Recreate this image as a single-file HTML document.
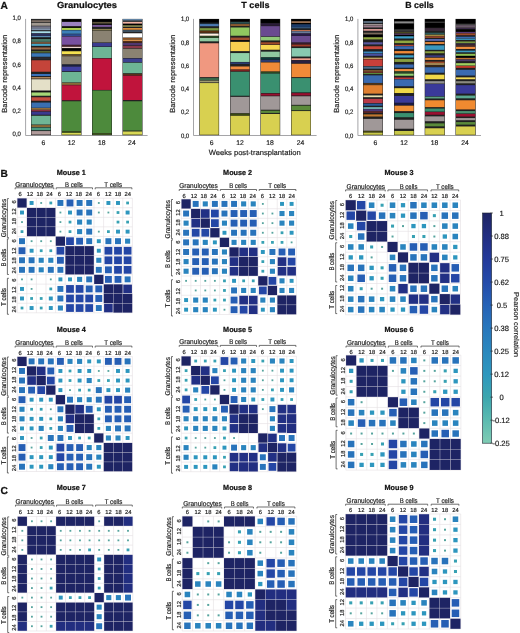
<!DOCTYPE html>
<html lang="en">
<head>
<meta charset="utf-8">
<title>Barcode representation and Pearson correlation</title>
<style>
html,body{margin:0;padding:0;background:#fff;}
body{width:520px;height:633px;overflow:hidden;}
svg{display:block;font-family:'Liberation Sans', sans-serif;will-change:transform;}
text{white-space:pre;}
</style>
</head>
<body>
<svg width="520" height="633" viewBox="0 0 520 633" shape-rendering="auto" text-rendering="geometricPrecision">
<rect x="0" y="0" width="520" height="633" fill="#ffffff"/>
<text x="87" y="8" font-size="8.8" text-anchor="middle" font-weight="bold" stroke="#111" stroke-width="0.22" fill="#111" textLength="60" lengthAdjust="spacingAndGlyphs">Granulocytes</text>
<path d="M25.6 18.9 V135.5 H147.6" fill="none" stroke="#8e8e92" stroke-width="0.8"/>
<text x="20.9" y="20.1" font-size="6.4" text-anchor="end" stroke="#1a1a1a" stroke-width="0.18" fill="#1a1a1a" textLength="8.3" lengthAdjust="spacingAndGlyphs">1,0</text>
<text x="20.9" y="43.35" font-size="6.4" text-anchor="end" stroke="#1a1a1a" stroke-width="0.18" fill="#1a1a1a" textLength="8.3" lengthAdjust="spacingAndGlyphs">0,8</text>
<text x="20.9" y="66.6" font-size="6.4" text-anchor="end" stroke="#1a1a1a" stroke-width="0.18" fill="#1a1a1a" textLength="8.3" lengthAdjust="spacingAndGlyphs">0,6</text>
<text x="20.9" y="89.85" font-size="6.4" text-anchor="end" stroke="#1a1a1a" stroke-width="0.18" fill="#1a1a1a" textLength="8.3" lengthAdjust="spacingAndGlyphs">0,4</text>
<text x="20.9" y="113.1" font-size="6.4" text-anchor="end" stroke="#1a1a1a" stroke-width="0.18" fill="#1a1a1a" textLength="8.3" lengthAdjust="spacingAndGlyphs">0,2</text>
<text x="20.9" y="136.35" font-size="6.4" text-anchor="end" stroke="#1a1a1a" stroke-width="0.18" fill="#1a1a1a" textLength="8.3" lengthAdjust="spacingAndGlyphs">0,0</text>
<text x="4.4" y="73.8" font-size="7.4" text-anchor="middle" stroke="#222" stroke-width="0.18" fill="#222" transform="rotate(-90 4.4 73.8)" textLength="78" lengthAdjust="spacingAndGlyphs" dominant-baseline="central">Barcode representation</text>
<rect x="31" y="18.9" width="20" height="116.3" fill="#202020"/>
<rect x="31.45" y="19.12" width="19.1" height="0.96" fill="#2a2a2a"/>
<rect x="31.45" y="20.32" width="19.1" height="1.56" fill="#8a7a70"/>
<rect x="31.45" y="22.77" width="19.1" height="2.96" fill="#a09890"/>
<rect x="31.45" y="26.42" width="19.1" height="1.36" fill="#8a8ca4"/>
<rect x="31.45" y="28.22" width="19.1" height="1.96" fill="#8292aa"/>
<rect x="31.45" y="31.27" width="19.1" height="1.96" fill="#a8dce8"/>
<rect x="31.45" y="33.62" width="19.1" height="2.06" fill="#2a3060"/>
<rect x="31.45" y="35.92" width="19.1" height="1.46" fill="#5a8ab0"/>
<rect x="31.45" y="37.62" width="19.1" height="0.96" fill="#111111"/>
<rect x="31.45" y="38.97" width="19.1" height="2.86" fill="#4a7a68"/>
<rect x="31.45" y="42.22" width="19.1" height="1.46" fill="#8a6040"/>
<rect x="31.45" y="43.92" width="19.1" height="1.96" fill="#48a8c8"/>
<rect x="31.45" y="47.42" width="19.1" height="2.06" fill="#9a6848"/>
<rect x="31.45" y="51.42" width="19.1" height="0.96" fill="#7a9a40"/>
<rect x="31.45" y="53.27" width="19.1" height="3.46" fill="#3a78b8"/>
<rect x="31.45" y="57.27" width="19.1" height="2.16" fill="#2a2a30"/>
<rect x="31.45" y="60.27" width="19.1" height="11.46" fill="#c4443a"/>
<rect x="31.45" y="73.97" width="19.1" height="2.06" fill="#3a70b8"/>
<rect x="31.45" y="77.12" width="19.1" height="1.36" fill="#c09060"/>
<rect x="31.45" y="79.27" width="19.1" height="11.26" fill="#e4e0c8"/>
<rect x="31.45" y="90.92" width="19.1" height="1.16" fill="#111111"/>
<rect x="31.45" y="92.47" width="19.1" height="3.26" fill="#a5d877"/>
<rect x="31.45" y="97.27" width="19.1" height="3.46" fill="#c44e3f"/>
<rect x="31.45" y="102.57" width="19.1" height="5.16" fill="#3a6fb0"/>
<rect x="31.45" y="108.12" width="19.1" height="1.56" fill="#a07840"/>
<rect x="31.45" y="109.92" width="19.1" height="1.46" fill="#8a3040"/>
<rect x="31.45" y="111.77" width="19.1" height="2.96" fill="#3a3a8f"/>
<rect x="31.45" y="115.77" width="19.1" height="8.76" fill="#6fb596"/>
<rect x="31.45" y="125.07" width="19.1" height="1.96" fill="#8a6a38"/>
<rect x="31.45" y="127.57" width="19.1" height="2.66" fill="#4a9a80"/>
<rect x="31.45" y="131.07" width="19.1" height="3.46" fill="#b09a9a"/>
<text x="43.4" y="145.2" font-size="6.8" text-anchor="middle" stroke="#222" stroke-width="0.18" fill="#222">6</text>
<rect x="61.5" y="18.9" width="20" height="116.3" fill="#202020"/>
<rect x="61.95" y="19.27" width="19.1" height="2.16" fill="#000000"/>
<rect x="61.95" y="21.97" width="19.1" height="4.26" fill="#9a82c0"/>
<rect x="61.95" y="26.62" width="19.1" height="1.26" fill="#000000"/>
<rect x="61.95" y="27.92" width="19.1" height="2.06" fill="#aed052"/>
<rect x="61.95" y="30.37" width="19.1" height="3.36" fill="#3c80b8"/>
<rect x="61.95" y="34.12" width="19.1" height="2.06" fill="#2c4c90"/>
<rect x="61.95" y="36.57" width="19.1" height="8.16" fill="#7850a0"/>
<rect x="61.95" y="45.12" width="19.1" height="1.46" fill="#4a2030"/>
<rect x="61.95" y="46.82" width="19.1" height="1.26" fill="#f0d8d0"/>
<rect x="61.95" y="48.47" width="19.1" height="2.06" fill="#000000"/>
<rect x="61.95" y="51.27" width="19.1" height="2.96" fill="#f5e050"/>
<rect x="61.95" y="54.62" width="19.1" height="1.26" fill="#6a5030"/>
<rect x="61.95" y="56.27" width="19.1" height="8.06" fill="#8a8070"/>
<rect x="61.95" y="64.72" width="19.1" height="1.46" fill="#1a2040"/>
<rect x="61.95" y="66.57" width="19.1" height="4.66" fill="#4040a0"/>
<rect x="61.95" y="71.97" width="19.1" height="10.46" fill="#6db595"/>
<rect x="61.95" y="82.82" width="19.1" height="2.06" fill="#8a6a38"/>
<rect x="61.95" y="85.27" width="19.1" height="14.96" fill="#c0143c"/>
<rect x="61.95" y="101.27" width="19.1" height="29.76" fill="#4d8a3c"/>
<rect x="61.95" y="131.42" width="19.1" height="1.26" fill="#4a6a20"/>
<rect x="61.95" y="132.92" width="19.1" height="1.76" fill="#d8d855"/>
<text x="71.5" y="145.2" font-size="6.8" text-anchor="middle" stroke="#222" stroke-width="0.18" fill="#222">12</text>
<rect x="92" y="18.9" width="20" height="116.3" fill="#202020"/>
<rect x="92.45" y="19.27" width="19.1" height="2.46" fill="#000000"/>
<rect x="92.45" y="22.12" width="19.1" height="1.46" fill="#6a6040"/>
<rect x="92.45" y="23.82" width="19.1" height="0.86" fill="#000000"/>
<rect x="92.45" y="24.92" width="19.1" height="1.96" fill="#7a5a9a"/>
<rect x="92.45" y="27.12" width="19.1" height="1.56" fill="#222222"/>
<rect x="92.45" y="28.92" width="19.1" height="1.46" fill="#8a8050"/>
<rect x="92.45" y="30.77" width="19.1" height="11.66" fill="#8a8272"/>
<rect x="92.45" y="42.97" width="19.1" height="3.46" fill="#3c3c90"/>
<rect x="92.45" y="46.97" width="19.1" height="11.06" fill="#6db595"/>
<rect x="92.45" y="58.57" width="19.1" height="31.36" fill="#c0143c"/>
<rect x="92.45" y="90.47" width="19.1" height="42.56" fill="#4d8a3c"/>
<rect x="92.45" y="133.42" width="19.1" height="1.26" fill="#4a6a20"/>
<text x="101.7" y="145.2" font-size="6.8" text-anchor="middle" stroke="#222" stroke-width="0.18" fill="#222">18</text>
<rect x="122.5" y="18.9" width="20" height="116.3" fill="#202020"/>
<rect x="122.95" y="19.02" width="19.1" height="1.56" fill="#6486a6"/>
<rect x="122.95" y="20.82" width="19.1" height="0.96" fill="#444444"/>
<rect x="122.95" y="22.02" width="19.1" height="1.66" fill="#f4b4a4"/>
<rect x="122.95" y="23.82" width="19.1" height="1.26" fill="#000000"/>
<rect x="122.95" y="25.32" width="19.1" height="1.56" fill="#8a8a50"/>
<rect x="122.95" y="28.12" width="19.1" height="1.56" fill="#f09a40"/>
<rect x="122.95" y="30.07" width="19.1" height="1.96" fill="#3c5060"/>
<rect x="122.95" y="33.27" width="19.1" height="4.26" fill="#ffffff"/>
<rect x="122.95" y="37.92" width="19.1" height="1.46" fill="#8a5020"/>
<rect x="122.95" y="39.62" width="19.1" height="1.26" fill="#f0a050"/>
<rect x="122.95" y="41.12" width="19.1" height="1.46" fill="#5a3018"/>
<rect x="122.95" y="42.97" width="19.1" height="2.36" fill="#503870"/>
<rect x="122.95" y="45.87" width="19.1" height="2.36" fill="#8a3848"/>
<rect x="122.95" y="48.77" width="19.1" height="9.26" fill="#8a8272"/>
<rect x="122.95" y="58.57" width="19.1" height="3.66" fill="#3c4090"/>
<rect x="122.95" y="62.77" width="19.1" height="10.46" fill="#6db595"/>
<rect x="122.95" y="73.92" width="19.1" height="1.36" fill="#5a3018"/>
<rect x="122.95" y="75.67" width="19.1" height="24.36" fill="#c0143c"/>
<rect x="122.95" y="101.27" width="19.1" height="29.26" fill="#4d8a3c"/>
<rect x="122.95" y="131.47" width="19.1" height="3.16" fill="#d8d855"/>
<text x="131.9" y="145.2" font-size="6.8" text-anchor="middle" stroke="#222" stroke-width="0.18" fill="#222">24</text>
<text x="255.4" y="8" font-size="8.8" text-anchor="middle" font-weight="bold" stroke="#111" stroke-width="0.22" fill="#111" textLength="28.2" lengthAdjust="spacingAndGlyphs">T cells</text>
<path d="M193.5 18.9 V135.5 H316.6" fill="none" stroke="#8e8e92" stroke-width="0.8"/>
<text x="189.2" y="21.4" font-size="6.4" text-anchor="end" stroke="#1a1a1a" stroke-width="0.18" fill="#1a1a1a" textLength="8.3" lengthAdjust="spacingAndGlyphs">1,0</text>
<text x="189.2" y="44.65" font-size="6.4" text-anchor="end" stroke="#1a1a1a" stroke-width="0.18" fill="#1a1a1a" textLength="8.3" lengthAdjust="spacingAndGlyphs">0,8</text>
<text x="189.2" y="67.9" font-size="6.4" text-anchor="end" stroke="#1a1a1a" stroke-width="0.18" fill="#1a1a1a" textLength="8.3" lengthAdjust="spacingAndGlyphs">0,6</text>
<text x="189.2" y="91.15" font-size="6.4" text-anchor="end" stroke="#1a1a1a" stroke-width="0.18" fill="#1a1a1a" textLength="8.3" lengthAdjust="spacingAndGlyphs">0,4</text>
<text x="189.2" y="114.4" font-size="6.4" text-anchor="end" stroke="#1a1a1a" stroke-width="0.18" fill="#1a1a1a" textLength="8.3" lengthAdjust="spacingAndGlyphs">0,2</text>
<text x="189.2" y="137.65" font-size="6.4" text-anchor="end" stroke="#1a1a1a" stroke-width="0.18" fill="#1a1a1a" textLength="8.3" lengthAdjust="spacingAndGlyphs">0,0</text>
<text x="172.8" y="73.8" font-size="7.4" text-anchor="middle" stroke="#222" stroke-width="0.18" fill="#222" transform="rotate(-90 172.8 73.8)" textLength="78" lengthAdjust="spacingAndGlyphs" dominant-baseline="central">Barcode representation</text>
<rect x="199.3" y="18.9" width="19.8" height="116.3" fill="#202020"/>
<rect x="199.75" y="19.17" width="18.9" height="3.36" fill="#000000"/>
<rect x="199.75" y="22.92" width="18.9" height="0.76" fill="#1a3040"/>
<rect x="199.75" y="24.07" width="18.9" height="2.16" fill="#4a78b0"/>
<rect x="199.75" y="28.17" width="18.9" height="2.36" fill="#7a9a40"/>
<rect x="199.75" y="30.92" width="18.9" height="1.86" fill="#5a3010"/>
<rect x="199.75" y="33.57" width="18.9" height="2.16" fill="#fff0e0"/>
<rect x="199.75" y="36.12" width="18.9" height="1.46" fill="#2a4a20"/>
<rect x="199.75" y="37.97" width="18.9" height="3.36" fill="#90c8a0"/>
<rect x="199.75" y="43.27" width="18.9" height="33.86" fill="#f09880"/>
<rect x="199.75" y="78.07" width="18.9" height="2.16" fill="#3a6a4a"/>
<rect x="199.75" y="80.62" width="18.9" height="1.76" fill="#a09a70"/>
<rect x="199.75" y="83.07" width="18.9" height="51.66" fill="#d8d050"/>
<text x="211.6" y="145.2" font-size="6.8" text-anchor="middle" stroke="#222" stroke-width="0.18" fill="#222">6</text>
<rect x="230.1" y="18.9" width="19.8" height="116.3" fill="#202020"/>
<rect x="230.55" y="19.17" width="18.9" height="2.36" fill="#000000"/>
<rect x="230.55" y="21.92" width="18.9" height="1.76" fill="#2a5050"/>
<rect x="230.55" y="24.07" width="18.9" height="1.96" fill="#8a5a30"/>
<rect x="230.55" y="27.47" width="18.9" height="8.26" fill="#90c860"/>
<rect x="230.55" y="37.57" width="18.9" height="2.46" fill="#a05030"/>
<rect x="230.55" y="40.42" width="18.9" height="1.06" fill="#000000"/>
<rect x="230.55" y="41.87" width="18.9" height="9.26" fill="#f8d050"/>
<rect x="230.55" y="53.07" width="18.9" height="8.86" fill="#90d0a8"/>
<rect x="230.55" y="62.32" width="18.9" height="1.76" fill="#2a3a70"/>
<rect x="230.55" y="64.32" width="18.9" height="1.76" fill="#222222"/>
<rect x="230.55" y="66.47" width="18.9" height="2.96" fill="#f08a40"/>
<rect x="230.55" y="69.82" width="18.9" height="1.56" fill="#7a2020"/>
<rect x="230.55" y="71.77" width="18.9" height="23.96" fill="#3a9070"/>
<rect x="230.55" y="96.87" width="18.9" height="16.36" fill="#a09898"/>
<rect x="230.55" y="113.62" width="18.9" height="1.76" fill="#3a4a10"/>
<rect x="230.55" y="115.77" width="18.9" height="18.96" fill="#d8d050"/>
<text x="240" y="145.2" font-size="6.8" text-anchor="middle" stroke="#222" stroke-width="0.18" fill="#222">12</text>
<rect x="260.4" y="18.9" width="19.8" height="116.3" fill="#202020"/>
<rect x="260.85" y="19.17" width="18.9" height="3.76" fill="#000000"/>
<rect x="260.85" y="23.47" width="18.9" height="2.16" fill="#2a1a3a"/>
<rect x="260.85" y="26.17" width="18.9" height="10.16" fill="#6a4a90"/>
<rect x="260.85" y="36.87" width="18.9" height="3.56" fill="#90c878"/>
<rect x="260.85" y="42.27" width="18.9" height="2.16" fill="#a04a28"/>
<rect x="260.85" y="44.97" width="18.9" height="4.76" fill="#f8d850"/>
<rect x="260.85" y="51.67" width="18.9" height="5.56" fill="#90c8a0"/>
<rect x="260.85" y="57.62" width="18.9" height="1.76" fill="#0a3a3a"/>
<rect x="260.85" y="59.77" width="18.9" height="2.16" fill="#2a3a70"/>
<rect x="260.85" y="62.47" width="18.9" height="8.96" fill="#f08a38"/>
<rect x="260.85" y="71.82" width="18.9" height="1.36" fill="#2a4a20"/>
<rect x="260.85" y="73.57" width="18.9" height="19.46" fill="#3a9070"/>
<rect x="260.85" y="93.62" width="18.9" height="1.96" fill="#9a1030"/>
<rect x="260.85" y="96.27" width="18.9" height="13.46" fill="#a09898"/>
<rect x="260.85" y="110.67" width="18.9" height="2.26" fill="#5a8a3a"/>
<rect x="260.85" y="113.97" width="18.9" height="20.76" fill="#d8d050"/>
<text x="270" y="145.2" font-size="6.8" text-anchor="middle" stroke="#222" stroke-width="0.18" fill="#222">18</text>
<rect x="291.1" y="18.9" width="19.9" height="116.3" fill="#202020"/>
<rect x="291.55" y="19.17" width="19" height="1.96" fill="#000000"/>
<rect x="291.55" y="21.52" width="19" height="1.16" fill="#e0a070"/>
<rect x="291.55" y="22.92" width="19" height="1.06" fill="#000000"/>
<rect x="291.55" y="24.37" width="19" height="2.56" fill="#1a3a6a"/>
<rect x="291.55" y="27.32" width="19" height="1.06" fill="#3a6aa0"/>
<rect x="291.55" y="28.62" width="19" height="1.16" fill="#222222"/>
<rect x="291.55" y="30.02" width="19" height="1.06" fill="#c07050"/>
<rect x="291.55" y="31.32" width="19" height="2.06" fill="#6a7a9a"/>
<rect x="291.55" y="33.62" width="19" height="1.96" fill="#2a1a4a"/>
<rect x="291.55" y="35.97" width="19" height="6.46" fill="#6a4a90"/>
<rect x="291.55" y="42.82" width="19" height="1.36" fill="#3a1a2a"/>
<rect x="291.55" y="44.57" width="19" height="1.86" fill="#a03a2a"/>
<rect x="291.55" y="48.07" width="19" height="8.46" fill="#88c8b0"/>
<rect x="291.55" y="58.32" width="19" height="1.76" fill="#f0a090"/>
<rect x="291.55" y="60.47" width="19" height="2.76" fill="#2a2040"/>
<rect x="291.55" y="63.77" width="19" height="13.36" fill="#f08a38"/>
<rect x="291.55" y="78.07" width="19" height="14.26" fill="#3a9070"/>
<rect x="291.55" y="93.17" width="19" height="2.26" fill="#9a1030"/>
<rect x="291.55" y="96.27" width="19" height="8.56" fill="#a09898"/>
<rect x="291.55" y="105.67" width="19" height="4.56" fill="#5a8a3a"/>
<rect x="291.55" y="111.07" width="19" height="23.66" fill="#d8d050"/>
<text x="300.45" y="145.2" font-size="6.8" text-anchor="middle" stroke="#222" stroke-width="0.18" fill="#222">24</text>
<text x="419.5" y="8" font-size="8.8" text-anchor="middle" font-weight="bold" stroke="#111" stroke-width="0.22" fill="#111" textLength="28.6" lengthAdjust="spacingAndGlyphs">B cells</text>
<path d="M357.9 18.9 V135.5 H481" fill="none" stroke="#8e8e92" stroke-width="0.8"/>
<text x="353.3" y="21.4" font-size="6.4" text-anchor="end" stroke="#1a1a1a" stroke-width="0.18" fill="#1a1a1a" textLength="8.3" lengthAdjust="spacingAndGlyphs">1,0</text>
<text x="353.3" y="44.65" font-size="6.4" text-anchor="end" stroke="#1a1a1a" stroke-width="0.18" fill="#1a1a1a" textLength="8.3" lengthAdjust="spacingAndGlyphs">0,8</text>
<text x="353.3" y="67.9" font-size="6.4" text-anchor="end" stroke="#1a1a1a" stroke-width="0.18" fill="#1a1a1a" textLength="8.3" lengthAdjust="spacingAndGlyphs">0,6</text>
<text x="353.3" y="91.15" font-size="6.4" text-anchor="end" stroke="#1a1a1a" stroke-width="0.18" fill="#1a1a1a" textLength="8.3" lengthAdjust="spacingAndGlyphs">0,4</text>
<text x="353.3" y="114.4" font-size="6.4" text-anchor="end" stroke="#1a1a1a" stroke-width="0.18" fill="#1a1a1a" textLength="8.3" lengthAdjust="spacingAndGlyphs">0,2</text>
<text x="353.3" y="137.65" font-size="6.4" text-anchor="end" stroke="#1a1a1a" stroke-width="0.18" fill="#1a1a1a" textLength="8.3" lengthAdjust="spacingAndGlyphs">0,0</text>
<text x="336.5" y="73.8" font-size="7.4" text-anchor="middle" stroke="#222" stroke-width="0.18" fill="#222" transform="rotate(-90 336.5 73.8)" textLength="78" lengthAdjust="spacingAndGlyphs" dominant-baseline="central">Barcode representation</text>
<rect x="363" y="18.9" width="20" height="116.3" fill="#202020"/>
<rect x="363.45" y="19.02" width="19.1" height="1.76" fill="#000000"/>
<rect x="363.45" y="21.02" width="19.1" height="2.06" fill="#5a6a7a"/>
<rect x="363.45" y="24.22" width="19.1" height="1.16" fill="#c0b0b0"/>
<rect x="363.45" y="25.62" width="19.1" height="1.86" fill="#9a7a8a"/>
<rect x="363.45" y="29.12" width="19.1" height="1.56" fill="#f0a8a0"/>
<rect x="363.45" y="32.72" width="19.1" height="1.76" fill="#7a6a5a"/>
<rect x="363.45" y="34.72" width="19.1" height="2.16" fill="#000000"/>
<rect x="363.45" y="37.27" width="19.1" height="2.16" fill="#90a840"/>
<rect x="363.45" y="42.27" width="19.1" height="2.16" fill="#5a58a0"/>
<rect x="363.45" y="46.27" width="19.1" height="2.86" fill="#c8483a"/>
<rect x="363.45" y="51.52" width="19.1" height="1.86" fill="#3a8ac0"/>
<rect x="363.45" y="53.77" width="19.1" height="2.06" fill="#4a50a0"/>
<rect x="363.45" y="57.62" width="19.1" height="1.36" fill="#c0a060"/>
<rect x="363.45" y="59.37" width="19.1" height="6.66" fill="#c8403a"/>
<rect x="363.45" y="66.57" width="19.1" height="2.16" fill="#4a6a8a"/>
<rect x="363.45" y="70.52" width="19.1" height="0.86" fill="#d09040"/>
<rect x="363.45" y="71.62" width="19.1" height="1.06" fill="#8a2a2a"/>
<rect x="363.45" y="72.92" width="19.1" height="1.16" fill="#5a8a3a"/>
<rect x="363.45" y="75.37" width="19.1" height="7.56" fill="#3a6ab0"/>
<rect x="363.45" y="83.32" width="19.1" height="1.46" fill="#5a3a1a"/>
<rect x="363.45" y="85.17" width="19.1" height="8.46" fill="#e08030"/>
<rect x="363.45" y="95.42" width="19.1" height="1.76" fill="#e8e0b0"/>
<rect x="363.45" y="98.87" width="19.1" height="4.26" fill="#b83a48"/>
<rect x="363.45" y="103.67" width="19.1" height="2.06" fill="#2a5a9a"/>
<rect x="363.45" y="107.12" width="19.1" height="1.86" fill="#70b0b0"/>
<rect x="363.45" y="109.22" width="19.1" height="2.06" fill="#4a3a7a"/>
<rect x="363.45" y="111.52" width="19.1" height="1.16" fill="#7a2a2a"/>
<rect x="363.45" y="114.37" width="19.1" height="2.16" fill="#c07830"/>
<rect x="363.45" y="118.87" width="19.1" height="11.86" fill="#a09898"/>
<rect x="363.45" y="131.12" width="19.1" height="1.06" fill="#4a4a10"/>
<rect x="363.45" y="132.57" width="19.1" height="2.16" fill="#c8c848"/>
<text x="375.4" y="145.2" font-size="6.8" text-anchor="middle" stroke="#222" stroke-width="0.18" fill="#222">6</text>
<rect x="394" y="18.9" width="20.1" height="116.3" fill="#202020"/>
<rect x="394.45" y="19.02" width="19.2" height="2.06" fill="#000000"/>
<rect x="394.45" y="21.47" width="19.2" height="1.86" fill="#8a8a8a"/>
<rect x="394.45" y="23.87" width="19.2" height="5.06" fill="#000000"/>
<rect x="394.45" y="29.47" width="19.2" height="2.16" fill="#3a3a3a"/>
<rect x="394.45" y="32.02" width="19.2" height="1.36" fill="#4a4a20"/>
<rect x="394.45" y="33.62" width="19.2" height="1.16" fill="#5a3a6a"/>
<rect x="394.45" y="35.02" width="19.2" height="1.06" fill="#000000"/>
<rect x="394.45" y="36.32" width="19.2" height="2.16" fill="#3aa0c8"/>
<rect x="394.45" y="40.57" width="19.2" height="2.56" fill="#90a840"/>
<rect x="394.45" y="44.82" width="19.2" height="1.06" fill="#c0483a"/>
<rect x="394.45" y="46.27" width="19.2" height="2.86" fill="#3a6ab0"/>
<rect x="394.45" y="51.07" width="19.2" height="2.36" fill="#f08a38"/>
<rect x="394.45" y="55.27" width="19.2" height="2.26" fill="#3aa0c8"/>
<rect x="394.45" y="59.07" width="19.2" height="2.86" fill="#8aa040"/>
<rect x="394.45" y="64.47" width="19.2" height="3.26" fill="#3a6ab0"/>
<rect x="394.45" y="69.07" width="19.2" height="2.16" fill="#f09040"/>
<rect x="394.45" y="71.62" width="19.2" height="1.06" fill="#2a5a2a"/>
<rect x="394.45" y="73.57" width="19.2" height="2.16" fill="#90d070"/>
<rect x="394.45" y="77.52" width="19.2" height="1.46" fill="#c03a3a"/>
<rect x="394.45" y="79.37" width="19.2" height="6.86" fill="#3a6ab0"/>
<rect x="394.45" y="88.17" width="19.2" height="4.86" fill="#f0d848"/>
<rect x="394.45" y="95.97" width="19.2" height="6.76" fill="#3a3a9a"/>
<rect x="394.45" y="103.27" width="19.2" height="1.86" fill="#1a1a4a"/>
<rect x="394.45" y="105.67" width="19.2" height="5.46" fill="#f09038"/>
<rect x="394.45" y="113.07" width="19.2" height="4.16" fill="#3a9070"/>
<rect x="394.45" y="119.77" width="19.2" height="8.96" fill="#a09898"/>
<rect x="394.45" y="130.97" width="19.2" height="3.76" fill="#c8c848"/>
<text x="404.05" y="145.2" font-size="6.8" text-anchor="middle" stroke="#222" stroke-width="0.18" fill="#222">12</text>
<rect x="424.7" y="18.9" width="20.2" height="116.3" fill="#202020"/>
<rect x="425.15" y="19.17" width="19.3" height="2.36" fill="#000000"/>
<rect x="425.15" y="21.92" width="19.3" height="0.46" fill="#8a8a8a"/>
<rect x="425.15" y="22.77" width="19.3" height="4.86" fill="#000000"/>
<rect x="425.15" y="28.17" width="19.3" height="2.76" fill="#3a2a3a"/>
<rect x="425.15" y="32.72" width="19.3" height="1.76" fill="#2a5a5a"/>
<rect x="425.15" y="34.72" width="19.3" height="1.36" fill="#a08a40"/>
<rect x="425.15" y="36.32" width="19.3" height="1.56" fill="#a04a2a"/>
<rect x="425.15" y="39.02" width="19.3" height="1.86" fill="#5a6ab0"/>
<rect x="425.15" y="42.12" width="19.3" height="1.76" fill="#f09040"/>
<rect x="425.15" y="45.37" width="19.3" height="4.46" fill="#3a98c0"/>
<rect x="425.15" y="51.27" width="19.3" height="1.96" fill="#8aa040"/>
<rect x="425.15" y="55.27" width="19.3" height="1.96" fill="#3a3a7a"/>
<rect x="425.15" y="57.77" width="19.3" height="2.16" fill="#e08a38"/>
<rect x="425.15" y="61.62" width="19.3" height="1.36" fill="#a04a2a"/>
<rect x="425.15" y="63.22" width="19.3" height="1.56" fill="#c0a060"/>
<rect x="425.15" y="65.02" width="19.3" height="1.86" fill="#3a2a1a"/>
<rect x="425.15" y="67.27" width="19.3" height="5.46" fill="#3a6ab0"/>
<rect x="425.15" y="74.67" width="19.3" height="4.56" fill="#f0d848"/>
<rect x="425.15" y="81.17" width="19.3" height="2.36" fill="#909090"/>
<rect x="425.15" y="84.07" width="19.3" height="12.26" fill="#3a3a9a"/>
<rect x="425.15" y="96.72" width="19.3" height="1.76" fill="#5aa080"/>
<rect x="425.15" y="100.27" width="19.3" height="6.86" fill="#f08a30"/>
<rect x="425.15" y="108.57" width="19.3" height="2.96" fill="#3a9070"/>
<rect x="425.15" y="112.07" width="19.3" height="2.66" fill="#9a1030"/>
<rect x="425.15" y="116.37" width="19.3" height="4.86" fill="#a09898"/>
<rect x="425.15" y="123.37" width="19.3" height="2.96" fill="#5a8a3a"/>
<rect x="425.15" y="128.27" width="19.3" height="6.46" fill="#d8d050"/>
<text x="434.5" y="145.2" font-size="6.8" text-anchor="middle" stroke="#222" stroke-width="0.18" fill="#222">18</text>
<rect x="455.5" y="18.9" width="20.2" height="116.3" fill="#202020"/>
<rect x="455.95" y="19.17" width="19.3" height="4.36" fill="#000000"/>
<rect x="455.95" y="23.92" width="19.3" height="0.86" fill="#4a4a4a"/>
<rect x="455.95" y="25.17" width="19.3" height="2.46" fill="#6a5a6a"/>
<rect x="455.95" y="28.02" width="19.3" height="1.06" fill="#3a2a4a"/>
<rect x="455.95" y="29.47" width="19.3" height="2.16" fill="#000000"/>
<rect x="455.95" y="32.02" width="19.3" height="1.16" fill="#5a3a7a"/>
<rect x="455.95" y="33.42" width="19.3" height="1.76" fill="#a04a2a"/>
<rect x="455.95" y="36.72" width="19.3" height="1.76" fill="#3a6ab0"/>
<rect x="455.95" y="38.72" width="19.3" height="1.16" fill="#3aa0c8"/>
<rect x="455.95" y="41.42" width="19.3" height="1.86" fill="#7a9a40"/>
<rect x="455.95" y="43.52" width="19.3" height="1.06" fill="#3a2a4a"/>
<rect x="455.95" y="44.82" width="19.3" height="1.76" fill="#4a2a2a"/>
<rect x="455.95" y="46.82" width="19.3" height="2.16" fill="#f09040"/>
<rect x="455.95" y="50.62" width="19.3" height="1.66" fill="#3a98c0"/>
<rect x="455.95" y="53.82" width="19.3" height="1.96" fill="#90c050"/>
<rect x="455.95" y="56.02" width="19.3" height="1.66" fill="#000000"/>
<rect x="455.95" y="57.92" width="19.3" height="1.46" fill="#c07030"/>
<rect x="455.95" y="59.62" width="19.3" height="1.56" fill="#4a3a6a"/>
<rect x="455.95" y="63.17" width="19.3" height="2.36" fill="#a0d060"/>
<rect x="455.95" y="65.92" width="19.3" height="1.96" fill="#c03a2a"/>
<rect x="455.95" y="69.77" width="19.3" height="5.76" fill="#3a6ab0"/>
<rect x="455.95" y="77.37" width="19.3" height="1.86" fill="#f0d858"/>
<rect x="455.95" y="81.17" width="19.3" height="2.16" fill="#8a8a80"/>
<rect x="455.95" y="85.17" width="19.3" height="8.46" fill="#3a3a9a"/>
<rect x="455.95" y="95.57" width="19.3" height="2.76" fill="#5aa890"/>
<rect x="455.95" y="100.27" width="19.3" height="9.16" fill="#f08a30"/>
<rect x="455.95" y="111.07" width="19.3" height="2.36" fill="#4a9070"/>
<rect x="455.95" y="113.97" width="19.3" height="2.56" fill="#9a1030"/>
<rect x="455.95" y="118.07" width="19.3" height="2.16" fill="#a09898"/>
<rect x="455.95" y="122.07" width="19.3" height="2.56" fill="#5a8a3a"/>
<rect x="455.95" y="126.47" width="19.3" height="8.26" fill="#d8d050"/>
<text x="465" y="145.2" font-size="6.8" text-anchor="middle" stroke="#222" stroke-width="0.18" fill="#222">24</text>
<text x="254.7" y="154.6" font-size="7.5" text-anchor="middle" stroke="#222" stroke-width="0.18" fill="#222" textLength="92" lengthAdjust="spacingAndGlyphs">Weeks post-transplantation</text>
<text x="0.6" y="8.6" font-size="10.2" text-anchor="start" font-weight="bold" stroke="#111" stroke-width="0.22" fill="#111">A</text>
<text x="71.3" y="174.5" font-size="7.3" text-anchor="middle" font-weight="bold" stroke="#111" stroke-width="0.22" fill="#111" textLength="29" lengthAdjust="spacingAndGlyphs">Mouse 1</text>
<rect x="17.2" y="198.2" width="115.2" height="114.6" fill="#fff"/>
<path d="M17.2 198.2V312.8M17.2 198.2H132.4M26.8 198.2V312.8M17.2 207.75H132.4M36.4 198.2V312.8M17.2 217.3H132.4M46 198.2V312.8M17.2 226.85H132.4M55.6 198.2V312.8M17.2 236.4H132.4M65.2 198.2V312.8M17.2 245.95H132.4M74.8 198.2V312.8M17.2 255.5H132.4M84.4 198.2V312.8M17.2 265.05H132.4M94 198.2V312.8M17.2 274.6H132.4M103.6 198.2V312.8M17.2 284.15H132.4M113.2 198.2V312.8M17.2 293.7H132.4M122.8 198.2V312.8M17.2 303.25H132.4M132.4 198.2V312.8M17.2 312.8H132.4" stroke="#e4dfe2" stroke-width="0.6" fill="none"/>
<rect x="17.38" y="198.38" width="9.25" height="9.2" fill="#1e2464"/>
<rect x="29.63" y="201.02" width="3.94" height="3.92" fill="#2d96be"/>
<rect x="40.29" y="202.07" width="1.82" height="1.81" fill="#56a49e"/>
<rect x="49.41" y="201.59" width="2.78" height="2.77" fill="#37a1b3"/>
<rect x="57.42" y="200.01" width="5.95" height="5.92" fill="#2873bb"/>
<rect x="66.54" y="199.54" width="6.91" height="6.88" fill="#265eb4"/>
<rect x="76.62" y="200.01" width="5.95" height="5.92" fill="#2873bb"/>
<rect x="86.22" y="200.01" width="5.95" height="5.92" fill="#2873bb"/>
<rect x="97.89" y="202.07" width="1.82" height="1.81" fill="#56a49e"/>
<rect x="106.43" y="201.02" width="3.94" height="3.92" fill="#2d96be"/>
<rect x="116.03" y="201.02" width="3.94" height="3.92" fill="#2d96be"/>
<rect x="126.21" y="201.59" width="2.78" height="2.77" fill="#37a1b3"/>
<rect x="20.03" y="210.57" width="3.94" height="3.92" fill="#2d96be"/>
<rect x="26.97" y="207.93" width="9.25" height="9.2" fill="#1e2464"/>
<rect x="36.57" y="207.93" width="9.25" height="9.2" fill="#1e2464"/>
<rect x="46.17" y="207.93" width="9.25" height="9.2" fill="#1e2464"/>
<rect x="59.49" y="211.62" width="1.82" height="1.81" fill="#56a49e"/>
<rect x="68.03" y="210.57" width="3.94" height="3.92" fill="#2d96be"/>
<rect x="76.62" y="209.56" width="5.95" height="5.92" fill="#2873bb"/>
<rect x="86.22" y="209.56" width="5.95" height="5.92" fill="#2873bb"/>
<rect x="97.89" y="211.62" width="1.82" height="1.81" fill="#56a49e"/>
<rect x="107.49" y="211.62" width="1.82" height="1.81" fill="#56a49e"/>
<rect x="116.61" y="211.14" width="2.78" height="2.77" fill="#37a1b3"/>
<rect x="125.63" y="210.57" width="3.94" height="3.92" fill="#2d96be"/>
<rect x="21.09" y="221.17" width="1.82" height="1.81" fill="#56a49e"/>
<rect x="26.97" y="217.47" width="9.25" height="9.2" fill="#1e2464"/>
<rect x="36.57" y="217.47" width="9.25" height="9.2" fill="#1e2464"/>
<rect x="46.17" y="217.47" width="9.25" height="9.2" fill="#1e2464"/>
<rect x="59.49" y="221.17" width="1.82" height="1.81" fill="#56a49e"/>
<rect x="68.61" y="220.69" width="2.78" height="2.77" fill="#37a1b3"/>
<rect x="77.06" y="219.54" width="5.09" height="5.06" fill="#2a84be"/>
<rect x="86.66" y="219.54" width="5.09" height="5.06" fill="#2a84be"/>
<rect x="116.61" y="220.69" width="2.78" height="2.77" fill="#37a1b3"/>
<rect x="126.21" y="220.69" width="2.78" height="2.77" fill="#37a1b3"/>
<rect x="20.61" y="230.24" width="2.78" height="2.77" fill="#37a1b3"/>
<rect x="26.97" y="227.03" width="9.25" height="9.2" fill="#1e2464"/>
<rect x="36.57" y="227.03" width="9.25" height="9.2" fill="#1e2464"/>
<rect x="46.17" y="227.03" width="9.25" height="9.2" fill="#1e2464"/>
<rect x="59.49" y="230.72" width="1.82" height="1.81" fill="#56a49e"/>
<rect x="68.61" y="230.24" width="2.78" height="2.77" fill="#37a1b3"/>
<rect x="77.06" y="229.09" width="5.09" height="5.06" fill="#2a84be"/>
<rect x="86.22" y="228.66" width="5.95" height="5.92" fill="#2873bb"/>
<rect x="97.89" y="230.72" width="1.82" height="1.81" fill="#56a49e"/>
<rect x="107.01" y="230.24" width="2.78" height="2.77" fill="#37a1b3"/>
<rect x="116.03" y="229.67" width="3.94" height="3.92" fill="#2d96be"/>
<rect x="125.63" y="229.67" width="3.94" height="3.92" fill="#2d96be"/>
<rect x="19.02" y="238.21" width="5.95" height="5.92" fill="#2873bb"/>
<rect x="30.69" y="240.27" width="1.82" height="1.81" fill="#56a49e"/>
<rect x="40.29" y="240.27" width="1.82" height="1.81" fill="#56a49e"/>
<rect x="49.89" y="240.27" width="1.82" height="1.81" fill="#56a49e"/>
<rect x="55.77" y="236.58" width="9.25" height="9.2" fill="#1e2464"/>
<rect x="66.11" y="237.31" width="7.78" height="7.74" fill="#2446a5"/>
<rect x="76.14" y="237.74" width="6.91" height="6.88" fill="#265eb4"/>
<rect x="86.22" y="238.21" width="5.95" height="5.92" fill="#2873bb"/>
<rect x="96.83" y="239.22" width="3.94" height="3.92" fill="#2d96be"/>
<rect x="105.42" y="238.21" width="5.95" height="5.92" fill="#2873bb"/>
<rect x="115.02" y="238.21" width="5.95" height="5.92" fill="#2873bb"/>
<rect x="125.06" y="238.64" width="5.09" height="5.06" fill="#2a84be"/>
<rect x="18.54" y="247.29" width="6.91" height="6.88" fill="#265eb4"/>
<rect x="29.63" y="248.77" width="3.94" height="3.92" fill="#2d96be"/>
<rect x="39.81" y="249.34" width="2.78" height="2.77" fill="#37a1b3"/>
<rect x="49.41" y="249.34" width="2.78" height="2.77" fill="#37a1b3"/>
<rect x="56.51" y="246.86" width="7.78" height="7.74" fill="#2446a5"/>
<rect x="65.38" y="246.12" width="9.25" height="9.2" fill="#1e2464"/>
<rect x="74.97" y="246.12" width="9.25" height="9.2" fill="#1e2464"/>
<rect x="84.58" y="246.12" width="9.25" height="9.2" fill="#1e2464"/>
<rect x="96.83" y="248.77" width="3.94" height="3.92" fill="#2d96be"/>
<rect x="104.51" y="246.86" width="7.78" height="7.74" fill="#2446a5"/>
<rect x="114.11" y="246.86" width="7.78" height="7.74" fill="#2446a5"/>
<rect x="123.71" y="246.86" width="7.78" height="7.74" fill="#2446a5"/>
<rect x="19.02" y="257.31" width="5.95" height="5.92" fill="#2873bb"/>
<rect x="28.62" y="257.31" width="5.95" height="5.92" fill="#2873bb"/>
<rect x="38.66" y="257.74" width="5.09" height="5.06" fill="#2a84be"/>
<rect x="48.26" y="257.74" width="5.09" height="5.06" fill="#2a84be"/>
<rect x="56.94" y="256.84" width="6.91" height="6.88" fill="#265eb4"/>
<rect x="65.38" y="255.68" width="9.25" height="9.2" fill="#1e2464"/>
<rect x="74.97" y="255.68" width="9.25" height="9.2" fill="#1e2464"/>
<rect x="84.58" y="255.68" width="9.25" height="9.2" fill="#1e2464"/>
<rect x="96.26" y="257.74" width="5.09" height="5.06" fill="#2a84be"/>
<rect x="104.51" y="256.41" width="7.78" height="7.74" fill="#2446a5"/>
<rect x="114.11" y="256.41" width="7.78" height="7.74" fill="#2446a5"/>
<rect x="123.71" y="256.41" width="7.78" height="7.74" fill="#2446a5"/>
<rect x="19.02" y="266.86" width="5.95" height="5.92" fill="#2873bb"/>
<rect x="28.62" y="266.86" width="5.95" height="5.92" fill="#2873bb"/>
<rect x="38.66" y="267.29" width="5.09" height="5.06" fill="#2a84be"/>
<rect x="47.82" y="266.86" width="5.95" height="5.92" fill="#2873bb"/>
<rect x="57.42" y="266.86" width="5.95" height="5.92" fill="#2873bb"/>
<rect x="65.38" y="265.23" width="9.25" height="9.2" fill="#1e2464"/>
<rect x="74.97" y="265.23" width="9.25" height="9.2" fill="#1e2464"/>
<rect x="84.58" y="265.23" width="9.25" height="9.2" fill="#1e2464"/>
<rect x="95.82" y="266.86" width="5.95" height="5.92" fill="#2873bb"/>
<rect x="104.94" y="266.39" width="6.91" height="6.88" fill="#265eb4"/>
<rect x="114.11" y="265.96" width="7.78" height="7.74" fill="#2446a5"/>
<rect x="123.71" y="265.96" width="7.78" height="7.74" fill="#2446a5"/>
<rect x="21.09" y="278.47" width="1.82" height="1.81" fill="#56a49e"/>
<rect x="30.69" y="278.47" width="1.82" height="1.81" fill="#56a49e"/>
<rect x="49.89" y="278.47" width="1.82" height="1.81" fill="#56a49e"/>
<rect x="58.43" y="277.42" width="3.94" height="3.92" fill="#2d96be"/>
<rect x="68.03" y="277.42" width="3.94" height="3.92" fill="#2d96be"/>
<rect x="77.06" y="276.84" width="5.09" height="5.06" fill="#2a84be"/>
<rect x="86.22" y="276.41" width="5.95" height="5.92" fill="#2873bb"/>
<rect x="94.17" y="274.78" width="9.25" height="9.2" fill="#1e2464"/>
<rect x="104.94" y="275.94" width="6.91" height="6.88" fill="#265eb4"/>
<rect x="114.54" y="275.94" width="6.91" height="6.88" fill="#265eb4"/>
<rect x="124.62" y="276.41" width="5.95" height="5.92" fill="#2873bb"/>
<rect x="20.03" y="286.97" width="3.94" height="3.92" fill="#2d96be"/>
<rect x="30.69" y="288.02" width="1.82" height="1.81" fill="#56a49e"/>
<rect x="49.41" y="287.54" width="2.78" height="2.77" fill="#37a1b3"/>
<rect x="57.42" y="285.96" width="5.95" height="5.92" fill="#2873bb"/>
<rect x="66.11" y="285.06" width="7.78" height="7.74" fill="#2446a5"/>
<rect x="75.71" y="285.06" width="7.78" height="7.74" fill="#2446a5"/>
<rect x="85.74" y="285.49" width="6.91" height="6.88" fill="#265eb4"/>
<rect x="95.34" y="285.49" width="6.91" height="6.88" fill="#265eb4"/>
<rect x="103.77" y="284.32" width="9.25" height="9.2" fill="#1e2464"/>
<rect x="113.38" y="284.32" width="9.25" height="9.2" fill="#1e2464"/>
<rect x="123.28" y="284.63" width="8.64" height="8.6" fill="#223084"/>
<rect x="20.03" y="296.52" width="3.94" height="3.92" fill="#2d96be"/>
<rect x="30.21" y="297.09" width="2.78" height="2.77" fill="#37a1b3"/>
<rect x="39.81" y="297.09" width="2.78" height="2.77" fill="#37a1b3"/>
<rect x="48.83" y="296.52" width="3.94" height="3.92" fill="#2d96be"/>
<rect x="57.42" y="295.51" width="5.95" height="5.92" fill="#2873bb"/>
<rect x="66.11" y="294.61" width="7.78" height="7.74" fill="#2446a5"/>
<rect x="75.71" y="294.61" width="7.78" height="7.74" fill="#2446a5"/>
<rect x="85.31" y="294.61" width="7.78" height="7.74" fill="#2446a5"/>
<rect x="95.34" y="295.04" width="6.91" height="6.88" fill="#265eb4"/>
<rect x="103.77" y="293.88" width="9.25" height="9.2" fill="#1e2464"/>
<rect x="113.38" y="293.88" width="9.25" height="9.2" fill="#1e2464"/>
<rect x="122.97" y="293.88" width="9.25" height="9.2" fill="#1e2464"/>
<rect x="20.61" y="306.64" width="2.78" height="2.77" fill="#37a1b3"/>
<rect x="29.63" y="306.07" width="3.94" height="3.92" fill="#2d96be"/>
<rect x="39.81" y="306.64" width="2.78" height="2.77" fill="#37a1b3"/>
<rect x="48.83" y="306.07" width="3.94" height="3.92" fill="#2d96be"/>
<rect x="57.86" y="305.49" width="5.09" height="5.06" fill="#2a84be"/>
<rect x="66.11" y="304.16" width="7.78" height="7.74" fill="#2446a5"/>
<rect x="75.71" y="304.16" width="7.78" height="7.74" fill="#2446a5"/>
<rect x="85.31" y="304.16" width="7.78" height="7.74" fill="#2446a5"/>
<rect x="95.82" y="305.06" width="5.95" height="5.92" fill="#2873bb"/>
<rect x="104.08" y="303.73" width="8.64" height="8.6" fill="#223084"/>
<rect x="113.38" y="303.43" width="9.25" height="9.2" fill="#1e2464"/>
<rect x="122.97" y="303.43" width="9.25" height="9.2" fill="#1e2464"/>
<text x="20.1" y="195.95" font-size="5.8" text-anchor="middle" stroke="#222" stroke-width="0.18" fill="#222">6</text>
<text x="15.9" y="201.79" font-size="5.8" text-anchor="middle" stroke="#222" stroke-width="0.18" fill="#222" transform="rotate(-90 15.9 201.79)">6</text>
<text x="29.89" y="195.95" font-size="5.8" text-anchor="middle" stroke="#222" stroke-width="0.18" fill="#222">12</text>
<text x="15.9" y="211.57" font-size="5.8" text-anchor="middle" stroke="#222" stroke-width="0.18" fill="#222" transform="rotate(-90 15.9 211.57)">12</text>
<text x="39.68" y="195.95" font-size="5.8" text-anchor="middle" stroke="#222" stroke-width="0.18" fill="#222">18</text>
<text x="15.9" y="221.35" font-size="5.8" text-anchor="middle" stroke="#222" stroke-width="0.18" fill="#222" transform="rotate(-90 15.9 221.35)">18</text>
<text x="49.47" y="195.95" font-size="5.8" text-anchor="middle" stroke="#222" stroke-width="0.18" fill="#222">24</text>
<text x="15.9" y="231.13" font-size="5.8" text-anchor="middle" stroke="#222" stroke-width="0.18" fill="#222" transform="rotate(-90 15.9 231.13)">24</text>
<text x="59.26" y="195.95" font-size="5.8" text-anchor="middle" stroke="#222" stroke-width="0.18" fill="#222">6</text>
<text x="15.9" y="240.91" font-size="5.8" text-anchor="middle" stroke="#222" stroke-width="0.18" fill="#222" transform="rotate(-90 15.9 240.91)">6</text>
<text x="69.06" y="195.95" font-size="5.8" text-anchor="middle" stroke="#222" stroke-width="0.18" fill="#222">12</text>
<text x="15.9" y="250.69" font-size="5.8" text-anchor="middle" stroke="#222" stroke-width="0.18" fill="#222" transform="rotate(-90 15.9 250.69)">12</text>
<text x="78.85" y="195.95" font-size="5.8" text-anchor="middle" stroke="#222" stroke-width="0.18" fill="#222">18</text>
<text x="15.9" y="260.46" font-size="5.8" text-anchor="middle" stroke="#222" stroke-width="0.18" fill="#222" transform="rotate(-90 15.9 260.46)">18</text>
<text x="88.64" y="195.95" font-size="5.8" text-anchor="middle" stroke="#222" stroke-width="0.18" fill="#222">24</text>
<text x="15.9" y="270.24" font-size="5.8" text-anchor="middle" stroke="#222" stroke-width="0.18" fill="#222" transform="rotate(-90 15.9 270.24)">24</text>
<text x="98.43" y="195.95" font-size="5.8" text-anchor="middle" stroke="#222" stroke-width="0.18" fill="#222">6</text>
<text x="15.9" y="280.02" font-size="5.8" text-anchor="middle" stroke="#222" stroke-width="0.18" fill="#222" transform="rotate(-90 15.9 280.02)">6</text>
<text x="108.22" y="195.95" font-size="5.8" text-anchor="middle" stroke="#222" stroke-width="0.18" fill="#222">12</text>
<text x="15.9" y="289.8" font-size="5.8" text-anchor="middle" stroke="#222" stroke-width="0.18" fill="#222" transform="rotate(-90 15.9 289.8)">12</text>
<text x="118.02" y="195.95" font-size="5.8" text-anchor="middle" stroke="#222" stroke-width="0.18" fill="#222">18</text>
<text x="15.9" y="299.58" font-size="5.8" text-anchor="middle" stroke="#222" stroke-width="0.18" fill="#222" transform="rotate(-90 15.9 299.58)">18</text>
<text x="127.81" y="195.95" font-size="5.8" text-anchor="middle" stroke="#222" stroke-width="0.18" fill="#222">24</text>
<text x="15.9" y="309.36" font-size="5.8" text-anchor="middle" stroke="#222" stroke-width="0.18" fill="#222" transform="rotate(-90 15.9 309.36)">24</text>
<path d="M15.15 189.3V187.8H53.8V189.3" fill="none" stroke="#333" stroke-width="0.7"/>
<text x="34.4" y="186.5" font-size="6.9" text-anchor="middle" stroke="#222" stroke-width="0.18" fill="#222" textLength="38.5" lengthAdjust="spacingAndGlyphs">Granulocytes</text>
<path d="M8.9 198.6H7.4V237.6H8.9" fill="none" stroke="#333" stroke-width="0.7"/>
<text x="6.1" y="218.1" font-size="6.9" text-anchor="middle" stroke="#222" stroke-width="0.18" fill="#222" transform="rotate(-90 6.1 218.1)" textLength="38.5" lengthAdjust="spacingAndGlyphs">Granulocytes</text>
<path d="M56.2 189.3V187.8H92.5V189.3" fill="none" stroke="#333" stroke-width="0.7"/>
<text x="74" y="186.5" font-size="6.9" text-anchor="middle" stroke="#222" stroke-width="0.18" fill="#222" textLength="17.8" lengthAdjust="spacingAndGlyphs">B cells</text>
<path d="M8.9 238.8H7.4V274.5H8.9" fill="none" stroke="#333" stroke-width="0.7"/>
<text x="6.1" y="257.7" font-size="6.9" text-anchor="middle" stroke="#222" stroke-width="0.18" fill="#222" transform="rotate(-90 6.1 257.7)" textLength="17.8" lengthAdjust="spacingAndGlyphs">B cells</text>
<path d="M95.2 189.3V187.8H131.9V189.3" fill="none" stroke="#333" stroke-width="0.7"/>
<text x="113.2" y="186.5" font-size="6.9" text-anchor="middle" stroke="#222" stroke-width="0.18" fill="#222" textLength="17.8" lengthAdjust="spacingAndGlyphs">T cells</text>
<path d="M8.9 278.3H7.4V314.3H8.9" fill="none" stroke="#333" stroke-width="0.7"/>
<text x="6.1" y="297" font-size="6.9" text-anchor="middle" stroke="#222" stroke-width="0.18" fill="#222" transform="rotate(-90 6.1 297)" textLength="17.8" lengthAdjust="spacingAndGlyphs">T cells</text>
<text x="237.6" y="174.5" font-size="7.3" text-anchor="middle" font-weight="bold" stroke="#111" stroke-width="0.22" fill="#111" textLength="29" lengthAdjust="spacingAndGlyphs">Mouse 2</text>
<rect x="181.3" y="199.1" width="115.1" height="115.4" fill="#fff"/>
<path d="M181.3 199.1V314.5M181.3 199.1H296.4M190.89 199.1V314.5M181.3 208.72H296.4M200.48 199.1V314.5M181.3 218.33H296.4M210.07 199.1V314.5M181.3 227.95H296.4M219.67 199.1V314.5M181.3 237.57H296.4M229.26 199.1V314.5M181.3 247.18H296.4M238.85 199.1V314.5M181.3 256.8H296.4M248.44 199.1V314.5M181.3 266.42H296.4M258.03 199.1V314.5M181.3 276.03H296.4M267.62 199.1V314.5M181.3 285.65H296.4M277.22 199.1V314.5M181.3 295.27H296.4M286.81 199.1V314.5M181.3 304.88H296.4M296.4 199.1V314.5M181.3 314.5H296.4" stroke="#e4dfe2" stroke-width="0.6" fill="none"/>
<rect x="181.48" y="199.28" width="9.24" height="9.27" fill="#1e2464"/>
<rect x="192.71" y="200.93" width="5.95" height="5.96" fill="#2873bb"/>
<rect x="202.74" y="201.36" width="5.08" height="5.1" fill="#2a84be"/>
<rect x="211.9" y="200.93" width="5.95" height="5.96" fill="#2873bb"/>
<rect x="221.49" y="200.93" width="5.95" height="5.96" fill="#2873bb"/>
<rect x="231.08" y="200.93" width="5.95" height="5.96" fill="#2873bb"/>
<rect x="241.1" y="201.36" width="5.08" height="5.1" fill="#2a84be"/>
<rect x="250.7" y="201.36" width="5.08" height="5.1" fill="#2a84be"/>
<rect x="261.92" y="202.99" width="1.82" height="1.83" fill="#56a49e"/>
<rect x="280.05" y="201.94" width="3.93" height="3.94" fill="#2d96be"/>
<rect x="289.64" y="201.94" width="3.93" height="3.94" fill="#2d96be"/>
<rect x="183.12" y="210.54" width="5.95" height="5.96" fill="#2873bb"/>
<rect x="191.07" y="208.89" width="9.24" height="9.27" fill="#1e2464"/>
<rect x="200.96" y="209.2" width="8.63" height="8.66" fill="#223084"/>
<rect x="210.99" y="209.63" width="7.77" height="7.79" fill="#2446a5"/>
<rect x="221.49" y="210.54" width="5.95" height="5.96" fill="#2873bb"/>
<rect x="230.6" y="210.06" width="6.91" height="6.92" fill="#265eb4"/>
<rect x="240.19" y="210.06" width="6.91" height="6.92" fill="#265eb4"/>
<rect x="249.78" y="210.06" width="6.91" height="6.92" fill="#265eb4"/>
<rect x="261.92" y="212.61" width="1.82" height="1.83" fill="#56a49e"/>
<rect x="271.51" y="212.61" width="1.82" height="1.83" fill="#56a49e"/>
<rect x="279.47" y="210.98" width="5.08" height="5.1" fill="#2a84be"/>
<rect x="289.06" y="210.98" width="5.08" height="5.1" fill="#2a84be"/>
<rect x="183.55" y="220.59" width="5.08" height="5.1" fill="#2a84be"/>
<rect x="191.37" y="218.81" width="8.63" height="8.66" fill="#223084"/>
<rect x="200.66" y="218.51" width="9.24" height="9.27" fill="#1e2464"/>
<rect x="210.99" y="219.25" width="7.77" height="7.79" fill="#2446a5"/>
<rect x="221.92" y="220.59" width="5.08" height="5.1" fill="#2a84be"/>
<rect x="230.6" y="219.68" width="6.91" height="6.92" fill="#265eb4"/>
<rect x="240.19" y="219.68" width="6.91" height="6.92" fill="#265eb4"/>
<rect x="249.78" y="219.68" width="6.91" height="6.92" fill="#265eb4"/>
<rect x="261.92" y="222.23" width="1.82" height="1.83" fill="#56a49e"/>
<rect x="271.51" y="222.23" width="1.82" height="1.83" fill="#56a49e"/>
<rect x="279.47" y="220.59" width="5.08" height="5.1" fill="#2a84be"/>
<rect x="289.06" y="220.59" width="5.08" height="5.1" fill="#2a84be"/>
<rect x="183.12" y="229.78" width="5.95" height="5.96" fill="#2873bb"/>
<rect x="191.8" y="228.86" width="7.77" height="7.79" fill="#2446a5"/>
<rect x="201.39" y="228.86" width="7.77" height="7.79" fill="#2446a5"/>
<rect x="210.25" y="228.12" width="9.24" height="9.27" fill="#1e2464"/>
<rect x="222.5" y="230.79" width="3.93" height="3.94" fill="#2d96be"/>
<rect x="231.08" y="229.78" width="5.95" height="5.96" fill="#2873bb"/>
<rect x="240.67" y="229.78" width="5.95" height="5.96" fill="#2873bb"/>
<rect x="250.26" y="229.78" width="5.95" height="5.96" fill="#2873bb"/>
<rect x="261.92" y="231.84" width="1.82" height="1.83" fill="#56a49e"/>
<rect x="271.51" y="231.84" width="1.82" height="1.83" fill="#56a49e"/>
<rect x="280.62" y="231.36" width="2.78" height="2.79" fill="#37a1b3"/>
<rect x="289.64" y="230.79" width="3.93" height="3.94" fill="#2d96be"/>
<rect x="183.12" y="239.39" width="5.95" height="5.96" fill="#2873bb"/>
<rect x="192.71" y="239.39" width="5.95" height="5.96" fill="#2873bb"/>
<rect x="202.74" y="239.83" width="5.08" height="5.1" fill="#2a84be"/>
<rect x="212.9" y="240.4" width="3.93" height="3.94" fill="#2d96be"/>
<rect x="219.84" y="237.74" width="9.24" height="9.27" fill="#1e2464"/>
<rect x="231.51" y="239.83" width="5.08" height="5.1" fill="#2a84be"/>
<rect x="241.1" y="239.83" width="5.08" height="5.1" fill="#2a84be"/>
<rect x="250.7" y="239.83" width="5.08" height="5.1" fill="#2a84be"/>
<rect x="261.44" y="240.98" width="2.78" height="2.79" fill="#37a1b3"/>
<rect x="271.03" y="240.98" width="2.78" height="2.79" fill="#37a1b3"/>
<rect x="280.62" y="240.98" width="2.78" height="2.79" fill="#37a1b3"/>
<rect x="290.69" y="241.46" width="1.82" height="1.83" fill="#56a49e"/>
<rect x="183.12" y="249.01" width="5.95" height="5.96" fill="#2873bb"/>
<rect x="192.23" y="248.53" width="6.91" height="6.92" fill="#265eb4"/>
<rect x="201.83" y="248.53" width="6.91" height="6.92" fill="#265eb4"/>
<rect x="211.9" y="249.01" width="5.95" height="5.96" fill="#2873bb"/>
<rect x="221.92" y="249.44" width="5.08" height="5.1" fill="#2a84be"/>
<rect x="229.43" y="247.36" width="9.24" height="9.27" fill="#1e2464"/>
<rect x="239.33" y="247.66" width="8.63" height="8.66" fill="#223084"/>
<rect x="248.92" y="247.66" width="8.63" height="8.66" fill="#223084"/>
<rect x="260.86" y="250.02" width="3.93" height="3.94" fill="#2d96be"/>
<rect x="269.45" y="249.01" width="5.95" height="5.96" fill="#2873bb"/>
<rect x="278.56" y="248.53" width="6.91" height="6.92" fill="#265eb4"/>
<rect x="288.15" y="248.53" width="6.91" height="6.92" fill="#265eb4"/>
<rect x="183.55" y="259.06" width="5.08" height="5.1" fill="#2a84be"/>
<rect x="192.23" y="258.15" width="6.91" height="6.92" fill="#265eb4"/>
<rect x="201.83" y="258.15" width="6.91" height="6.92" fill="#265eb4"/>
<rect x="211.9" y="258.63" width="5.95" height="5.96" fill="#2873bb"/>
<rect x="221.92" y="259.06" width="5.08" height="5.1" fill="#2a84be"/>
<rect x="229.74" y="257.28" width="8.63" height="8.66" fill="#223084"/>
<rect x="239.03" y="256.98" width="9.24" height="9.27" fill="#1e2464"/>
<rect x="248.62" y="256.98" width="9.24" height="9.27" fill="#1e2464"/>
<rect x="261.44" y="260.21" width="2.78" height="2.79" fill="#37a1b3"/>
<rect x="269.88" y="259.06" width="5.08" height="5.1" fill="#2a84be"/>
<rect x="277.7" y="257.28" width="8.63" height="8.66" fill="#223084"/>
<rect x="287.72" y="257.71" width="7.77" height="7.79" fill="#2446a5"/>
<rect x="183.55" y="268.68" width="5.08" height="5.1" fill="#2a84be"/>
<rect x="192.23" y="267.76" width="6.91" height="6.92" fill="#265eb4"/>
<rect x="201.83" y="267.76" width="6.91" height="6.92" fill="#265eb4"/>
<rect x="211.9" y="268.24" width="5.95" height="5.96" fill="#2873bb"/>
<rect x="221.92" y="268.68" width="5.08" height="5.1" fill="#2a84be"/>
<rect x="229.74" y="266.9" width="8.63" height="8.66" fill="#223084"/>
<rect x="239.03" y="266.59" width="9.24" height="9.27" fill="#1e2464"/>
<rect x="248.62" y="266.59" width="9.24" height="9.27" fill="#1e2464"/>
<rect x="261.44" y="269.83" width="2.78" height="2.79" fill="#37a1b3"/>
<rect x="269.88" y="268.68" width="5.08" height="5.1" fill="#2a84be"/>
<rect x="277.7" y="266.9" width="8.63" height="8.66" fill="#223084"/>
<rect x="287.29" y="266.9" width="8.63" height="8.66" fill="#223084"/>
<rect x="185.18" y="279.93" width="1.82" height="1.83" fill="#56a49e"/>
<rect x="194.78" y="279.93" width="1.82" height="1.83" fill="#56a49e"/>
<rect x="204.37" y="279.93" width="1.82" height="1.83" fill="#56a49e"/>
<rect x="213.96" y="279.93" width="1.82" height="1.83" fill="#56a49e"/>
<rect x="223.07" y="279.45" width="2.78" height="2.79" fill="#37a1b3"/>
<rect x="232.09" y="278.87" width="3.93" height="3.94" fill="#2d96be"/>
<rect x="242.26" y="279.45" width="2.78" height="2.79" fill="#37a1b3"/>
<rect x="251.85" y="279.45" width="2.78" height="2.79" fill="#37a1b3"/>
<rect x="258.21" y="276.21" width="9.24" height="9.27" fill="#1e2464"/>
<rect x="268.54" y="276.95" width="7.77" height="7.79" fill="#2446a5"/>
<rect x="279.47" y="278.29" width="5.08" height="5.1" fill="#2a84be"/>
<rect x="289.64" y="278.87" width="3.93" height="3.94" fill="#2d96be"/>
<rect x="194.78" y="289.54" width="1.82" height="1.83" fill="#56a49e"/>
<rect x="204.37" y="289.54" width="1.82" height="1.83" fill="#56a49e"/>
<rect x="213.96" y="289.54" width="1.82" height="1.83" fill="#56a49e"/>
<rect x="223.07" y="289.06" width="2.78" height="2.79" fill="#37a1b3"/>
<rect x="231.08" y="287.48" width="5.95" height="5.96" fill="#2873bb"/>
<rect x="241.1" y="287.91" width="5.08" height="5.1" fill="#2a84be"/>
<rect x="250.7" y="287.91" width="5.08" height="5.1" fill="#2a84be"/>
<rect x="258.94" y="286.56" width="7.77" height="7.79" fill="#2446a5"/>
<rect x="267.8" y="285.82" width="9.24" height="9.27" fill="#1e2464"/>
<rect x="279.47" y="287.91" width="5.08" height="5.1" fill="#2a84be"/>
<rect x="289.06" y="287.91" width="5.08" height="5.1" fill="#2a84be"/>
<rect x="184.13" y="298.1" width="3.93" height="3.94" fill="#2d96be"/>
<rect x="193.15" y="297.53" width="5.08" height="5.1" fill="#2a84be"/>
<rect x="202.74" y="297.53" width="5.08" height="5.1" fill="#2a84be"/>
<rect x="213.48" y="298.68" width="2.78" height="2.79" fill="#37a1b3"/>
<rect x="223.07" y="298.68" width="2.78" height="2.79" fill="#37a1b3"/>
<rect x="230.6" y="296.61" width="6.91" height="6.92" fill="#265eb4"/>
<rect x="239.33" y="295.75" width="8.63" height="8.66" fill="#223084"/>
<rect x="248.92" y="295.75" width="8.63" height="8.66" fill="#223084"/>
<rect x="260.29" y="297.53" width="5.08" height="5.1" fill="#2a84be"/>
<rect x="269.88" y="297.53" width="5.08" height="5.1" fill="#2a84be"/>
<rect x="277.39" y="295.44" width="9.24" height="9.27" fill="#1e2464"/>
<rect x="286.98" y="295.44" width="9.24" height="9.27" fill="#1e2464"/>
<rect x="184.13" y="307.72" width="3.93" height="3.94" fill="#2d96be"/>
<rect x="193.15" y="307.14" width="5.08" height="5.1" fill="#2a84be"/>
<rect x="202.74" y="307.14" width="5.08" height="5.1" fill="#2a84be"/>
<rect x="212.9" y="307.72" width="3.93" height="3.94" fill="#2d96be"/>
<rect x="223.55" y="308.78" width="1.82" height="1.83" fill="#56a49e"/>
<rect x="230.6" y="306.23" width="6.91" height="6.92" fill="#265eb4"/>
<rect x="239.76" y="305.8" width="7.77" height="7.79" fill="#2446a5"/>
<rect x="248.92" y="305.36" width="8.63" height="8.66" fill="#223084"/>
<rect x="260.86" y="307.72" width="3.93" height="3.94" fill="#2d96be"/>
<rect x="269.88" y="307.14" width="5.08" height="5.1" fill="#2a84be"/>
<rect x="277.39" y="305.06" width="9.24" height="9.27" fill="#1e2464"/>
<rect x="286.98" y="305.06" width="9.24" height="9.27" fill="#1e2464"/>
<text x="184.19" y="197.95" font-size="5.8" text-anchor="middle" stroke="#222" stroke-width="0.18" fill="#222">6</text>
<text x="180" y="202.72" font-size="5.8" text-anchor="middle" stroke="#222" stroke-width="0.18" fill="#222" transform="rotate(-90 180 202.72)">6</text>
<text x="193.98" y="197.95" font-size="5.8" text-anchor="middle" stroke="#222" stroke-width="0.18" fill="#222">12</text>
<text x="180" y="212.57" font-size="5.8" text-anchor="middle" stroke="#222" stroke-width="0.18" fill="#222" transform="rotate(-90 180 212.57)">12</text>
<text x="203.76" y="197.95" font-size="5.8" text-anchor="middle" stroke="#222" stroke-width="0.18" fill="#222">18</text>
<text x="180" y="222.42" font-size="5.8" text-anchor="middle" stroke="#222" stroke-width="0.18" fill="#222" transform="rotate(-90 180 222.42)">18</text>
<text x="213.54" y="197.95" font-size="5.8" text-anchor="middle" stroke="#222" stroke-width="0.18" fill="#222">24</text>
<text x="180" y="232.27" font-size="5.8" text-anchor="middle" stroke="#222" stroke-width="0.18" fill="#222" transform="rotate(-90 180 232.27)">24</text>
<text x="223.33" y="197.95" font-size="5.8" text-anchor="middle" stroke="#222" stroke-width="0.18" fill="#222">6</text>
<text x="180" y="242.11" font-size="5.8" text-anchor="middle" stroke="#222" stroke-width="0.18" fill="#222" transform="rotate(-90 180 242.11)">6</text>
<text x="233.11" y="197.95" font-size="5.8" text-anchor="middle" stroke="#222" stroke-width="0.18" fill="#222">12</text>
<text x="180" y="251.96" font-size="5.8" text-anchor="middle" stroke="#222" stroke-width="0.18" fill="#222" transform="rotate(-90 180 251.96)">12</text>
<text x="242.89" y="197.95" font-size="5.8" text-anchor="middle" stroke="#222" stroke-width="0.18" fill="#222">18</text>
<text x="180" y="261.81" font-size="5.8" text-anchor="middle" stroke="#222" stroke-width="0.18" fill="#222" transform="rotate(-90 180 261.81)">18</text>
<text x="252.68" y="197.95" font-size="5.8" text-anchor="middle" stroke="#222" stroke-width="0.18" fill="#222">24</text>
<text x="180" y="271.66" font-size="5.8" text-anchor="middle" stroke="#222" stroke-width="0.18" fill="#222" transform="rotate(-90 180 271.66)">24</text>
<text x="262.46" y="197.95" font-size="5.8" text-anchor="middle" stroke="#222" stroke-width="0.18" fill="#222">6</text>
<text x="180" y="281.5" font-size="5.8" text-anchor="middle" stroke="#222" stroke-width="0.18" fill="#222" transform="rotate(-90 180 281.5)">6</text>
<text x="272.24" y="197.95" font-size="5.8" text-anchor="middle" stroke="#222" stroke-width="0.18" fill="#222">12</text>
<text x="180" y="291.35" font-size="5.8" text-anchor="middle" stroke="#222" stroke-width="0.18" fill="#222" transform="rotate(-90 180 291.35)">12</text>
<text x="282.03" y="197.95" font-size="5.8" text-anchor="middle" stroke="#222" stroke-width="0.18" fill="#222">18</text>
<text x="180" y="301.2" font-size="5.8" text-anchor="middle" stroke="#222" stroke-width="0.18" fill="#222" transform="rotate(-90 180 301.2)">18</text>
<text x="291.81" y="197.95" font-size="5.8" text-anchor="middle" stroke="#222" stroke-width="0.18" fill="#222">24</text>
<text x="180" y="311.05" font-size="5.8" text-anchor="middle" stroke="#222" stroke-width="0.18" fill="#222" transform="rotate(-90 180 311.05)">24</text>
<path d="M179.23 191V189.5H217.87V191" fill="none" stroke="#333" stroke-width="0.7"/>
<text x="198.48" y="188.2" font-size="6.9" text-anchor="middle" stroke="#222" stroke-width="0.18" fill="#222" textLength="38.5" lengthAdjust="spacingAndGlyphs">Granulocytes</text>
<path d="M173 199.5H171.5V238.77H173" fill="none" stroke="#333" stroke-width="0.7"/>
<text x="170.2" y="219.13" font-size="6.9" text-anchor="middle" stroke="#222" stroke-width="0.18" fill="#222" transform="rotate(-90 170.2 219.13)" textLength="38.5" lengthAdjust="spacingAndGlyphs">Granulocytes</text>
<path d="M220.27 191V189.5H256.53V191" fill="none" stroke="#333" stroke-width="0.7"/>
<text x="238.05" y="188.2" font-size="6.9" text-anchor="middle" stroke="#222" stroke-width="0.18" fill="#222" textLength="17.8" lengthAdjust="spacingAndGlyphs">B cells</text>
<path d="M173 239.97H171.5V275.93H173" fill="none" stroke="#333" stroke-width="0.7"/>
<text x="170.2" y="259" font-size="6.9" text-anchor="middle" stroke="#222" stroke-width="0.18" fill="#222" transform="rotate(-90 170.2 259)" textLength="17.8" lengthAdjust="spacingAndGlyphs">B cells</text>
<path d="M259.23 191V189.5H295.9V191" fill="none" stroke="#333" stroke-width="0.7"/>
<text x="277.22" y="188.2" font-size="6.9" text-anchor="middle" stroke="#222" stroke-width="0.18" fill="#222" textLength="17.8" lengthAdjust="spacingAndGlyphs">T cells</text>
<path d="M173 279.73H171.5V316H173" fill="none" stroke="#333" stroke-width="0.7"/>
<text x="170.2" y="298.57" font-size="6.9" text-anchor="middle" stroke="#222" stroke-width="0.18" fill="#222" transform="rotate(-90 170.2 298.57)" textLength="17.8" lengthAdjust="spacingAndGlyphs">T cells</text>
<text x="399" y="174.5" font-size="7.3" text-anchor="middle" font-weight="bold" stroke="#111" stroke-width="0.22" fill="#111" textLength="29" lengthAdjust="spacingAndGlyphs">Mouse 3</text>
<rect x="345.5" y="200" width="115" height="114.8" fill="#fff"/>
<path d="M345.5 200V314.8M345.5 200H460.5M355.95 200V314.8M345.5 210.44H460.5M366.41 200V314.8M345.5 220.87H460.5M376.86 200V314.8M345.5 231.31H460.5M387.32 200V314.8M345.5 241.75H460.5M397.77 200V314.8M345.5 252.18H460.5M408.23 200V314.8M345.5 262.62H460.5M418.68 200V314.8M345.5 273.05H460.5M429.14 200V314.8M345.5 283.49H460.5M439.59 200V314.8M345.5 293.93H460.5M450.05 200V314.8M345.5 304.36H460.5M460.5 200V314.8M345.5 314.8H460.5" stroke="#e4dfe2" stroke-width="0.6" fill="none"/>
<rect x="345.68" y="200.18" width="10.1" height="10.09" fill="#1e2464"/>
<rect x="356.95" y="200.99" width="8.47" height="8.45" fill="#2446a5"/>
<rect x="368.87" y="202.45" width="5.54" height="5.53" fill="#2a84be"/>
<rect x="380.57" y="203.7" width="3.03" height="3.03" fill="#37a1b3"/>
<rect x="389.77" y="202.45" width="5.54" height="5.53" fill="#2a84be"/>
<rect x="400.86" y="203.08" width="4.29" height="4.28" fill="#2d96be"/>
<rect x="410.21" y="201.98" width="6.48" height="6.47" fill="#2873bb"/>
<rect x="421.14" y="202.45" width="5.54" height="5.53" fill="#2a84be"/>
<rect x="431.59" y="202.45" width="5.54" height="5.53" fill="#2a84be"/>
<rect x="442.05" y="202.45" width="5.54" height="5.53" fill="#2a84be"/>
<rect x="452.5" y="202.45" width="5.54" height="5.53" fill="#2a84be"/>
<rect x="346.49" y="211.43" width="8.47" height="8.45" fill="#2446a5"/>
<rect x="356.13" y="210.61" width="10.1" height="10.09" fill="#1e2464"/>
<rect x="367.4" y="211.43" width="8.47" height="8.45" fill="#2446a5"/>
<rect x="378.85" y="212.42" width="6.48" height="6.47" fill="#2873bb"/>
<rect x="389.77" y="212.89" width="5.54" height="5.53" fill="#2a84be"/>
<rect x="400.86" y="213.52" width="4.29" height="4.28" fill="#2d96be"/>
<rect x="410.21" y="212.42" width="6.48" height="6.47" fill="#2873bb"/>
<rect x="420.15" y="211.9" width="7.53" height="7.51" fill="#265eb4"/>
<rect x="432.85" y="214.14" width="3.03" height="3.03" fill="#37a1b3"/>
<rect x="441.58" y="212.42" width="6.48" height="6.47" fill="#2873bb"/>
<rect x="452.03" y="212.42" width="6.48" height="6.47" fill="#2873bb"/>
<rect x="347.96" y="223.33" width="5.54" height="5.53" fill="#2a84be"/>
<rect x="356.95" y="221.86" width="8.47" height="8.45" fill="#2446a5"/>
<rect x="366.58" y="221.05" width="10.1" height="10.09" fill="#1e2464"/>
<rect x="377.04" y="221.05" width="10.1" height="10.09" fill="#1e2464"/>
<rect x="391.03" y="224.58" width="3.03" height="3.03" fill="#37a1b3"/>
<rect x="402.01" y="225.1" width="1.99" height="1.98" fill="#56a49e"/>
<rect x="411.31" y="223.95" width="4.29" height="4.28" fill="#2d96be"/>
<rect x="421.77" y="223.95" width="4.29" height="4.28" fill="#2d96be"/>
<rect x="433.37" y="225.1" width="1.99" height="1.98" fill="#56a49e"/>
<rect x="442.05" y="223.33" width="5.54" height="5.53" fill="#2a84be"/>
<rect x="452.5" y="223.33" width="5.54" height="5.53" fill="#2a84be"/>
<rect x="349.21" y="235.01" width="3.03" height="3.03" fill="#37a1b3"/>
<rect x="357.94" y="233.29" width="6.48" height="6.47" fill="#2873bb"/>
<rect x="366.58" y="231.48" width="10.1" height="10.09" fill="#1e2464"/>
<rect x="377.04" y="231.48" width="10.1" height="10.09" fill="#1e2464"/>
<rect x="391.55" y="235.54" width="1.99" height="1.98" fill="#56a49e"/>
<rect x="411.94" y="235.01" width="3.03" height="3.03" fill="#37a1b3"/>
<rect x="422.39" y="235.01" width="3.03" height="3.03" fill="#37a1b3"/>
<rect x="433.37" y="235.54" width="1.99" height="1.98" fill="#56a49e"/>
<rect x="442.68" y="234.39" width="4.29" height="4.28" fill="#2d96be"/>
<rect x="452.5" y="233.76" width="5.54" height="5.53" fill="#2a84be"/>
<rect x="347.96" y="244.2" width="5.54" height="5.53" fill="#2a84be"/>
<rect x="358.41" y="244.2" width="5.54" height="5.53" fill="#2a84be"/>
<rect x="370.12" y="245.45" width="3.03" height="3.03" fill="#37a1b3"/>
<rect x="381.1" y="245.97" width="1.99" height="1.98" fill="#56a49e"/>
<rect x="387.49" y="241.92" width="10.1" height="10.09" fill="#1e2464"/>
<rect x="400.23" y="244.2" width="5.54" height="5.53" fill="#2a84be"/>
<rect x="409.69" y="243.21" width="7.53" height="7.51" fill="#265eb4"/>
<rect x="420.15" y="243.21" width="7.53" height="7.51" fill="#265eb4"/>
<rect x="431.59" y="244.2" width="5.54" height="5.53" fill="#2a84be"/>
<rect x="442.05" y="244.2" width="5.54" height="5.53" fill="#2a84be"/>
<rect x="453.13" y="244.82" width="4.29" height="4.28" fill="#2d96be"/>
<rect x="348.58" y="255.26" width="4.29" height="4.28" fill="#2d96be"/>
<rect x="359.04" y="255.26" width="4.29" height="4.28" fill="#2d96be"/>
<rect x="370.64" y="256.41" width="1.99" height="1.98" fill="#56a49e"/>
<rect x="389.77" y="254.63" width="5.54" height="5.53" fill="#2a84be"/>
<rect x="397.95" y="252.36" width="10.1" height="10.09" fill="#1e2464"/>
<rect x="410.21" y="254.16" width="6.48" height="6.47" fill="#2873bb"/>
<rect x="420.67" y="254.16" width="6.48" height="6.47" fill="#2873bb"/>
<rect x="429.66" y="252.7" width="9.41" height="9.39" fill="#223084"/>
<rect x="442.05" y="254.63" width="5.54" height="5.53" fill="#2a84be"/>
<rect x="453.13" y="255.26" width="4.29" height="4.28" fill="#2d96be"/>
<rect x="347.49" y="264.6" width="6.48" height="6.47" fill="#2873bb"/>
<rect x="357.94" y="264.6" width="6.48" height="6.47" fill="#2873bb"/>
<rect x="369.49" y="265.7" width="4.29" height="4.28" fill="#2d96be"/>
<rect x="380.57" y="266.32" width="3.03" height="3.03" fill="#37a1b3"/>
<rect x="388.78" y="264.08" width="7.53" height="7.51" fill="#265eb4"/>
<rect x="399.76" y="264.6" width="6.48" height="6.47" fill="#2873bb"/>
<rect x="408.4" y="262.79" width="10.1" height="10.09" fill="#1e2464"/>
<rect x="418.86" y="262.79" width="10.1" height="10.09" fill="#1e2464"/>
<rect x="431.12" y="264.6" width="6.48" height="6.47" fill="#2873bb"/>
<rect x="440.11" y="263.14" width="9.41" height="9.39" fill="#223084"/>
<rect x="451.51" y="264.08" width="7.53" height="7.51" fill="#265eb4"/>
<rect x="347.96" y="275.51" width="5.54" height="5.53" fill="#2a84be"/>
<rect x="357.42" y="274.52" width="7.53" height="7.51" fill="#265eb4"/>
<rect x="369.49" y="276.13" width="4.29" height="4.28" fill="#2d96be"/>
<rect x="380.57" y="276.76" width="3.03" height="3.03" fill="#37a1b3"/>
<rect x="388.78" y="274.52" width="7.53" height="7.51" fill="#265eb4"/>
<rect x="399.76" y="275.04" width="6.48" height="6.47" fill="#2873bb"/>
<rect x="408.4" y="273.23" width="10.1" height="10.09" fill="#1e2464"/>
<rect x="418.86" y="273.23" width="10.1" height="10.09" fill="#1e2464"/>
<rect x="431.12" y="275.04" width="6.48" height="6.47" fill="#2873bb"/>
<rect x="440.11" y="273.58" width="9.41" height="9.39" fill="#223084"/>
<rect x="451.04" y="274.05" width="8.47" height="8.45" fill="#2446a5"/>
<rect x="347.96" y="285.94" width="5.54" height="5.53" fill="#2a84be"/>
<rect x="359.67" y="287.2" width="3.03" height="3.03" fill="#37a1b3"/>
<rect x="370.64" y="287.72" width="1.99" height="1.98" fill="#56a49e"/>
<rect x="381.1" y="287.72" width="1.99" height="1.98" fill="#56a49e"/>
<rect x="389.77" y="285.94" width="5.54" height="5.53" fill="#2a84be"/>
<rect x="398.3" y="284.01" width="9.41" height="9.39" fill="#223084"/>
<rect x="410.21" y="285.47" width="6.48" height="6.47" fill="#2873bb"/>
<rect x="420.67" y="285.47" width="6.48" height="6.47" fill="#2873bb"/>
<rect x="429.31" y="283.67" width="10.1" height="10.09" fill="#1e2464"/>
<rect x="441.58" y="285.47" width="6.48" height="6.47" fill="#2873bb"/>
<rect x="452.5" y="285.94" width="5.54" height="5.53" fill="#2a84be"/>
<rect x="347.96" y="296.38" width="5.54" height="5.53" fill="#2a84be"/>
<rect x="357.94" y="295.91" width="6.48" height="6.47" fill="#2873bb"/>
<rect x="368.87" y="296.38" width="5.54" height="5.53" fill="#2a84be"/>
<rect x="379.95" y="297.01" width="4.29" height="4.28" fill="#2d96be"/>
<rect x="389.77" y="296.38" width="5.54" height="5.53" fill="#2a84be"/>
<rect x="400.23" y="296.38" width="5.54" height="5.53" fill="#2a84be"/>
<rect x="408.75" y="294.45" width="9.41" height="9.39" fill="#223084"/>
<rect x="419.2" y="294.45" width="9.41" height="9.39" fill="#223084"/>
<rect x="431.12" y="295.91" width="6.48" height="6.47" fill="#2873bb"/>
<rect x="439.77" y="294.1" width="10.1" height="10.09" fill="#1e2464"/>
<rect x="450.57" y="294.45" width="9.41" height="9.39" fill="#223084"/>
<rect x="347.96" y="306.82" width="5.54" height="5.53" fill="#2a84be"/>
<rect x="357.94" y="306.35" width="6.48" height="6.47" fill="#2873bb"/>
<rect x="368.87" y="306.82" width="5.54" height="5.53" fill="#2a84be"/>
<rect x="379.32" y="306.82" width="5.54" height="5.53" fill="#2a84be"/>
<rect x="390.4" y="307.44" width="4.29" height="4.28" fill="#2d96be"/>
<rect x="400.86" y="307.44" width="4.29" height="4.28" fill="#2d96be"/>
<rect x="409.69" y="305.82" width="7.53" height="7.51" fill="#265eb4"/>
<rect x="419.68" y="305.36" width="8.47" height="8.45" fill="#2446a5"/>
<rect x="431.59" y="306.82" width="5.54" height="5.53" fill="#2a84be"/>
<rect x="440.11" y="304.89" width="9.41" height="9.39" fill="#223084"/>
<rect x="450.22" y="304.54" width="10.1" height="10.09" fill="#1e2464"/>
<text x="350.73" y="197.95" font-size="5.8" text-anchor="middle" stroke="#222" stroke-width="0.18" fill="#222">6</text>
<text x="344.2" y="204.62" font-size="5.8" text-anchor="middle" stroke="#222" stroke-width="0.18" fill="#222" transform="rotate(-90 344.2 204.62)">6</text>
<text x="361.18" y="197.95" font-size="5.8" text-anchor="middle" stroke="#222" stroke-width="0.18" fill="#222">12</text>
<text x="344.2" y="215.05" font-size="5.8" text-anchor="middle" stroke="#222" stroke-width="0.18" fill="#222" transform="rotate(-90 344.2 215.05)">12</text>
<text x="371.64" y="197.95" font-size="5.8" text-anchor="middle" stroke="#222" stroke-width="0.18" fill="#222">18</text>
<text x="344.2" y="225.49" font-size="5.8" text-anchor="middle" stroke="#222" stroke-width="0.18" fill="#222" transform="rotate(-90 344.2 225.49)">18</text>
<text x="382.09" y="197.95" font-size="5.8" text-anchor="middle" stroke="#222" stroke-width="0.18" fill="#222">24</text>
<text x="344.2" y="235.93" font-size="5.8" text-anchor="middle" stroke="#222" stroke-width="0.18" fill="#222" transform="rotate(-90 344.2 235.93)">24</text>
<text x="392.55" y="197.95" font-size="5.8" text-anchor="middle" stroke="#222" stroke-width="0.18" fill="#222">6</text>
<text x="344.2" y="246.36" font-size="5.8" text-anchor="middle" stroke="#222" stroke-width="0.18" fill="#222" transform="rotate(-90 344.2 246.36)">6</text>
<text x="403" y="197.95" font-size="5.8" text-anchor="middle" stroke="#222" stroke-width="0.18" fill="#222">12</text>
<text x="344.2" y="256.8" font-size="5.8" text-anchor="middle" stroke="#222" stroke-width="0.18" fill="#222" transform="rotate(-90 344.2 256.8)">12</text>
<text x="413.45" y="197.95" font-size="5.8" text-anchor="middle" stroke="#222" stroke-width="0.18" fill="#222">18</text>
<text x="344.2" y="267.24" font-size="5.8" text-anchor="middle" stroke="#222" stroke-width="0.18" fill="#222" transform="rotate(-90 344.2 267.24)">18</text>
<text x="423.91" y="197.95" font-size="5.8" text-anchor="middle" stroke="#222" stroke-width="0.18" fill="#222">24</text>
<text x="344.2" y="277.67" font-size="5.8" text-anchor="middle" stroke="#222" stroke-width="0.18" fill="#222" transform="rotate(-90 344.2 277.67)">24</text>
<text x="434.36" y="197.95" font-size="5.8" text-anchor="middle" stroke="#222" stroke-width="0.18" fill="#222">12</text>
<text x="344.2" y="288.11" font-size="5.8" text-anchor="middle" stroke="#222" stroke-width="0.18" fill="#222" transform="rotate(-90 344.2 288.11)">12</text>
<text x="444.82" y="197.95" font-size="5.8" text-anchor="middle" stroke="#222" stroke-width="0.18" fill="#222">18</text>
<text x="344.2" y="298.55" font-size="5.8" text-anchor="middle" stroke="#222" stroke-width="0.18" fill="#222" transform="rotate(-90 344.2 298.55)">18</text>
<text x="455.27" y="197.95" font-size="5.8" text-anchor="middle" stroke="#222" stroke-width="0.18" fill="#222">24</text>
<text x="344.2" y="308.98" font-size="5.8" text-anchor="middle" stroke="#222" stroke-width="0.18" fill="#222" transform="rotate(-90 344.2 308.98)">24</text>
<path d="M345.6 191.4V189.9H385.22V191.4" fill="none" stroke="#333" stroke-width="0.7"/>
<text x="365.81" y="188.6" font-size="6.9" text-anchor="middle" stroke="#222" stroke-width="0.18" fill="#222" textLength="38.5" lengthAdjust="spacingAndGlyphs">Granulocytes</text>
<path d="M337.2 200.5H335.7V239.95H337.2" fill="none" stroke="#333" stroke-width="0.7"/>
<text x="334.4" y="220.17" font-size="6.9" text-anchor="middle" stroke="#222" stroke-width="0.18" fill="#222" transform="rotate(-90 334.4 220.17)" textLength="38.5" lengthAdjust="spacingAndGlyphs">Granulocytes</text>
<path d="M387.92 191.4V189.9H427.54V191.4" fill="none" stroke="#333" stroke-width="0.7"/>
<text x="408.53" y="188.6" font-size="6.9" text-anchor="middle" stroke="#222" stroke-width="0.18" fill="#222" textLength="17.8" lengthAdjust="spacingAndGlyphs">B cells</text>
<path d="M337.2 242.75H335.7V281.99H337.2" fill="none" stroke="#333" stroke-width="0.7"/>
<text x="334.4" y="261.72" font-size="6.9" text-anchor="middle" stroke="#222" stroke-width="0.18" fill="#222" transform="rotate(-90 334.4 261.72)" textLength="17.8" lengthAdjust="spacingAndGlyphs">B cells</text>
<path d="M431.04 191.4V189.9H458.7V191.4" fill="none" stroke="#333" stroke-width="0.7"/>
<text x="444.82" y="188.6" font-size="6.9" text-anchor="middle" stroke="#222" stroke-width="0.18" fill="#222" textLength="17.8" lengthAdjust="spacingAndGlyphs">T cells</text>
<path d="M337.2 285.49H335.7V313.6H337.2" fill="none" stroke="#333" stroke-width="0.7"/>
<text x="334.4" y="299.75" font-size="6.9" text-anchor="middle" stroke="#222" stroke-width="0.18" fill="#222" transform="rotate(-90 334.4 299.75)" textLength="17.8" lengthAdjust="spacingAndGlyphs">T cells</text>
<text x="71.3" y="331.6" font-size="7.3" text-anchor="middle" font-weight="bold" stroke="#111" stroke-width="0.22" fill="#111" textLength="29" lengthAdjust="spacingAndGlyphs">Mouse 4</text>
<rect x="17.2" y="356.6" width="115.2" height="114.9" fill="#fff"/>
<path d="M17.2 356.6V471.5M17.2 356.6H132.4M26.8 356.6V471.5M17.2 366.18H132.4M36.4 356.6V471.5M17.2 375.75H132.4M46 356.6V471.5M17.2 385.33H132.4M55.6 356.6V471.5M17.2 394.9H132.4M65.2 356.6V471.5M17.2 404.48H132.4M74.8 356.6V471.5M17.2 414.05H132.4M84.4 356.6V471.5M17.2 423.62H132.4M94 356.6V471.5M17.2 433.2H132.4M103.6 356.6V471.5M17.2 442.77H132.4M113.2 356.6V471.5M17.2 452.35H132.4M122.8 356.6V471.5M17.2 461.93H132.4M132.4 356.6V471.5M17.2 471.5H132.4" stroke="#e4dfe2" stroke-width="0.6" fill="none"/>
<rect x="17.38" y="356.78" width="9.25" height="9.22" fill="#1e2464"/>
<rect x="28.62" y="358.42" width="5.95" height="5.94" fill="#2873bb"/>
<rect x="38.22" y="358.42" width="5.95" height="5.94" fill="#2873bb"/>
<rect x="47.82" y="358.42" width="5.95" height="5.94" fill="#2873bb"/>
<rect x="56.94" y="357.94" width="6.91" height="6.89" fill="#265eb4"/>
<rect x="67.46" y="358.85" width="5.09" height="5.07" fill="#2a84be"/>
<rect x="77.06" y="358.85" width="5.09" height="5.07" fill="#2a84be"/>
<rect x="87.23" y="359.42" width="3.94" height="3.93" fill="#2d96be"/>
<rect x="96.83" y="359.42" width="3.94" height="3.93" fill="#2d96be"/>
<rect x="104.94" y="357.94" width="6.91" height="6.89" fill="#265eb4"/>
<rect x="114.54" y="357.94" width="6.91" height="6.89" fill="#265eb4"/>
<rect x="124.62" y="358.42" width="5.95" height="5.94" fill="#2873bb"/>
<rect x="19.02" y="367.99" width="5.95" height="5.94" fill="#2873bb"/>
<rect x="26.97" y="366.35" width="9.25" height="9.22" fill="#1e2464"/>
<rect x="36.88" y="366.65" width="8.64" height="8.62" fill="#223084"/>
<rect x="47.34" y="367.52" width="6.91" height="6.89" fill="#265eb4"/>
<rect x="58.43" y="369" width="3.94" height="3.93" fill="#2d96be"/>
<rect x="68.61" y="369.57" width="2.78" height="2.78" fill="#37a1b3"/>
<rect x="77.63" y="369" width="3.94" height="3.93" fill="#2d96be"/>
<rect x="87.23" y="369" width="3.94" height="3.93" fill="#2d96be"/>
<rect x="97.89" y="370.05" width="1.82" height="1.82" fill="#56a49e"/>
<rect x="107.49" y="370.05" width="1.82" height="1.82" fill="#56a49e"/>
<rect x="116.03" y="369" width="3.94" height="3.93" fill="#2d96be"/>
<rect x="125.63" y="369" width="3.94" height="3.93" fill="#2d96be"/>
<rect x="19.02" y="377.57" width="5.95" height="5.94" fill="#2873bb"/>
<rect x="27.28" y="376.23" width="8.64" height="8.62" fill="#223084"/>
<rect x="36.57" y="375.93" width="9.25" height="9.22" fill="#1e2464"/>
<rect x="46.91" y="376.66" width="7.78" height="7.76" fill="#2446a5"/>
<rect x="58.43" y="378.57" width="3.94" height="3.93" fill="#2d96be"/>
<rect x="68.61" y="379.15" width="2.78" height="2.78" fill="#37a1b3"/>
<rect x="77.63" y="378.57" width="3.94" height="3.93" fill="#2d96be"/>
<rect x="86.66" y="378" width="5.09" height="5.07" fill="#2a84be"/>
<rect x="97.41" y="379.15" width="2.78" height="2.78" fill="#37a1b3"/>
<rect x="107.01" y="379.15" width="2.78" height="2.78" fill="#37a1b3"/>
<rect x="116.03" y="378.57" width="3.94" height="3.93" fill="#2d96be"/>
<rect x="125.63" y="378.57" width="3.94" height="3.93" fill="#2d96be"/>
<rect x="19.02" y="387.14" width="5.95" height="5.94" fill="#2873bb"/>
<rect x="28.14" y="386.67" width="6.91" height="6.89" fill="#265eb4"/>
<rect x="37.31" y="386.23" width="7.78" height="7.76" fill="#2446a5"/>
<rect x="46.17" y="385.5" width="9.25" height="9.22" fill="#1e2464"/>
<rect x="58.43" y="388.15" width="3.94" height="3.93" fill="#2d96be"/>
<rect x="69.09" y="389.2" width="1.82" height="1.82" fill="#56a49e"/>
<rect x="78.21" y="388.72" width="2.78" height="2.78" fill="#37a1b3"/>
<rect x="87.81" y="388.72" width="2.78" height="2.78" fill="#37a1b3"/>
<rect x="95.82" y="387.14" width="5.95" height="5.94" fill="#2873bb"/>
<rect x="106.43" y="388.15" width="3.94" height="3.93" fill="#2d96be"/>
<rect x="116.03" y="388.15" width="3.94" height="3.93" fill="#2d96be"/>
<rect x="125.06" y="387.58" width="5.09" height="5.07" fill="#2a84be"/>
<rect x="18.54" y="396.24" width="6.91" height="6.89" fill="#265eb4"/>
<rect x="29.63" y="397.72" width="3.94" height="3.93" fill="#2d96be"/>
<rect x="39.23" y="397.72" width="3.94" height="3.93" fill="#2d96be"/>
<rect x="48.83" y="397.72" width="3.94" height="3.93" fill="#2d96be"/>
<rect x="55.77" y="395.08" width="9.25" height="9.22" fill="#1e2464"/>
<rect x="67.02" y="396.72" width="5.95" height="5.94" fill="#2873bb"/>
<rect x="77.06" y="397.15" width="5.09" height="5.07" fill="#2a84be"/>
<rect x="86.66" y="397.15" width="5.09" height="5.07" fill="#2a84be"/>
<rect x="95.82" y="396.72" width="5.95" height="5.94" fill="#2873bb"/>
<rect x="104.51" y="395.81" width="7.78" height="7.76" fill="#2446a5"/>
<rect x="114.11" y="395.81" width="7.78" height="7.76" fill="#2446a5"/>
<rect x="124.14" y="396.24" width="6.91" height="6.89" fill="#265eb4"/>
<rect x="19.46" y="406.73" width="5.09" height="5.07" fill="#2a84be"/>
<rect x="30.21" y="407.87" width="2.78" height="2.78" fill="#37a1b3"/>
<rect x="39.81" y="407.87" width="2.78" height="2.78" fill="#37a1b3"/>
<rect x="49.89" y="408.35" width="1.82" height="1.82" fill="#56a49e"/>
<rect x="57.42" y="406.29" width="5.95" height="5.94" fill="#2873bb"/>
<rect x="65.38" y="404.65" width="9.25" height="9.22" fill="#1e2464"/>
<rect x="75.28" y="404.95" width="8.64" height="8.62" fill="#223084"/>
<rect x="85.74" y="405.82" width="6.91" height="6.89" fill="#265eb4"/>
<rect x="96.83" y="407.3" width="3.94" height="3.93" fill="#2d96be"/>
<rect x="104.94" y="405.82" width="6.91" height="6.89" fill="#265eb4"/>
<rect x="114.54" y="405.82" width="6.91" height="6.89" fill="#265eb4"/>
<rect x="124.14" y="405.82" width="6.91" height="6.89" fill="#265eb4"/>
<rect x="19.46" y="416.3" width="5.09" height="5.07" fill="#2a84be"/>
<rect x="29.63" y="416.87" width="3.94" height="3.93" fill="#2d96be"/>
<rect x="39.23" y="416.87" width="3.94" height="3.93" fill="#2d96be"/>
<rect x="49.41" y="417.45" width="2.78" height="2.78" fill="#37a1b3"/>
<rect x="57.86" y="416.3" width="5.09" height="5.07" fill="#2a84be"/>
<rect x="65.68" y="414.53" width="8.64" height="8.62" fill="#223084"/>
<rect x="74.97" y="414.23" width="9.25" height="9.22" fill="#1e2464"/>
<rect x="84.58" y="414.23" width="9.25" height="9.22" fill="#1e2464"/>
<rect x="97.41" y="417.45" width="2.78" height="2.78" fill="#37a1b3"/>
<rect x="104.94" y="415.39" width="6.91" height="6.89" fill="#265eb4"/>
<rect x="114.54" y="415.39" width="6.91" height="6.89" fill="#265eb4"/>
<rect x="124.14" y="415.39" width="6.91" height="6.89" fill="#265eb4"/>
<rect x="20.03" y="426.45" width="3.94" height="3.93" fill="#2d96be"/>
<rect x="29.63" y="426.45" width="3.94" height="3.93" fill="#2d96be"/>
<rect x="38.66" y="425.88" width="5.09" height="5.07" fill="#2a84be"/>
<rect x="49.41" y="427.02" width="2.78" height="2.78" fill="#37a1b3"/>
<rect x="57.86" y="425.88" width="5.09" height="5.07" fill="#2a84be"/>
<rect x="66.54" y="424.97" width="6.91" height="6.89" fill="#265eb4"/>
<rect x="74.97" y="423.8" width="9.25" height="9.22" fill="#1e2464"/>
<rect x="84.58" y="423.8" width="9.25" height="9.22" fill="#1e2464"/>
<rect x="97.41" y="427.02" width="2.78" height="2.78" fill="#37a1b3"/>
<rect x="105.86" y="425.88" width="5.09" height="5.07" fill="#2a84be"/>
<rect x="115.02" y="425.44" width="5.95" height="5.94" fill="#2873bb"/>
<rect x="124.62" y="425.44" width="5.95" height="5.94" fill="#2873bb"/>
<rect x="20.03" y="436.02" width="3.94" height="3.93" fill="#2d96be"/>
<rect x="30.69" y="437.08" width="1.82" height="1.82" fill="#56a49e"/>
<rect x="39.81" y="436.6" width="2.78" height="2.78" fill="#37a1b3"/>
<rect x="47.82" y="435.02" width="5.95" height="5.94" fill="#2873bb"/>
<rect x="57.42" y="435.02" width="5.95" height="5.94" fill="#2873bb"/>
<rect x="68.03" y="436.02" width="3.94" height="3.93" fill="#2d96be"/>
<rect x="78.21" y="436.6" width="2.78" height="2.78" fill="#37a1b3"/>
<rect x="87.81" y="436.6" width="2.78" height="2.78" fill="#37a1b3"/>
<rect x="94.17" y="433.38" width="9.25" height="9.22" fill="#1e2464"/>
<rect x="105.86" y="435.45" width="5.09" height="5.07" fill="#2a84be"/>
<rect x="115.46" y="435.45" width="5.09" height="5.07" fill="#2a84be"/>
<rect x="125.63" y="436.02" width="3.94" height="3.93" fill="#2d96be"/>
<rect x="18.54" y="444.12" width="6.91" height="6.89" fill="#265eb4"/>
<rect x="30.69" y="446.65" width="1.82" height="1.82" fill="#56a49e"/>
<rect x="39.81" y="446.17" width="2.78" height="2.78" fill="#37a1b3"/>
<rect x="48.83" y="445.6" width="3.94" height="3.93" fill="#2d96be"/>
<rect x="56.51" y="443.68" width="7.78" height="7.76" fill="#2446a5"/>
<rect x="66.54" y="444.12" width="6.91" height="6.89" fill="#265eb4"/>
<rect x="76.14" y="444.12" width="6.91" height="6.89" fill="#265eb4"/>
<rect x="86.66" y="445.03" width="5.09" height="5.07" fill="#2a84be"/>
<rect x="96.26" y="445.03" width="5.09" height="5.07" fill="#2a84be"/>
<rect x="103.77" y="442.95" width="9.25" height="9.22" fill="#1e2464"/>
<rect x="113.38" y="442.95" width="9.25" height="9.22" fill="#1e2464"/>
<rect x="122.97" y="442.95" width="9.25" height="9.22" fill="#1e2464"/>
<rect x="18.54" y="453.69" width="6.91" height="6.89" fill="#265eb4"/>
<rect x="29.63" y="455.17" width="3.94" height="3.93" fill="#2d96be"/>
<rect x="39.23" y="455.17" width="3.94" height="3.93" fill="#2d96be"/>
<rect x="48.83" y="455.17" width="3.94" height="3.93" fill="#2d96be"/>
<rect x="56.51" y="453.26" width="7.78" height="7.76" fill="#2446a5"/>
<rect x="66.54" y="453.69" width="6.91" height="6.89" fill="#265eb4"/>
<rect x="76.14" y="453.69" width="6.91" height="6.89" fill="#265eb4"/>
<rect x="86.22" y="454.17" width="5.95" height="5.94" fill="#2873bb"/>
<rect x="96.26" y="454.6" width="5.09" height="5.07" fill="#2a84be"/>
<rect x="103.77" y="452.53" width="9.25" height="9.22" fill="#1e2464"/>
<rect x="113.38" y="452.53" width="9.25" height="9.22" fill="#1e2464"/>
<rect x="122.97" y="452.53" width="9.25" height="9.22" fill="#1e2464"/>
<rect x="19.02" y="463.74" width="5.95" height="5.94" fill="#2873bb"/>
<rect x="29.63" y="464.75" width="3.94" height="3.93" fill="#2d96be"/>
<rect x="39.23" y="464.75" width="3.94" height="3.93" fill="#2d96be"/>
<rect x="48.26" y="464.18" width="5.09" height="5.07" fill="#2a84be"/>
<rect x="56.94" y="463.27" width="6.91" height="6.89" fill="#265eb4"/>
<rect x="66.54" y="463.27" width="6.91" height="6.89" fill="#265eb4"/>
<rect x="76.14" y="463.27" width="6.91" height="6.89" fill="#265eb4"/>
<rect x="86.22" y="463.74" width="5.95" height="5.94" fill="#2873bb"/>
<rect x="96.83" y="464.75" width="3.94" height="3.93" fill="#2d96be"/>
<rect x="103.77" y="462.1" width="9.25" height="9.22" fill="#1e2464"/>
<rect x="113.38" y="462.1" width="9.25" height="9.22" fill="#1e2464"/>
<rect x="122.97" y="462.1" width="9.25" height="9.22" fill="#1e2464"/>
<text x="20.1" y="354.55" font-size="5.8" text-anchor="middle" stroke="#222" stroke-width="0.18" fill="#222">6</text>
<text x="15.9" y="360.2" font-size="5.8" text-anchor="middle" stroke="#222" stroke-width="0.18" fill="#222" transform="rotate(-90 15.9 360.2)">6</text>
<text x="29.89" y="354.55" font-size="5.8" text-anchor="middle" stroke="#222" stroke-width="0.18" fill="#222">12</text>
<text x="15.9" y="370.01" font-size="5.8" text-anchor="middle" stroke="#222" stroke-width="0.18" fill="#222" transform="rotate(-90 15.9 370.01)">12</text>
<text x="39.68" y="354.55" font-size="5.8" text-anchor="middle" stroke="#222" stroke-width="0.18" fill="#222">18</text>
<text x="15.9" y="379.81" font-size="5.8" text-anchor="middle" stroke="#222" stroke-width="0.18" fill="#222" transform="rotate(-90 15.9 379.81)">18</text>
<text x="49.47" y="354.55" font-size="5.8" text-anchor="middle" stroke="#222" stroke-width="0.18" fill="#222">24</text>
<text x="15.9" y="389.62" font-size="5.8" text-anchor="middle" stroke="#222" stroke-width="0.18" fill="#222" transform="rotate(-90 15.9 389.62)">24</text>
<text x="59.26" y="354.55" font-size="5.8" text-anchor="middle" stroke="#222" stroke-width="0.18" fill="#222">6</text>
<text x="15.9" y="399.42" font-size="5.8" text-anchor="middle" stroke="#222" stroke-width="0.18" fill="#222" transform="rotate(-90 15.9 399.42)">6</text>
<text x="69.06" y="354.55" font-size="5.8" text-anchor="middle" stroke="#222" stroke-width="0.18" fill="#222">12</text>
<text x="15.9" y="409.23" font-size="5.8" text-anchor="middle" stroke="#222" stroke-width="0.18" fill="#222" transform="rotate(-90 15.9 409.23)">12</text>
<text x="78.85" y="354.55" font-size="5.8" text-anchor="middle" stroke="#222" stroke-width="0.18" fill="#222">18</text>
<text x="15.9" y="419.03" font-size="5.8" text-anchor="middle" stroke="#222" stroke-width="0.18" fill="#222" transform="rotate(-90 15.9 419.03)">18</text>
<text x="88.64" y="354.55" font-size="5.8" text-anchor="middle" stroke="#222" stroke-width="0.18" fill="#222">24</text>
<text x="15.9" y="428.84" font-size="5.8" text-anchor="middle" stroke="#222" stroke-width="0.18" fill="#222" transform="rotate(-90 15.9 428.84)">24</text>
<text x="98.43" y="354.55" font-size="5.8" text-anchor="middle" stroke="#222" stroke-width="0.18" fill="#222">6</text>
<text x="15.9" y="438.64" font-size="5.8" text-anchor="middle" stroke="#222" stroke-width="0.18" fill="#222" transform="rotate(-90 15.9 438.64)">6</text>
<text x="108.22" y="354.55" font-size="5.8" text-anchor="middle" stroke="#222" stroke-width="0.18" fill="#222">12</text>
<text x="15.9" y="448.45" font-size="5.8" text-anchor="middle" stroke="#222" stroke-width="0.18" fill="#222" transform="rotate(-90 15.9 448.45)">12</text>
<text x="118.02" y="354.55" font-size="5.8" text-anchor="middle" stroke="#222" stroke-width="0.18" fill="#222">18</text>
<text x="15.9" y="458.25" font-size="5.8" text-anchor="middle" stroke="#222" stroke-width="0.18" fill="#222" transform="rotate(-90 15.9 458.25)">18</text>
<text x="127.81" y="354.55" font-size="5.8" text-anchor="middle" stroke="#222" stroke-width="0.18" fill="#222">24</text>
<text x="15.9" y="468.06" font-size="5.8" text-anchor="middle" stroke="#222" stroke-width="0.18" fill="#222" transform="rotate(-90 15.9 468.06)">24</text>
<path d="M15.15 347.6V346.1H53.8V347.6" fill="none" stroke="#333" stroke-width="0.7"/>
<text x="34.4" y="344.8" font-size="6.9" text-anchor="middle" stroke="#222" stroke-width="0.18" fill="#222" textLength="38.5" lengthAdjust="spacingAndGlyphs">Granulocytes</text>
<path d="M8.9 357H7.4V396.1H8.9" fill="none" stroke="#333" stroke-width="0.7"/>
<text x="6.1" y="376.55" font-size="6.9" text-anchor="middle" stroke="#222" stroke-width="0.18" fill="#222" transform="rotate(-90 6.1 376.55)" textLength="38.5" lengthAdjust="spacingAndGlyphs">Granulocytes</text>
<path d="M56.2 347.6V346.1H92.5V347.6" fill="none" stroke="#333" stroke-width="0.7"/>
<text x="74" y="344.8" font-size="6.9" text-anchor="middle" stroke="#222" stroke-width="0.18" fill="#222" textLength="17.8" lengthAdjust="spacingAndGlyphs">B cells</text>
<path d="M8.9 397.3H7.4V433.1H8.9" fill="none" stroke="#333" stroke-width="0.7"/>
<text x="6.1" y="416.25" font-size="6.9" text-anchor="middle" stroke="#222" stroke-width="0.18" fill="#222" transform="rotate(-90 6.1 416.25)" textLength="17.8" lengthAdjust="spacingAndGlyphs">B cells</text>
<path d="M95.2 347.6V346.1H131.9V347.6" fill="none" stroke="#333" stroke-width="0.7"/>
<text x="113.2" y="344.8" font-size="6.9" text-anchor="middle" stroke="#222" stroke-width="0.18" fill="#222" textLength="17.8" lengthAdjust="spacingAndGlyphs">T cells</text>
<path d="M8.9 436.9H7.4V473H8.9" fill="none" stroke="#333" stroke-width="0.7"/>
<text x="6.1" y="455.65" font-size="6.9" text-anchor="middle" stroke="#222" stroke-width="0.18" fill="#222" transform="rotate(-90 6.1 455.65)" textLength="17.8" lengthAdjust="spacingAndGlyphs">T cells</text>
<text x="237.6" y="331.6" font-size="7.3" text-anchor="middle" font-weight="bold" stroke="#111" stroke-width="0.22" fill="#111" textLength="29" lengthAdjust="spacingAndGlyphs">Mouse 5</text>
<rect x="181.3" y="356.2" width="115.1" height="115.5" fill="#fff"/>
<path d="M181.3 356.2V471.7M181.3 356.2H296.4M190.89 356.2V471.7M181.3 365.82H296.4M200.48 356.2V471.7M181.3 375.45H296.4M210.07 356.2V471.7M181.3 385.07H296.4M219.67 356.2V471.7M181.3 394.7H296.4M229.26 356.2V471.7M181.3 404.32H296.4M238.85 356.2V471.7M181.3 413.95H296.4M248.44 356.2V471.7M181.3 423.57H296.4M258.03 356.2V471.7M181.3 433.2H296.4M267.62 356.2V471.7M181.3 442.82H296.4M277.22 356.2V471.7M181.3 452.45H296.4M286.81 356.2V471.7M181.3 462.07H296.4M296.4 356.2V471.7M181.3 471.7H296.4" stroke="#e4dfe2" stroke-width="0.6" fill="none"/>
<rect x="181.48" y="356.38" width="9.24" height="9.28" fill="#1e2464"/>
<rect x="194.3" y="359.62" width="2.78" height="2.79" fill="#37a1b3"/>
<rect x="203.89" y="359.62" width="2.78" height="2.79" fill="#37a1b3"/>
<rect x="213.48" y="359.62" width="2.78" height="2.79" fill="#37a1b3"/>
<rect x="220.58" y="357.11" width="7.77" height="7.8" fill="#2446a5"/>
<rect x="230.6" y="357.55" width="6.91" height="6.93" fill="#265eb4"/>
<rect x="241.1" y="358.46" width="5.08" height="5.1" fill="#2a84be"/>
<rect x="251.27" y="359.04" width="3.93" height="3.95" fill="#2d96be"/>
<rect x="261.44" y="359.62" width="2.78" height="2.79" fill="#37a1b3"/>
<rect x="269.88" y="358.46" width="5.08" height="5.1" fill="#2a84be"/>
<rect x="279.47" y="358.46" width="5.08" height="5.1" fill="#2a84be"/>
<rect x="289.64" y="359.04" width="3.93" height="3.95" fill="#2d96be"/>
<rect x="184.71" y="369.24" width="2.78" height="2.79" fill="#37a1b3"/>
<rect x="191.07" y="366" width="9.24" height="9.28" fill="#1e2464"/>
<rect x="200.96" y="366.31" width="8.63" height="8.66" fill="#223084"/>
<rect x="212.33" y="368.09" width="5.08" height="5.1" fill="#2a84be"/>
<rect x="223.07" y="369.24" width="2.78" height="2.79" fill="#37a1b3"/>
<rect x="232.09" y="368.66" width="3.93" height="3.95" fill="#2d96be"/>
<rect x="241.1" y="368.09" width="5.08" height="5.1" fill="#2a84be"/>
<rect x="250.7" y="368.09" width="5.08" height="5.1" fill="#2a84be"/>
<rect x="261.92" y="369.72" width="1.82" height="1.83" fill="#56a49e"/>
<rect x="271.51" y="369.72" width="1.82" height="1.83" fill="#56a49e"/>
<rect x="280.05" y="368.66" width="3.93" height="3.95" fill="#2d96be"/>
<rect x="289.64" y="368.66" width="3.93" height="3.95" fill="#2d96be"/>
<rect x="184.71" y="378.87" width="2.78" height="2.79" fill="#37a1b3"/>
<rect x="191.37" y="375.93" width="8.63" height="8.66" fill="#223084"/>
<rect x="200.66" y="375.62" width="9.24" height="9.28" fill="#1e2464"/>
<rect x="210.99" y="376.36" width="7.77" height="7.8" fill="#2446a5"/>
<rect x="223.55" y="379.35" width="1.82" height="1.83" fill="#56a49e"/>
<rect x="232.09" y="378.29" width="3.93" height="3.95" fill="#2d96be"/>
<rect x="241.1" y="377.71" width="5.08" height="5.1" fill="#2a84be"/>
<rect x="250.7" y="377.71" width="5.08" height="5.1" fill="#2a84be"/>
<rect x="261.92" y="379.35" width="1.82" height="1.83" fill="#56a49e"/>
<rect x="271.51" y="379.35" width="1.82" height="1.83" fill="#56a49e"/>
<rect x="280.05" y="378.29" width="3.93" height="3.95" fill="#2d96be"/>
<rect x="289.64" y="378.29" width="3.93" height="3.95" fill="#2d96be"/>
<rect x="184.71" y="388.49" width="2.78" height="2.79" fill="#37a1b3"/>
<rect x="193.15" y="387.34" width="5.08" height="5.1" fill="#2a84be"/>
<rect x="201.39" y="385.99" width="7.77" height="7.8" fill="#2446a5"/>
<rect x="210.25" y="385.25" width="9.24" height="9.28" fill="#1e2464"/>
<rect x="223.55" y="388.97" width="1.82" height="1.83" fill="#56a49e"/>
<rect x="232.09" y="387.91" width="3.93" height="3.95" fill="#2d96be"/>
<rect x="241.1" y="387.34" width="5.08" height="5.1" fill="#2a84be"/>
<rect x="250.7" y="387.34" width="5.08" height="5.1" fill="#2a84be"/>
<rect x="261.92" y="388.97" width="1.82" height="1.83" fill="#56a49e"/>
<rect x="271.03" y="388.49" width="2.78" height="2.79" fill="#37a1b3"/>
<rect x="280.05" y="387.91" width="3.93" height="3.95" fill="#2d96be"/>
<rect x="289.06" y="387.34" width="5.08" height="5.1" fill="#2a84be"/>
<rect x="182.21" y="395.61" width="7.77" height="7.8" fill="#2446a5"/>
<rect x="194.3" y="398.12" width="2.78" height="2.79" fill="#37a1b3"/>
<rect x="204.37" y="398.6" width="1.82" height="1.83" fill="#56a49e"/>
<rect x="213.96" y="398.6" width="1.82" height="1.83" fill="#56a49e"/>
<rect x="219.84" y="394.88" width="9.24" height="9.28" fill="#1e2464"/>
<rect x="230.6" y="396.05" width="6.91" height="6.93" fill="#265eb4"/>
<rect x="241.1" y="396.96" width="5.08" height="5.1" fill="#2a84be"/>
<rect x="251.27" y="397.54" width="3.93" height="3.95" fill="#2d96be"/>
<rect x="261.44" y="398.12" width="2.78" height="2.79" fill="#37a1b3"/>
<rect x="270.45" y="397.54" width="3.93" height="3.95" fill="#2d96be"/>
<rect x="280.62" y="398.12" width="2.78" height="2.79" fill="#37a1b3"/>
<rect x="290.21" y="398.12" width="2.78" height="2.79" fill="#37a1b3"/>
<rect x="182.64" y="405.67" width="6.91" height="6.93" fill="#265eb4"/>
<rect x="193.72" y="407.16" width="3.93" height="3.95" fill="#2d96be"/>
<rect x="203.31" y="407.16" width="3.93" height="3.95" fill="#2d96be"/>
<rect x="212.9" y="407.16" width="3.93" height="3.95" fill="#2d96be"/>
<rect x="221.01" y="405.67" width="6.91" height="6.93" fill="#265eb4"/>
<rect x="229.43" y="404.5" width="9.24" height="9.28" fill="#1e2464"/>
<rect x="239.33" y="404.81" width="8.63" height="8.66" fill="#223084"/>
<rect x="248.92" y="404.81" width="8.63" height="8.66" fill="#223084"/>
<rect x="261.92" y="408.22" width="1.82" height="1.83" fill="#56a49e"/>
<rect x="269.45" y="406.15" width="5.95" height="5.97" fill="#2873bb"/>
<rect x="277.7" y="404.81" width="8.63" height="8.66" fill="#223084"/>
<rect x="287.29" y="404.81" width="8.63" height="8.66" fill="#223084"/>
<rect x="183.55" y="416.21" width="5.08" height="5.1" fill="#2a84be"/>
<rect x="193.15" y="416.21" width="5.08" height="5.1" fill="#2a84be"/>
<rect x="202.74" y="416.21" width="5.08" height="5.1" fill="#2a84be"/>
<rect x="212.33" y="416.21" width="5.08" height="5.1" fill="#2a84be"/>
<rect x="221.92" y="416.21" width="5.08" height="5.1" fill="#2a84be"/>
<rect x="229.74" y="414.43" width="8.63" height="8.66" fill="#223084"/>
<rect x="239.03" y="414.12" width="9.24" height="9.28" fill="#1e2464"/>
<rect x="248.62" y="414.12" width="9.24" height="9.28" fill="#1e2464"/>
<rect x="269.88" y="416.21" width="5.08" height="5.1" fill="#2a84be"/>
<rect x="277.7" y="414.43" width="8.63" height="8.66" fill="#223084"/>
<rect x="287" y="414.14" width="9.21" height="9.24" fill="#222e80"/>
<rect x="184.13" y="426.41" width="3.93" height="3.95" fill="#2d96be"/>
<rect x="193.15" y="425.84" width="5.08" height="5.1" fill="#2a84be"/>
<rect x="202.74" y="425.84" width="5.08" height="5.1" fill="#2a84be"/>
<rect x="212.33" y="425.84" width="5.08" height="5.1" fill="#2a84be"/>
<rect x="222.5" y="426.41" width="3.93" height="3.95" fill="#2d96be"/>
<rect x="229.74" y="424.06" width="8.63" height="8.66" fill="#223084"/>
<rect x="239.03" y="423.75" width="9.24" height="9.28" fill="#1e2464"/>
<rect x="248.62" y="423.75" width="9.24" height="9.28" fill="#1e2464"/>
<rect x="269.88" y="425.84" width="5.08" height="5.1" fill="#2a84be"/>
<rect x="277.7" y="424.06" width="8.63" height="8.66" fill="#223084"/>
<rect x="287" y="423.77" width="9.21" height="9.24" fill="#222e80"/>
<rect x="184.71" y="436.62" width="2.78" height="2.79" fill="#37a1b3"/>
<rect x="194.78" y="437.1" width="1.82" height="1.83" fill="#56a49e"/>
<rect x="204.37" y="437.1" width="1.82" height="1.83" fill="#56a49e"/>
<rect x="213.96" y="437.1" width="1.82" height="1.83" fill="#56a49e"/>
<rect x="223.07" y="436.62" width="2.78" height="2.79" fill="#37a1b3"/>
<rect x="233.14" y="437.1" width="1.82" height="1.83" fill="#56a49e"/>
<rect x="258.21" y="433.38" width="9.24" height="9.28" fill="#1e2464"/>
<rect x="268.1" y="433.68" width="8.63" height="8.66" fill="#223084"/>
<rect x="279.04" y="435.03" width="5.95" height="5.97" fill="#2873bb"/>
<rect x="288.63" y="435.03" width="5.95" height="5.97" fill="#2873bb"/>
<rect x="183.55" y="445.09" width="5.08" height="5.1" fill="#2a84be"/>
<rect x="194.78" y="446.72" width="1.82" height="1.83" fill="#56a49e"/>
<rect x="204.37" y="446.72" width="1.82" height="1.83" fill="#56a49e"/>
<rect x="213.48" y="446.24" width="2.78" height="2.79" fill="#37a1b3"/>
<rect x="222.5" y="445.66" width="3.93" height="3.95" fill="#2d96be"/>
<rect x="231.08" y="444.65" width="5.95" height="5.97" fill="#2873bb"/>
<rect x="241.1" y="445.09" width="5.08" height="5.1" fill="#2a84be"/>
<rect x="250.7" y="445.09" width="5.08" height="5.1" fill="#2a84be"/>
<rect x="258.51" y="443.31" width="8.63" height="8.66" fill="#223084"/>
<rect x="267.8" y="443" width="9.24" height="9.28" fill="#1e2464"/>
<rect x="277.7" y="443.31" width="8.63" height="8.66" fill="#223084"/>
<rect x="287.72" y="443.74" width="7.77" height="7.8" fill="#2446a5"/>
<rect x="183.55" y="454.71" width="5.08" height="5.1" fill="#2a84be"/>
<rect x="193.72" y="455.29" width="3.93" height="3.95" fill="#2d96be"/>
<rect x="203.31" y="455.29" width="3.93" height="3.95" fill="#2d96be"/>
<rect x="212.9" y="455.29" width="3.93" height="3.95" fill="#2d96be"/>
<rect x="223.07" y="455.87" width="2.78" height="2.79" fill="#37a1b3"/>
<rect x="229.74" y="452.93" width="8.63" height="8.66" fill="#223084"/>
<rect x="239.33" y="452.93" width="8.63" height="8.66" fill="#223084"/>
<rect x="248.92" y="452.93" width="8.63" height="8.66" fill="#223084"/>
<rect x="259.86" y="454.28" width="5.95" height="5.97" fill="#2873bb"/>
<rect x="268.1" y="452.93" width="8.63" height="8.66" fill="#223084"/>
<rect x="277.39" y="452.62" width="9.24" height="9.28" fill="#1e2464"/>
<rect x="286.98" y="452.62" width="9.24" height="9.28" fill="#1e2464"/>
<rect x="184.13" y="464.91" width="3.93" height="3.95" fill="#2d96be"/>
<rect x="193.72" y="464.91" width="3.93" height="3.95" fill="#2d96be"/>
<rect x="203.31" y="464.91" width="3.93" height="3.95" fill="#2d96be"/>
<rect x="212.33" y="464.34" width="5.08" height="5.1" fill="#2a84be"/>
<rect x="223.07" y="465.49" width="2.78" height="2.79" fill="#37a1b3"/>
<rect x="229.74" y="462.56" width="8.63" height="8.66" fill="#223084"/>
<rect x="239.04" y="462.27" width="9.21" height="9.24" fill="#222e80"/>
<rect x="248.63" y="462.27" width="9.21" height="9.24" fill="#222e80"/>
<rect x="259.86" y="463.9" width="5.95" height="5.97" fill="#2873bb"/>
<rect x="268.54" y="462.99" width="7.77" height="7.8" fill="#2446a5"/>
<rect x="277.39" y="462.25" width="9.24" height="9.28" fill="#1e2464"/>
<rect x="286.98" y="462.25" width="9.24" height="9.28" fill="#1e2464"/>
<text x="184.19" y="353.85" font-size="5.8" text-anchor="middle" stroke="#222" stroke-width="0.18" fill="#222">6</text>
<text x="180" y="359.83" font-size="5.8" text-anchor="middle" stroke="#222" stroke-width="0.18" fill="#222" transform="rotate(-90 180 359.83)">6</text>
<text x="193.98" y="353.85" font-size="5.8" text-anchor="middle" stroke="#222" stroke-width="0.18" fill="#222">12</text>
<text x="180" y="369.68" font-size="5.8" text-anchor="middle" stroke="#222" stroke-width="0.18" fill="#222" transform="rotate(-90 180 369.68)">12</text>
<text x="203.76" y="353.85" font-size="5.8" text-anchor="middle" stroke="#222" stroke-width="0.18" fill="#222">18</text>
<text x="180" y="379.54" font-size="5.8" text-anchor="middle" stroke="#222" stroke-width="0.18" fill="#222" transform="rotate(-90 180 379.54)">18</text>
<text x="213.54" y="353.85" font-size="5.8" text-anchor="middle" stroke="#222" stroke-width="0.18" fill="#222">24</text>
<text x="180" y="389.4" font-size="5.8" text-anchor="middle" stroke="#222" stroke-width="0.18" fill="#222" transform="rotate(-90 180 389.4)">24</text>
<text x="223.33" y="353.85" font-size="5.8" text-anchor="middle" stroke="#222" stroke-width="0.18" fill="#222">6</text>
<text x="180" y="399.25" font-size="5.8" text-anchor="middle" stroke="#222" stroke-width="0.18" fill="#222" transform="rotate(-90 180 399.25)">6</text>
<text x="233.11" y="353.85" font-size="5.8" text-anchor="middle" stroke="#222" stroke-width="0.18" fill="#222">12</text>
<text x="180" y="409.11" font-size="5.8" text-anchor="middle" stroke="#222" stroke-width="0.18" fill="#222" transform="rotate(-90 180 409.11)">12</text>
<text x="242.89" y="353.85" font-size="5.8" text-anchor="middle" stroke="#222" stroke-width="0.18" fill="#222">18</text>
<text x="180" y="418.96" font-size="5.8" text-anchor="middle" stroke="#222" stroke-width="0.18" fill="#222" transform="rotate(-90 180 418.96)">18</text>
<text x="252.68" y="353.85" font-size="5.8" text-anchor="middle" stroke="#222" stroke-width="0.18" fill="#222">24</text>
<text x="180" y="428.82" font-size="5.8" text-anchor="middle" stroke="#222" stroke-width="0.18" fill="#222" transform="rotate(-90 180 428.82)">24</text>
<text x="262.46" y="353.85" font-size="5.8" text-anchor="middle" stroke="#222" stroke-width="0.18" fill="#222">6</text>
<text x="180" y="438.68" font-size="5.8" text-anchor="middle" stroke="#222" stroke-width="0.18" fill="#222" transform="rotate(-90 180 438.68)">6</text>
<text x="272.24" y="353.85" font-size="5.8" text-anchor="middle" stroke="#222" stroke-width="0.18" fill="#222">12</text>
<text x="180" y="448.53" font-size="5.8" text-anchor="middle" stroke="#222" stroke-width="0.18" fill="#222" transform="rotate(-90 180 448.53)">12</text>
<text x="282.03" y="353.85" font-size="5.8" text-anchor="middle" stroke="#222" stroke-width="0.18" fill="#222">18</text>
<text x="180" y="458.39" font-size="5.8" text-anchor="middle" stroke="#222" stroke-width="0.18" fill="#222" transform="rotate(-90 180 458.39)">18</text>
<text x="291.81" y="353.85" font-size="5.8" text-anchor="middle" stroke="#222" stroke-width="0.18" fill="#222">24</text>
<text x="180" y="468.24" font-size="5.8" text-anchor="middle" stroke="#222" stroke-width="0.18" fill="#222" transform="rotate(-90 180 468.24)">24</text>
<path d="M179.23 346.9V345.4H217.87V346.9" fill="none" stroke="#333" stroke-width="0.7"/>
<text x="198.48" y="344.1" font-size="6.9" text-anchor="middle" stroke="#222" stroke-width="0.18" fill="#222" textLength="38.5" lengthAdjust="spacingAndGlyphs">Granulocytes</text>
<path d="M173 356.6H171.5V395.9H173" fill="none" stroke="#333" stroke-width="0.7"/>
<text x="170.2" y="376.25" font-size="6.9" text-anchor="middle" stroke="#222" stroke-width="0.18" fill="#222" transform="rotate(-90 170.2 376.25)" textLength="38.5" lengthAdjust="spacingAndGlyphs">Granulocytes</text>
<path d="M220.27 346.9V345.4H256.53V346.9" fill="none" stroke="#333" stroke-width="0.7"/>
<text x="238.05" y="344.1" font-size="6.9" text-anchor="middle" stroke="#222" stroke-width="0.18" fill="#222" textLength="17.8" lengthAdjust="spacingAndGlyphs">B cells</text>
<path d="M173 397.1H171.5V433.1H173" fill="none" stroke="#333" stroke-width="0.7"/>
<text x="170.2" y="416.15" font-size="6.9" text-anchor="middle" stroke="#222" stroke-width="0.18" fill="#222" transform="rotate(-90 170.2 416.15)" textLength="17.8" lengthAdjust="spacingAndGlyphs">B cells</text>
<path d="M259.23 346.9V345.4H295.9V346.9" fill="none" stroke="#333" stroke-width="0.7"/>
<text x="277.22" y="344.1" font-size="6.9" text-anchor="middle" stroke="#222" stroke-width="0.18" fill="#222" textLength="17.8" lengthAdjust="spacingAndGlyphs">T cells</text>
<path d="M173 436.9H171.5V473.2H173" fill="none" stroke="#333" stroke-width="0.7"/>
<text x="170.2" y="455.75" font-size="6.9" text-anchor="middle" stroke="#222" stroke-width="0.18" fill="#222" transform="rotate(-90 170.2 455.75)" textLength="17.8" lengthAdjust="spacingAndGlyphs">T cells</text>
<text x="399" y="331.6" font-size="7.3" text-anchor="middle" font-weight="bold" stroke="#111" stroke-width="0.22" fill="#111" textLength="29" lengthAdjust="spacingAndGlyphs">Mouse 6</text>
<rect x="345.9" y="355.2" width="115" height="114.9" fill="#fff"/>
<path d="M345.9 355.2V470.1M345.9 355.2H460.9M356.35 355.2V470.1M345.9 365.65H460.9M366.81 355.2V470.1M345.9 376.09H460.9M377.26 355.2V470.1M345.9 386.54H460.9M387.72 355.2V470.1M345.9 396.98H460.9M398.17 355.2V470.1M345.9 407.43H460.9M408.63 355.2V470.1M345.9 417.87H460.9M419.08 355.2V470.1M345.9 428.32H460.9M429.54 355.2V470.1M345.9 438.76H460.9M439.99 355.2V470.1M345.9 449.21H460.9M450.45 355.2V470.1M345.9 459.65H460.9M460.9 355.2V470.1M345.9 470.1H460.9" stroke="#e4dfe2" stroke-width="0.6" fill="none"/>
<rect x="346.07" y="355.38" width="10.1" height="10.1" fill="#1e2464"/>
<rect x="359.44" y="358.28" width="4.29" height="4.28" fill="#2d96be"/>
<rect x="370.52" y="358.91" width="3.03" height="3.03" fill="#37a1b3"/>
<rect x="380.97" y="358.91" width="3.03" height="3.03" fill="#37a1b3"/>
<rect x="389.7" y="357.18" width="6.48" height="6.48" fill="#2873bb"/>
<rect x="400.16" y="357.18" width="6.48" height="6.48" fill="#2873bb"/>
<rect x="411.08" y="357.65" width="5.54" height="5.54" fill="#2a84be"/>
<rect x="423.32" y="359.43" width="1.99" height="1.98" fill="#56a49e"/>
<rect x="431.52" y="357.18" width="6.48" height="6.48" fill="#2873bb"/>
<rect x="441.98" y="357.18" width="6.48" height="6.48" fill="#2873bb"/>
<rect x="452.43" y="357.18" width="6.48" height="6.48" fill="#2873bb"/>
<rect x="348.98" y="368.73" width="4.29" height="4.28" fill="#2d96be"/>
<rect x="356.53" y="365.82" width="10.1" height="10.1" fill="#1e2464"/>
<rect x="366.98" y="365.82" width="10.1" height="10.1" fill="#1e2464"/>
<rect x="377.44" y="365.82" width="10.1" height="10.1" fill="#1e2464"/>
<rect x="391.95" y="369.88" width="1.99" height="1.98" fill="#56a49e"/>
<rect x="400.63" y="368.1" width="5.54" height="5.54" fill="#2a84be"/>
<rect x="410.09" y="367.11" width="7.53" height="7.52" fill="#265eb4"/>
<rect x="423.32" y="369.88" width="1.99" height="1.98" fill="#56a49e"/>
<rect x="433.77" y="369.88" width="1.99" height="1.98" fill="#56a49e"/>
<rect x="443.7" y="369.35" width="3.03" height="3.03" fill="#37a1b3"/>
<rect x="453.53" y="368.73" width="4.29" height="4.28" fill="#2d96be"/>
<rect x="349.61" y="379.8" width="3.03" height="3.03" fill="#37a1b3"/>
<rect x="356.53" y="376.27" width="10.1" height="10.1" fill="#1e2464"/>
<rect x="366.98" y="376.27" width="10.1" height="10.1" fill="#1e2464"/>
<rect x="377.44" y="376.27" width="10.1" height="10.1" fill="#1e2464"/>
<rect x="401.26" y="379.17" width="4.29" height="4.28" fill="#2d96be"/>
<rect x="410.61" y="378.08" width="6.48" height="6.48" fill="#2873bb"/>
<rect x="423.32" y="380.32" width="1.99" height="1.98" fill="#56a49e"/>
<rect x="433.77" y="380.32" width="1.99" height="1.98" fill="#56a49e"/>
<rect x="443.7" y="379.8" width="3.03" height="3.03" fill="#37a1b3"/>
<rect x="453.53" y="379.17" width="4.29" height="4.28" fill="#2d96be"/>
<rect x="349.61" y="390.24" width="3.03" height="3.03" fill="#37a1b3"/>
<rect x="356.53" y="386.71" width="10.1" height="10.1" fill="#1e2464"/>
<rect x="366.98" y="386.71" width="10.1" height="10.1" fill="#1e2464"/>
<rect x="377.44" y="386.71" width="10.1" height="10.1" fill="#1e2464"/>
<rect x="401.26" y="389.62" width="4.29" height="4.28" fill="#2d96be"/>
<rect x="410.61" y="388.52" width="6.48" height="6.48" fill="#2873bb"/>
<rect x="423.32" y="390.77" width="1.99" height="1.98" fill="#56a49e"/>
<rect x="433.25" y="390.24" width="3.03" height="3.03" fill="#37a1b3"/>
<rect x="443.07" y="389.62" width="4.29" height="4.28" fill="#2d96be"/>
<rect x="453.53" y="389.62" width="4.29" height="4.28" fill="#2d96be"/>
<rect x="347.89" y="398.97" width="6.48" height="6.48" fill="#2873bb"/>
<rect x="360.59" y="401.21" width="1.99" height="1.98" fill="#56a49e"/>
<rect x="387.89" y="397.16" width="10.1" height="10.1" fill="#1e2464"/>
<rect x="399.64" y="398.44" width="7.53" height="7.52" fill="#265eb4"/>
<rect x="411.08" y="399.44" width="5.54" height="5.54" fill="#2a84be"/>
<rect x="423.32" y="401.21" width="1.99" height="1.98" fill="#56a49e"/>
<rect x="430.53" y="397.97" width="8.47" height="8.46" fill="#2446a5"/>
<rect x="440.98" y="397.97" width="8.47" height="8.46" fill="#2446a5"/>
<rect x="451.44" y="397.97" width="8.47" height="8.46" fill="#2446a5"/>
<rect x="347.89" y="409.41" width="6.48" height="6.48" fill="#2873bb"/>
<rect x="358.81" y="409.88" width="5.54" height="5.54" fill="#2a84be"/>
<rect x="369.89" y="410.51" width="4.29" height="4.28" fill="#2d96be"/>
<rect x="380.35" y="410.51" width="4.29" height="4.28" fill="#2d96be"/>
<rect x="389.18" y="408.89" width="7.53" height="7.52" fill="#265eb4"/>
<rect x="398.35" y="407.6" width="10.1" height="10.1" fill="#1e2464"/>
<rect x="408.8" y="407.6" width="10.1" height="10.1" fill="#1e2464"/>
<rect x="423.32" y="411.66" width="1.99" height="1.98" fill="#56a49e"/>
<rect x="431.52" y="409.41" width="6.48" height="6.48" fill="#2873bb"/>
<rect x="441.98" y="409.41" width="6.48" height="6.48" fill="#2873bb"/>
<rect x="452.9" y="409.88" width="5.54" height="5.54" fill="#2a84be"/>
<rect x="348.36" y="420.33" width="5.54" height="5.54" fill="#2a84be"/>
<rect x="357.82" y="419.34" width="7.53" height="7.52" fill="#265eb4"/>
<rect x="368.8" y="419.86" width="6.48" height="6.48" fill="#2873bb"/>
<rect x="379.25" y="419.86" width="6.48" height="6.48" fill="#2873bb"/>
<rect x="390.17" y="420.33" width="5.54" height="5.54" fill="#2a84be"/>
<rect x="398.35" y="418.05" width="10.1" height="10.1" fill="#1e2464"/>
<rect x="408.8" y="418.05" width="10.1" height="10.1" fill="#1e2464"/>
<rect x="423.32" y="422.1" width="1.99" height="1.98" fill="#56a49e"/>
<rect x="431.99" y="420.33" width="5.54" height="5.54" fill="#2a84be"/>
<rect x="442.45" y="420.33" width="5.54" height="5.54" fill="#2a84be"/>
<rect x="452.9" y="420.33" width="5.54" height="5.54" fill="#2a84be"/>
<rect x="350.13" y="432.55" width="1.99" height="1.98" fill="#56a49e"/>
<rect x="360.59" y="432.55" width="1.99" height="1.98" fill="#56a49e"/>
<rect x="371.04" y="432.55" width="1.99" height="1.98" fill="#56a49e"/>
<rect x="381.5" y="432.55" width="1.99" height="1.98" fill="#56a49e"/>
<rect x="391.95" y="432.55" width="1.99" height="1.98" fill="#56a49e"/>
<rect x="402.41" y="432.55" width="1.99" height="1.98" fill="#56a49e"/>
<rect x="412.86" y="432.55" width="1.99" height="1.98" fill="#56a49e"/>
<rect x="419.26" y="428.49" width="10.1" height="10.1" fill="#1e2464"/>
<rect x="431.52" y="430.3" width="6.48" height="6.48" fill="#2873bb"/>
<rect x="441.45" y="429.78" width="7.53" height="7.52" fill="#265eb4"/>
<rect x="452.43" y="430.3" width="6.48" height="6.48" fill="#2873bb"/>
<rect x="347.89" y="440.75" width="6.48" height="6.48" fill="#2873bb"/>
<rect x="360.59" y="442.99" width="1.99" height="1.98" fill="#56a49e"/>
<rect x="371.04" y="442.99" width="1.99" height="1.98" fill="#56a49e"/>
<rect x="380.97" y="442.47" width="3.03" height="3.03" fill="#37a1b3"/>
<rect x="388.71" y="439.76" width="8.47" height="8.46" fill="#2446a5"/>
<rect x="400.16" y="440.75" width="6.48" height="6.48" fill="#2873bb"/>
<rect x="411.08" y="441.22" width="5.54" height="5.54" fill="#2a84be"/>
<rect x="421.07" y="440.75" width="6.48" height="6.48" fill="#2873bb"/>
<rect x="429.71" y="438.94" width="10.1" height="10.1" fill="#1e2464"/>
<rect x="440.17" y="438.94" width="10.1" height="10.1" fill="#1e2464"/>
<rect x="450.62" y="438.94" width="10.1" height="10.1" fill="#1e2464"/>
<rect x="347.89" y="451.19" width="6.48" height="6.48" fill="#2873bb"/>
<rect x="360.07" y="452.92" width="3.03" height="3.03" fill="#37a1b3"/>
<rect x="370.52" y="452.92" width="3.03" height="3.03" fill="#37a1b3"/>
<rect x="380.35" y="452.29" width="4.29" height="4.28" fill="#2d96be"/>
<rect x="388.71" y="450.2" width="8.47" height="8.46" fill="#2446a5"/>
<rect x="400.16" y="451.19" width="6.48" height="6.48" fill="#2873bb"/>
<rect x="411.08" y="451.66" width="5.54" height="5.54" fill="#2a84be"/>
<rect x="420.55" y="450.67" width="7.53" height="7.52" fill="#265eb4"/>
<rect x="429.71" y="449.38" width="10.1" height="10.1" fill="#1e2464"/>
<rect x="440.17" y="449.38" width="10.1" height="10.1" fill="#1e2464"/>
<rect x="450.62" y="449.38" width="10.1" height="10.1" fill="#1e2464"/>
<rect x="347.89" y="461.64" width="6.48" height="6.48" fill="#2873bb"/>
<rect x="359.44" y="462.74" width="4.29" height="4.28" fill="#2d96be"/>
<rect x="369.89" y="462.74" width="4.29" height="4.28" fill="#2d96be"/>
<rect x="380.35" y="462.74" width="4.29" height="4.28" fill="#2d96be"/>
<rect x="388.71" y="460.65" width="8.47" height="8.46" fill="#2446a5"/>
<rect x="400.63" y="462.11" width="5.54" height="5.54" fill="#2a84be"/>
<rect x="411.08" y="462.11" width="5.54" height="5.54" fill="#2a84be"/>
<rect x="421.07" y="461.64" width="6.48" height="6.48" fill="#2873bb"/>
<rect x="429.71" y="459.83" width="10.1" height="10.1" fill="#1e2464"/>
<rect x="440.17" y="459.83" width="10.1" height="10.1" fill="#1e2464"/>
<rect x="450.62" y="459.83" width="10.1" height="10.1" fill="#1e2464"/>
<text x="351.13" y="353.85" font-size="5.8" text-anchor="middle" stroke="#222" stroke-width="0.18" fill="#222">6</text>
<text x="344.6" y="359.82" font-size="5.8" text-anchor="middle" stroke="#222" stroke-width="0.18" fill="#222" transform="rotate(-90 344.6 359.82)">6</text>
<text x="361.58" y="353.85" font-size="5.8" text-anchor="middle" stroke="#222" stroke-width="0.18" fill="#222">12</text>
<text x="344.6" y="370.27" font-size="5.8" text-anchor="middle" stroke="#222" stroke-width="0.18" fill="#222" transform="rotate(-90 344.6 370.27)">12</text>
<text x="372.04" y="353.85" font-size="5.8" text-anchor="middle" stroke="#222" stroke-width="0.18" fill="#222">18</text>
<text x="344.6" y="380.71" font-size="5.8" text-anchor="middle" stroke="#222" stroke-width="0.18" fill="#222" transform="rotate(-90 344.6 380.71)">18</text>
<text x="382.49" y="353.85" font-size="5.8" text-anchor="middle" stroke="#222" stroke-width="0.18" fill="#222">24</text>
<text x="344.6" y="391.16" font-size="5.8" text-anchor="middle" stroke="#222" stroke-width="0.18" fill="#222" transform="rotate(-90 344.6 391.16)">24</text>
<text x="392.95" y="353.85" font-size="5.8" text-anchor="middle" stroke="#222" stroke-width="0.18" fill="#222">6</text>
<text x="344.6" y="401.6" font-size="5.8" text-anchor="middle" stroke="#222" stroke-width="0.18" fill="#222" transform="rotate(-90 344.6 401.6)">6</text>
<text x="403.4" y="353.85" font-size="5.8" text-anchor="middle" stroke="#222" stroke-width="0.18" fill="#222">12</text>
<text x="344.6" y="412.05" font-size="5.8" text-anchor="middle" stroke="#222" stroke-width="0.18" fill="#222" transform="rotate(-90 344.6 412.05)">12</text>
<text x="413.85" y="353.85" font-size="5.8" text-anchor="middle" stroke="#222" stroke-width="0.18" fill="#222">18</text>
<text x="344.6" y="422.5" font-size="5.8" text-anchor="middle" stroke="#222" stroke-width="0.18" fill="#222" transform="rotate(-90 344.6 422.5)">18</text>
<text x="424.31" y="353.85" font-size="5.8" text-anchor="middle" stroke="#222" stroke-width="0.18" fill="#222">6</text>
<text x="344.6" y="432.94" font-size="5.8" text-anchor="middle" stroke="#222" stroke-width="0.18" fill="#222" transform="rotate(-90 344.6 432.94)">6</text>
<text x="434.76" y="353.85" font-size="5.8" text-anchor="middle" stroke="#222" stroke-width="0.18" fill="#222">12</text>
<text x="344.6" y="443.39" font-size="5.8" text-anchor="middle" stroke="#222" stroke-width="0.18" fill="#222" transform="rotate(-90 344.6 443.39)">12</text>
<text x="445.22" y="353.85" font-size="5.8" text-anchor="middle" stroke="#222" stroke-width="0.18" fill="#222">18</text>
<text x="344.6" y="453.83" font-size="5.8" text-anchor="middle" stroke="#222" stroke-width="0.18" fill="#222" transform="rotate(-90 344.6 453.83)">18</text>
<text x="455.67" y="353.85" font-size="5.8" text-anchor="middle" stroke="#222" stroke-width="0.18" fill="#222">24</text>
<text x="344.6" y="464.28" font-size="5.8" text-anchor="middle" stroke="#222" stroke-width="0.18" fill="#222" transform="rotate(-90 344.6 464.28)">24</text>
<path d="M346 347.6V346.1H385.62V347.6" fill="none" stroke="#333" stroke-width="0.7"/>
<text x="366.21" y="344.8" font-size="6.9" text-anchor="middle" stroke="#222" stroke-width="0.18" fill="#222" textLength="38.5" lengthAdjust="spacingAndGlyphs">Granulocytes</text>
<path d="M337.6 355.7H336.1V395.18H337.6" fill="none" stroke="#333" stroke-width="0.7"/>
<text x="334.8" y="375.39" font-size="6.9" text-anchor="middle" stroke="#222" stroke-width="0.18" fill="#222" transform="rotate(-90 334.8 375.39)" textLength="38.5" lengthAdjust="spacingAndGlyphs">Granulocytes</text>
<path d="M388.32 347.6V346.1H417.48V347.6" fill="none" stroke="#333" stroke-width="0.7"/>
<text x="403.7" y="344.8" font-size="6.9" text-anchor="middle" stroke="#222" stroke-width="0.18" fill="#222" textLength="17.8" lengthAdjust="spacingAndGlyphs">B cells</text>
<path d="M337.6 397.98H336.1V426.82H337.6" fill="none" stroke="#333" stroke-width="0.7"/>
<text x="334.8" y="411.75" font-size="6.9" text-anchor="middle" stroke="#222" stroke-width="0.18" fill="#222" transform="rotate(-90 334.8 411.75)" textLength="17.8" lengthAdjust="spacingAndGlyphs">B cells</text>
<path d="M420.98 347.6V346.1H459.1V347.6" fill="none" stroke="#333" stroke-width="0.7"/>
<text x="439.99" y="344.8" font-size="6.9" text-anchor="middle" stroke="#222" stroke-width="0.18" fill="#222" textLength="17.8" lengthAdjust="spacingAndGlyphs">T cells</text>
<path d="M337.6 430.32H336.1V468.9H337.6" fill="none" stroke="#333" stroke-width="0.7"/>
<text x="334.8" y="449.81" font-size="6.9" text-anchor="middle" stroke="#222" stroke-width="0.18" fill="#222" transform="rotate(-90 334.8 449.81)" textLength="17.8" lengthAdjust="spacingAndGlyphs">T cells</text>
<text x="71.3" y="490.3" font-size="7.3" text-anchor="middle" font-weight="bold" stroke="#111" stroke-width="0.22" fill="#111" textLength="29" lengthAdjust="spacingAndGlyphs">Mouse 7</text>
<rect x="17.5" y="516.5" width="115.3" height="114.5" fill="#fff"/>
<path d="M17.5 516.5V631M17.5 516.5H132.8M27.11 516.5V631M17.5 526.04H132.8M36.72 516.5V631M17.5 535.58H132.8M46.33 516.5V631M17.5 545.12H132.8M55.93 516.5V631M17.5 554.67H132.8M65.54 516.5V631M17.5 564.21H132.8M75.15 516.5V631M17.5 573.75H132.8M84.76 516.5V631M17.5 583.29H132.8M94.37 516.5V631M17.5 592.83H132.8M103.98 516.5V631M17.5 602.38H132.8M113.58 516.5V631M17.5 611.92H132.8M123.19 516.5V631M17.5 621.46H132.8M132.8 516.5V631M17.5 631H132.8" stroke="#e4dfe2" stroke-width="0.6" fill="none"/>
<rect x="17.68" y="516.67" width="9.26" height="9.19" fill="#1e2464"/>
<rect x="31" y="520.36" width="1.83" height="1.81" fill="#56a49e"/>
<rect x="40.61" y="520.36" width="1.83" height="1.81" fill="#56a49e"/>
<rect x="50.22" y="520.36" width="1.83" height="1.81" fill="#56a49e"/>
<rect x="56.11" y="516.67" width="9.26" height="9.19" fill="#1e2464"/>
<rect x="65.72" y="516.67" width="9.26" height="9.19" fill="#1e2464"/>
<rect x="75.33" y="516.67" width="9.26" height="9.19" fill="#1e2464"/>
<rect x="84.93" y="516.67" width="9.26" height="9.19" fill="#1e2464"/>
<rect x="98.26" y="520.36" width="1.83" height="1.81" fill="#56a49e"/>
<rect x="104.15" y="516.67" width="9.26" height="9.19" fill="#1e2464"/>
<rect x="113.76" y="516.67" width="9.26" height="9.19" fill="#1e2464"/>
<rect x="123.38" y="516.69" width="9.22" height="9.16" fill="#222e80"/>
<rect x="21.39" y="529.91" width="1.83" height="1.81" fill="#56a49e"/>
<rect x="27.28" y="526.22" width="9.26" height="9.19" fill="#1e2464"/>
<rect x="36.89" y="526.22" width="9.26" height="9.19" fill="#1e2464"/>
<rect x="46.5" y="526.22" width="9.26" height="9.19" fill="#1e2464"/>
<rect x="59.82" y="529.91" width="1.83" height="1.81" fill="#56a49e"/>
<rect x="69.43" y="529.91" width="1.83" height="1.81" fill="#56a49e"/>
<rect x="79.04" y="529.91" width="1.83" height="1.81" fill="#56a49e"/>
<rect x="88.65" y="529.91" width="1.83" height="1.81" fill="#56a49e"/>
<rect x="98.26" y="529.91" width="1.83" height="1.81" fill="#56a49e"/>
<rect x="107.87" y="529.91" width="1.83" height="1.81" fill="#56a49e"/>
<rect x="117.47" y="529.91" width="1.83" height="1.81" fill="#56a49e"/>
<rect x="127.08" y="529.91" width="1.83" height="1.81" fill="#56a49e"/>
<rect x="21.39" y="539.45" width="1.83" height="1.81" fill="#56a49e"/>
<rect x="27.28" y="535.76" width="9.26" height="9.19" fill="#1e2464"/>
<rect x="36.89" y="535.76" width="9.26" height="9.19" fill="#1e2464"/>
<rect x="46.5" y="535.76" width="9.26" height="9.19" fill="#1e2464"/>
<rect x="59.82" y="539.45" width="1.83" height="1.81" fill="#56a49e"/>
<rect x="69.43" y="539.45" width="1.83" height="1.81" fill="#56a49e"/>
<rect x="79.04" y="539.45" width="1.83" height="1.81" fill="#56a49e"/>
<rect x="88.65" y="539.45" width="1.83" height="1.81" fill="#56a49e"/>
<rect x="98.26" y="539.45" width="1.83" height="1.81" fill="#56a49e"/>
<rect x="107.87" y="539.45" width="1.83" height="1.81" fill="#56a49e"/>
<rect x="117.47" y="539.45" width="1.83" height="1.81" fill="#56a49e"/>
<rect x="127.08" y="539.45" width="1.83" height="1.81" fill="#56a49e"/>
<rect x="21.39" y="548.99" width="1.83" height="1.81" fill="#56a49e"/>
<rect x="27.28" y="545.3" width="9.26" height="9.19" fill="#1e2464"/>
<rect x="36.89" y="545.3" width="9.26" height="9.19" fill="#1e2464"/>
<rect x="46.5" y="545.3" width="9.26" height="9.19" fill="#1e2464"/>
<rect x="59.82" y="548.99" width="1.83" height="1.81" fill="#56a49e"/>
<rect x="69.43" y="548.99" width="1.83" height="1.81" fill="#56a49e"/>
<rect x="79.04" y="548.99" width="1.83" height="1.81" fill="#56a49e"/>
<rect x="88.17" y="548.51" width="2.79" height="2.77" fill="#37a1b3"/>
<rect x="98.26" y="548.99" width="1.83" height="1.81" fill="#56a49e"/>
<rect x="107.87" y="548.99" width="1.83" height="1.81" fill="#56a49e"/>
<rect x="117.47" y="548.99" width="1.83" height="1.81" fill="#56a49e"/>
<rect x="126.6" y="548.51" width="2.79" height="2.77" fill="#37a1b3"/>
<rect x="17.68" y="554.84" width="9.26" height="9.19" fill="#1e2464"/>
<rect x="31" y="558.53" width="1.83" height="1.81" fill="#56a49e"/>
<rect x="40.61" y="558.53" width="1.83" height="1.81" fill="#56a49e"/>
<rect x="50.22" y="558.53" width="1.83" height="1.81" fill="#56a49e"/>
<rect x="56.11" y="554.84" width="9.26" height="9.19" fill="#1e2464"/>
<rect x="65.72" y="554.84" width="9.26" height="9.19" fill="#1e2464"/>
<rect x="75.33" y="554.84" width="9.26" height="9.19" fill="#1e2464"/>
<rect x="84.93" y="554.84" width="9.26" height="9.19" fill="#1e2464"/>
<rect x="97.2" y="557.48" width="3.94" height="3.91" fill="#2d96be"/>
<rect x="104.15" y="554.84" width="9.26" height="9.19" fill="#1e2464"/>
<rect x="113.76" y="554.84" width="9.26" height="9.19" fill="#1e2464"/>
<rect x="123.38" y="554.86" width="9.22" height="9.16" fill="#222e80"/>
<rect x="17.68" y="564.38" width="9.26" height="9.19" fill="#1e2464"/>
<rect x="31" y="568.07" width="1.83" height="1.81" fill="#56a49e"/>
<rect x="40.61" y="568.07" width="1.83" height="1.81" fill="#56a49e"/>
<rect x="50.22" y="568.07" width="1.83" height="1.81" fill="#56a49e"/>
<rect x="56.11" y="564.38" width="9.26" height="9.19" fill="#1e2464"/>
<rect x="65.72" y="564.38" width="9.26" height="9.19" fill="#1e2464"/>
<rect x="75.33" y="564.38" width="9.26" height="9.19" fill="#1e2464"/>
<rect x="84.93" y="564.38" width="9.26" height="9.19" fill="#1e2464"/>
<rect x="97.78" y="567.6" width="2.79" height="2.77" fill="#37a1b3"/>
<rect x="104.15" y="564.38" width="9.26" height="9.19" fill="#1e2464"/>
<rect x="113.76" y="564.38" width="9.26" height="9.19" fill="#1e2464"/>
<rect x="123.38" y="564.4" width="9.22" height="9.16" fill="#222e80"/>
<rect x="17.68" y="573.92" width="9.26" height="9.19" fill="#1e2464"/>
<rect x="31" y="577.61" width="1.83" height="1.81" fill="#56a49e"/>
<rect x="40.61" y="577.61" width="1.83" height="1.81" fill="#56a49e"/>
<rect x="50.22" y="577.61" width="1.83" height="1.81" fill="#56a49e"/>
<rect x="56.11" y="573.92" width="9.26" height="9.19" fill="#1e2464"/>
<rect x="65.72" y="573.92" width="9.26" height="9.19" fill="#1e2464"/>
<rect x="75.33" y="573.92" width="9.26" height="9.19" fill="#1e2464"/>
<rect x="84.93" y="573.92" width="9.26" height="9.19" fill="#1e2464"/>
<rect x="97.78" y="577.14" width="2.79" height="2.77" fill="#37a1b3"/>
<rect x="104.15" y="573.92" width="9.26" height="9.19" fill="#1e2464"/>
<rect x="113.76" y="573.92" width="9.26" height="9.19" fill="#1e2464"/>
<rect x="123.38" y="573.94" width="9.22" height="9.16" fill="#222e80"/>
<rect x="17.68" y="583.47" width="9.26" height="9.19" fill="#1e2464"/>
<rect x="31" y="587.16" width="1.83" height="1.81" fill="#56a49e"/>
<rect x="40.61" y="587.16" width="1.83" height="1.81" fill="#56a49e"/>
<rect x="49.74" y="586.68" width="2.79" height="2.77" fill="#37a1b3"/>
<rect x="56.11" y="583.47" width="9.26" height="9.19" fill="#1e2464"/>
<rect x="65.72" y="583.47" width="9.26" height="9.19" fill="#1e2464"/>
<rect x="75.33" y="583.47" width="9.26" height="9.19" fill="#1e2464"/>
<rect x="84.93" y="583.47" width="9.26" height="9.19" fill="#1e2464"/>
<rect x="97.78" y="586.68" width="2.79" height="2.77" fill="#37a1b3"/>
<rect x="104.15" y="583.47" width="9.26" height="9.19" fill="#1e2464"/>
<rect x="113.76" y="583.47" width="9.26" height="9.19" fill="#1e2464"/>
<rect x="123.38" y="583.48" width="9.22" height="9.16" fill="#222e80"/>
<rect x="21.39" y="596.7" width="1.83" height="1.81" fill="#56a49e"/>
<rect x="31" y="596.7" width="1.83" height="1.81" fill="#56a49e"/>
<rect x="40.61" y="596.7" width="1.83" height="1.81" fill="#56a49e"/>
<rect x="50.22" y="596.7" width="1.83" height="1.81" fill="#56a49e"/>
<rect x="58.77" y="595.65" width="3.94" height="3.91" fill="#2d96be"/>
<rect x="68.95" y="596.22" width="2.79" height="2.77" fill="#37a1b3"/>
<rect x="78.56" y="596.22" width="2.79" height="2.77" fill="#37a1b3"/>
<rect x="88.17" y="596.22" width="2.79" height="2.77" fill="#37a1b3"/>
<rect x="94.54" y="593.01" width="9.26" height="9.19" fill="#1e2464"/>
<rect x="106.23" y="595.08" width="5.09" height="5.06" fill="#2a84be"/>
<rect x="115.84" y="595.08" width="5.09" height="5.06" fill="#2a84be"/>
<rect x="125.02" y="594.65" width="5.96" height="5.92" fill="#2873bb"/>
<rect x="17.68" y="602.55" width="9.26" height="9.19" fill="#1e2464"/>
<rect x="31" y="606.24" width="1.83" height="1.81" fill="#56a49e"/>
<rect x="40.61" y="606.24" width="1.83" height="1.81" fill="#56a49e"/>
<rect x="50.22" y="606.24" width="1.83" height="1.81" fill="#56a49e"/>
<rect x="56.11" y="602.55" width="9.26" height="9.19" fill="#1e2464"/>
<rect x="65.72" y="602.55" width="9.26" height="9.19" fill="#1e2464"/>
<rect x="75.33" y="602.55" width="9.26" height="9.19" fill="#1e2464"/>
<rect x="84.93" y="602.55" width="9.26" height="9.19" fill="#1e2464"/>
<rect x="96.62" y="604.62" width="5.09" height="5.06" fill="#2a84be"/>
<rect x="104.15" y="602.55" width="9.26" height="9.19" fill="#1e2464"/>
<rect x="113.76" y="602.55" width="9.26" height="9.19" fill="#1e2464"/>
<rect x="123.37" y="602.55" width="9.26" height="9.19" fill="#1e2464"/>
<rect x="17.68" y="612.09" width="9.26" height="9.19" fill="#1e2464"/>
<rect x="31" y="615.78" width="1.83" height="1.81" fill="#56a49e"/>
<rect x="40.61" y="615.78" width="1.83" height="1.81" fill="#56a49e"/>
<rect x="50.22" y="615.78" width="1.83" height="1.81" fill="#56a49e"/>
<rect x="56.11" y="612.09" width="9.26" height="9.19" fill="#1e2464"/>
<rect x="65.72" y="612.09" width="9.26" height="9.19" fill="#1e2464"/>
<rect x="75.33" y="612.09" width="9.26" height="9.19" fill="#1e2464"/>
<rect x="84.93" y="612.09" width="9.26" height="9.19" fill="#1e2464"/>
<rect x="96.62" y="614.16" width="5.09" height="5.06" fill="#2a84be"/>
<rect x="104.15" y="612.09" width="9.26" height="9.19" fill="#1e2464"/>
<rect x="113.76" y="612.09" width="9.26" height="9.19" fill="#1e2464"/>
<rect x="123.37" y="612.09" width="9.26" height="9.19" fill="#1e2464"/>
<rect x="17.69" y="621.65" width="9.22" height="9.16" fill="#222e80"/>
<rect x="31" y="625.32" width="1.83" height="1.81" fill="#56a49e"/>
<rect x="40.61" y="625.32" width="1.83" height="1.81" fill="#56a49e"/>
<rect x="49.74" y="624.85" width="2.79" height="2.77" fill="#37a1b3"/>
<rect x="56.13" y="621.65" width="9.22" height="9.16" fill="#222e80"/>
<rect x="65.73" y="621.65" width="9.22" height="9.16" fill="#222e80"/>
<rect x="75.34" y="621.65" width="9.22" height="9.16" fill="#222e80"/>
<rect x="84.95" y="621.65" width="9.22" height="9.16" fill="#222e80"/>
<rect x="96.19" y="623.27" width="5.96" height="5.92" fill="#2873bb"/>
<rect x="104.15" y="621.63" width="9.26" height="9.19" fill="#1e2464"/>
<rect x="113.76" y="621.63" width="9.26" height="9.19" fill="#1e2464"/>
<rect x="123.37" y="621.63" width="9.26" height="9.19" fill="#1e2464"/>
<text x="20.4" y="514.25" font-size="5.8" text-anchor="middle" stroke="#222" stroke-width="0.18" fill="#222">6</text>
<text x="16.2" y="520.09" font-size="5.8" text-anchor="middle" stroke="#222" stroke-width="0.18" fill="#222" transform="rotate(-90 16.2 520.09)">6</text>
<text x="30.2" y="514.25" font-size="5.8" text-anchor="middle" stroke="#222" stroke-width="0.18" fill="#222">12</text>
<text x="16.2" y="529.86" font-size="5.8" text-anchor="middle" stroke="#222" stroke-width="0.18" fill="#222" transform="rotate(-90 16.2 529.86)">12</text>
<text x="40" y="514.25" font-size="5.8" text-anchor="middle" stroke="#222" stroke-width="0.18" fill="#222">18</text>
<text x="16.2" y="539.63" font-size="5.8" text-anchor="middle" stroke="#222" stroke-width="0.18" fill="#222" transform="rotate(-90 16.2 539.63)">18</text>
<text x="49.8" y="514.25" font-size="5.8" text-anchor="middle" stroke="#222" stroke-width="0.18" fill="#222">24</text>
<text x="16.2" y="549.4" font-size="5.8" text-anchor="middle" stroke="#222" stroke-width="0.18" fill="#222" transform="rotate(-90 16.2 549.4)">24</text>
<text x="59.6" y="514.25" font-size="5.8" text-anchor="middle" stroke="#222" stroke-width="0.18" fill="#222">6</text>
<text x="16.2" y="559.17" font-size="5.8" text-anchor="middle" stroke="#222" stroke-width="0.18" fill="#222" transform="rotate(-90 16.2 559.17)">6</text>
<text x="69.4" y="514.25" font-size="5.8" text-anchor="middle" stroke="#222" stroke-width="0.18" fill="#222">12</text>
<text x="16.2" y="568.94" font-size="5.8" text-anchor="middle" stroke="#222" stroke-width="0.18" fill="#222" transform="rotate(-90 16.2 568.94)">12</text>
<text x="79.2" y="514.25" font-size="5.8" text-anchor="middle" stroke="#222" stroke-width="0.18" fill="#222">18</text>
<text x="16.2" y="578.71" font-size="5.8" text-anchor="middle" stroke="#222" stroke-width="0.18" fill="#222" transform="rotate(-90 16.2 578.71)">18</text>
<text x="89" y="514.25" font-size="5.8" text-anchor="middle" stroke="#222" stroke-width="0.18" fill="#222">24</text>
<text x="16.2" y="588.48" font-size="5.8" text-anchor="middle" stroke="#222" stroke-width="0.18" fill="#222" transform="rotate(-90 16.2 588.48)">24</text>
<text x="98.8" y="514.25" font-size="5.8" text-anchor="middle" stroke="#222" stroke-width="0.18" fill="#222">6</text>
<text x="16.2" y="598.25" font-size="5.8" text-anchor="middle" stroke="#222" stroke-width="0.18" fill="#222" transform="rotate(-90 16.2 598.25)">6</text>
<text x="108.6" y="514.25" font-size="5.8" text-anchor="middle" stroke="#222" stroke-width="0.18" fill="#222">12</text>
<text x="16.2" y="608.02" font-size="5.8" text-anchor="middle" stroke="#222" stroke-width="0.18" fill="#222" transform="rotate(-90 16.2 608.02)">12</text>
<text x="118.41" y="514.25" font-size="5.8" text-anchor="middle" stroke="#222" stroke-width="0.18" fill="#222">18</text>
<text x="16.2" y="617.79" font-size="5.8" text-anchor="middle" stroke="#222" stroke-width="0.18" fill="#222" transform="rotate(-90 16.2 617.79)">18</text>
<text x="128.21" y="514.25" font-size="5.8" text-anchor="middle" stroke="#222" stroke-width="0.18" fill="#222">24</text>
<text x="16.2" y="627.56" font-size="5.8" text-anchor="middle" stroke="#222" stroke-width="0.18" fill="#222" transform="rotate(-90 16.2 627.56)">24</text>
<path d="M15.47 506.6V505.1H54.13V506.6" fill="none" stroke="#333" stroke-width="0.7"/>
<text x="34.72" y="503.8" font-size="6.9" text-anchor="middle" stroke="#222" stroke-width="0.18" fill="#222" textLength="38.5" lengthAdjust="spacingAndGlyphs">Granulocytes</text>
<path d="M9.2 516.9H7.7V555.87H9.2" fill="none" stroke="#333" stroke-width="0.7"/>
<text x="6.4" y="536.38" font-size="6.9" text-anchor="middle" stroke="#222" stroke-width="0.18" fill="#222" transform="rotate(-90 6.4 536.38)" textLength="38.5" lengthAdjust="spacingAndGlyphs">Granulocytes</text>
<path d="M56.53 506.6V505.1H92.87V506.6" fill="none" stroke="#333" stroke-width="0.7"/>
<text x="74.35" y="503.8" font-size="6.9" text-anchor="middle" stroke="#222" stroke-width="0.18" fill="#222" textLength="17.8" lengthAdjust="spacingAndGlyphs">B cells</text>
<path d="M9.2 557.07H7.7V592.73H9.2" fill="none" stroke="#333" stroke-width="0.7"/>
<text x="6.4" y="575.95" font-size="6.9" text-anchor="middle" stroke="#222" stroke-width="0.18" fill="#222" transform="rotate(-90 6.4 575.95)" textLength="17.8" lengthAdjust="spacingAndGlyphs">B cells</text>
<path d="M95.57 506.6V505.1H132.3V506.6" fill="none" stroke="#333" stroke-width="0.7"/>
<text x="113.58" y="503.8" font-size="6.9" text-anchor="middle" stroke="#222" stroke-width="0.18" fill="#222" textLength="17.8" lengthAdjust="spacingAndGlyphs">T cells</text>
<path d="M9.2 596.53H7.7V632.5H9.2" fill="none" stroke="#333" stroke-width="0.7"/>
<text x="6.4" y="615.22" font-size="6.9" text-anchor="middle" stroke="#222" stroke-width="0.18" fill="#222" transform="rotate(-90 6.4 615.22)" textLength="17.8" lengthAdjust="spacingAndGlyphs">T cells</text>
<text x="237.6" y="490.3" font-size="7.3" text-anchor="middle" font-weight="bold" stroke="#111" stroke-width="0.22" fill="#111" textLength="29" lengthAdjust="spacingAndGlyphs">Mouse 8</text>
<rect x="182.2" y="516.2" width="114.5" height="114.8" fill="#fff"/>
<path d="M182.2 516.2V631M182.2 516.2H296.7M192.61 516.2V631M182.2 526.64H296.7M203.02 516.2V631M182.2 537.07H296.7M213.43 516.2V631M182.2 547.51H296.7M223.84 516.2V631M182.2 557.95H296.7M234.25 516.2V631M182.2 568.38H296.7M244.65 516.2V631M182.2 578.82H296.7M255.06 516.2V631M182.2 589.25H296.7M265.47 516.2V631M182.2 599.69H296.7M275.88 516.2V631M182.2 610.13H296.7M286.29 516.2V631M182.2 620.56H296.7M296.7 516.2V631M182.2 631H296.7" stroke="#e4dfe2" stroke-width="0.6" fill="none"/>
<rect x="182.38" y="516.38" width="10.06" height="10.09" fill="#1e2464"/>
<rect x="207.23" y="520.43" width="1.98" height="1.98" fill="#56a49e"/>
<rect x="217.64" y="520.43" width="1.98" height="1.98" fill="#56a49e"/>
<rect x="224.01" y="516.38" width="10.06" height="10.09" fill="#1e2464"/>
<rect x="234.42" y="516.38" width="10.06" height="10.09" fill="#1e2464"/>
<rect x="244.83" y="516.38" width="10.06" height="10.09" fill="#1e2464"/>
<rect x="257.51" y="518.65" width="5.52" height="5.53" fill="#2a84be"/>
<rect x="266.46" y="517.19" width="8.43" height="8.45" fill="#2446a5"/>
<rect x="277.34" y="517.66" width="7.49" height="7.51" fill="#265eb4"/>
<rect x="288.27" y="518.18" width="6.45" height="6.47" fill="#2873bb"/>
<rect x="192.78" y="526.81" width="10.06" height="10.09" fill="#1e2464"/>
<rect x="203.19" y="526.81" width="10.06" height="10.09" fill="#1e2464"/>
<rect x="213.6" y="526.81" width="10.06" height="10.09" fill="#1e2464"/>
<rect x="237.94" y="530.34" width="3.02" height="3.03" fill="#37a1b3"/>
<rect x="247.1" y="529.09" width="5.52" height="5.53" fill="#2a84be"/>
<rect x="259.28" y="530.86" width="1.98" height="1.98" fill="#56a49e"/>
<rect x="269.69" y="530.86" width="1.98" height="1.98" fill="#56a49e"/>
<rect x="280.1" y="530.86" width="1.98" height="1.98" fill="#56a49e"/>
<rect x="288.74" y="529.09" width="5.52" height="5.53" fill="#2a84be"/>
<rect x="186.42" y="541.3" width="1.98" height="1.98" fill="#56a49e"/>
<rect x="192.78" y="537.25" width="10.06" height="10.09" fill="#1e2464"/>
<rect x="203.19" y="537.25" width="10.06" height="10.09" fill="#1e2464"/>
<rect x="213.6" y="537.25" width="10.06" height="10.09" fill="#1e2464"/>
<rect x="228.05" y="541.3" width="1.98" height="1.98" fill="#56a49e"/>
<rect x="237.94" y="540.78" width="3.02" height="3.03" fill="#37a1b3"/>
<rect x="247.1" y="539.53" width="5.52" height="5.53" fill="#2a84be"/>
<rect x="259.28" y="541.3" width="1.98" height="1.98" fill="#56a49e"/>
<rect x="269.69" y="541.3" width="1.98" height="1.98" fill="#56a49e"/>
<rect x="280.1" y="541.3" width="1.98" height="1.98" fill="#56a49e"/>
<rect x="288.74" y="539.53" width="5.52" height="5.53" fill="#2a84be"/>
<rect x="186.42" y="551.74" width="1.98" height="1.98" fill="#56a49e"/>
<rect x="192.78" y="547.68" width="10.06" height="10.09" fill="#1e2464"/>
<rect x="203.19" y="547.68" width="10.06" height="10.09" fill="#1e2464"/>
<rect x="213.6" y="547.68" width="10.06" height="10.09" fill="#1e2464"/>
<rect x="228.05" y="551.74" width="1.98" height="1.98" fill="#56a49e"/>
<rect x="237.94" y="551.21" width="3.02" height="3.03" fill="#37a1b3"/>
<rect x="247.1" y="549.96" width="5.52" height="5.53" fill="#2a84be"/>
<rect x="259.28" y="551.74" width="1.98" height="1.98" fill="#56a49e"/>
<rect x="280.1" y="551.74" width="1.98" height="1.98" fill="#56a49e"/>
<rect x="288.74" y="549.96" width="5.52" height="5.53" fill="#2a84be"/>
<rect x="182.38" y="558.12" width="10.06" height="10.09" fill="#1e2464"/>
<rect x="207.23" y="562.17" width="1.98" height="1.98" fill="#56a49e"/>
<rect x="217.64" y="562.17" width="1.98" height="1.98" fill="#56a49e"/>
<rect x="224.01" y="558.12" width="10.06" height="10.09" fill="#1e2464"/>
<rect x="234.42" y="558.12" width="10.06" height="10.09" fill="#1e2464"/>
<rect x="244.83" y="558.12" width="10.06" height="10.09" fill="#1e2464"/>
<rect x="257.51" y="560.4" width="5.52" height="5.53" fill="#2a84be"/>
<rect x="266.46" y="558.94" width="8.43" height="8.45" fill="#2446a5"/>
<rect x="277.34" y="559.41" width="7.49" height="7.51" fill="#265eb4"/>
<rect x="288.27" y="559.93" width="6.45" height="6.47" fill="#2873bb"/>
<rect x="182.38" y="568.56" width="10.06" height="10.09" fill="#1e2464"/>
<rect x="196.3" y="572.09" width="3.02" height="3.03" fill="#37a1b3"/>
<rect x="206.71" y="572.09" width="3.02" height="3.03" fill="#37a1b3"/>
<rect x="217.12" y="572.09" width="3.02" height="3.03" fill="#37a1b3"/>
<rect x="224.01" y="568.56" width="10.06" height="10.09" fill="#1e2464"/>
<rect x="234.42" y="568.56" width="10.06" height="10.09" fill="#1e2464"/>
<rect x="244.83" y="568.56" width="10.06" height="10.09" fill="#1e2464"/>
<rect x="257.51" y="570.83" width="5.52" height="5.53" fill="#2a84be"/>
<rect x="266.46" y="569.37" width="8.43" height="8.45" fill="#2446a5"/>
<rect x="277.34" y="569.84" width="7.49" height="7.51" fill="#265eb4"/>
<rect x="288.27" y="570.36" width="6.45" height="6.47" fill="#2873bb"/>
<rect x="182.38" y="578.99" width="10.06" height="10.09" fill="#1e2464"/>
<rect x="195.06" y="581.27" width="5.52" height="5.53" fill="#2a84be"/>
<rect x="205.46" y="581.27" width="5.52" height="5.53" fill="#2a84be"/>
<rect x="215.87" y="581.27" width="5.52" height="5.53" fill="#2a84be"/>
<rect x="224.01" y="578.99" width="10.06" height="10.09" fill="#1e2464"/>
<rect x="234.42" y="578.99" width="10.06" height="10.09" fill="#1e2464"/>
<rect x="244.83" y="578.99" width="10.06" height="10.09" fill="#1e2464"/>
<rect x="258.13" y="581.9" width="4.27" height="4.28" fill="#2d96be"/>
<rect x="266.93" y="580.28" width="7.49" height="7.51" fill="#265eb4"/>
<rect x="277.34" y="580.28" width="7.49" height="7.51" fill="#265eb4"/>
<rect x="288.27" y="580.8" width="6.45" height="6.47" fill="#2873bb"/>
<rect x="184.65" y="591.71" width="5.52" height="5.53" fill="#2a84be"/>
<rect x="196.82" y="593.48" width="1.98" height="1.98" fill="#56a49e"/>
<rect x="207.23" y="593.48" width="1.98" height="1.98" fill="#56a49e"/>
<rect x="217.64" y="593.48" width="1.98" height="1.98" fill="#56a49e"/>
<rect x="226.28" y="591.71" width="5.52" height="5.53" fill="#2a84be"/>
<rect x="236.69" y="591.71" width="5.52" height="5.53" fill="#2a84be"/>
<rect x="247.73" y="592.33" width="4.27" height="4.28" fill="#2d96be"/>
<rect x="255.24" y="589.43" width="10.06" height="10.09" fill="#1e2464"/>
<rect x="265.68" y="589.46" width="9.99" height="10.02" fill="#222e80"/>
<rect x="276.09" y="589.46" width="9.99" height="10.02" fill="#222e80"/>
<rect x="286.5" y="589.46" width="9.99" height="10.02" fill="#222e80"/>
<rect x="183.19" y="600.68" width="8.43" height="8.45" fill="#2446a5"/>
<rect x="196.82" y="603.92" width="1.98" height="1.98" fill="#56a49e"/>
<rect x="207.23" y="603.92" width="1.98" height="1.98" fill="#56a49e"/>
<rect x="224.83" y="600.68" width="8.43" height="8.45" fill="#2446a5"/>
<rect x="235.23" y="600.68" width="8.43" height="8.45" fill="#2446a5"/>
<rect x="246.11" y="601.15" width="7.49" height="7.51" fill="#265eb4"/>
<rect x="255.27" y="599.9" width="9.99" height="10.02" fill="#222e80"/>
<rect x="265.65" y="599.87" width="10.06" height="10.09" fill="#1e2464"/>
<rect x="276.06" y="599.87" width="10.06" height="10.09" fill="#1e2464"/>
<rect x="286.5" y="599.9" width="9.99" height="10.02" fill="#222e80"/>
<rect x="183.66" y="611.59" width="7.49" height="7.51" fill="#265eb4"/>
<rect x="196.82" y="614.35" width="1.98" height="1.98" fill="#56a49e"/>
<rect x="207.23" y="614.35" width="1.98" height="1.98" fill="#56a49e"/>
<rect x="217.64" y="614.35" width="1.98" height="1.98" fill="#56a49e"/>
<rect x="225.29" y="611.59" width="7.49" height="7.51" fill="#265eb4"/>
<rect x="235.7" y="611.59" width="7.49" height="7.51" fill="#265eb4"/>
<rect x="246.11" y="611.59" width="7.49" height="7.51" fill="#265eb4"/>
<rect x="255.27" y="610.34" width="9.99" height="10.02" fill="#222e80"/>
<rect x="265.65" y="610.3" width="10.06" height="10.09" fill="#1e2464"/>
<rect x="276.06" y="610.3" width="10.06" height="10.09" fill="#1e2464"/>
<rect x="286.47" y="610.3" width="10.06" height="10.09" fill="#1e2464"/>
<rect x="184.18" y="622.55" width="6.45" height="6.47" fill="#2873bb"/>
<rect x="195.06" y="623.02" width="5.52" height="5.53" fill="#2a84be"/>
<rect x="205.46" y="623.02" width="5.52" height="5.53" fill="#2a84be"/>
<rect x="215.87" y="623.02" width="5.52" height="5.53" fill="#2a84be"/>
<rect x="225.81" y="622.55" width="6.45" height="6.47" fill="#2873bb"/>
<rect x="236.22" y="622.55" width="6.45" height="6.47" fill="#2873bb"/>
<rect x="246.63" y="622.55" width="6.45" height="6.47" fill="#2873bb"/>
<rect x="255.27" y="620.77" width="9.99" height="10.02" fill="#222e80"/>
<rect x="265.68" y="620.77" width="9.99" height="10.02" fill="#222e80"/>
<rect x="276.06" y="620.74" width="10.06" height="10.09" fill="#1e2464"/>
<rect x="286.47" y="620.74" width="10.06" height="10.09" fill="#1e2464"/>
<text x="187.4" y="514.45" font-size="5.8" text-anchor="middle" stroke="#222" stroke-width="0.18" fill="#222">6</text>
<text x="180.9" y="520.82" font-size="5.8" text-anchor="middle" stroke="#222" stroke-width="0.18" fill="#222" transform="rotate(-90 180.9 520.82)">6</text>
<text x="197.81" y="514.45" font-size="5.8" text-anchor="middle" stroke="#222" stroke-width="0.18" fill="#222">12</text>
<text x="180.9" y="531.25" font-size="5.8" text-anchor="middle" stroke="#222" stroke-width="0.18" fill="#222" transform="rotate(-90 180.9 531.25)">12</text>
<text x="208.22" y="514.45" font-size="5.8" text-anchor="middle" stroke="#222" stroke-width="0.18" fill="#222">18</text>
<text x="180.9" y="541.69" font-size="5.8" text-anchor="middle" stroke="#222" stroke-width="0.18" fill="#222" transform="rotate(-90 180.9 541.69)">18</text>
<text x="218.63" y="514.45" font-size="5.8" text-anchor="middle" stroke="#222" stroke-width="0.18" fill="#222">24</text>
<text x="180.9" y="552.13" font-size="5.8" text-anchor="middle" stroke="#222" stroke-width="0.18" fill="#222" transform="rotate(-90 180.9 552.13)">24</text>
<text x="229.04" y="514.45" font-size="5.8" text-anchor="middle" stroke="#222" stroke-width="0.18" fill="#222">6</text>
<text x="180.9" y="562.56" font-size="5.8" text-anchor="middle" stroke="#222" stroke-width="0.18" fill="#222" transform="rotate(-90 180.9 562.56)">6</text>
<text x="239.45" y="514.45" font-size="5.8" text-anchor="middle" stroke="#222" stroke-width="0.18" fill="#222">18</text>
<text x="180.9" y="573" font-size="5.8" text-anchor="middle" stroke="#222" stroke-width="0.18" fill="#222" transform="rotate(-90 180.9 573)">18</text>
<text x="249.86" y="514.45" font-size="5.8" text-anchor="middle" stroke="#222" stroke-width="0.18" fill="#222">24</text>
<text x="180.9" y="583.44" font-size="5.8" text-anchor="middle" stroke="#222" stroke-width="0.18" fill="#222" transform="rotate(-90 180.9 583.44)">24</text>
<text x="260.27" y="514.45" font-size="5.8" text-anchor="middle" stroke="#222" stroke-width="0.18" fill="#222">6</text>
<text x="180.9" y="593.87" font-size="5.8" text-anchor="middle" stroke="#222" stroke-width="0.18" fill="#222" transform="rotate(-90 180.9 593.87)">6</text>
<text x="270.68" y="514.45" font-size="5.8" text-anchor="middle" stroke="#222" stroke-width="0.18" fill="#222">12</text>
<text x="180.9" y="604.31" font-size="5.8" text-anchor="middle" stroke="#222" stroke-width="0.18" fill="#222" transform="rotate(-90 180.9 604.31)">12</text>
<text x="281.09" y="514.45" font-size="5.8" text-anchor="middle" stroke="#222" stroke-width="0.18" fill="#222">18</text>
<text x="180.9" y="614.75" font-size="5.8" text-anchor="middle" stroke="#222" stroke-width="0.18" fill="#222" transform="rotate(-90 180.9 614.75)">18</text>
<text x="291.5" y="514.45" font-size="5.8" text-anchor="middle" stroke="#222" stroke-width="0.18" fill="#222">24</text>
<text x="180.9" y="625.18" font-size="5.8" text-anchor="middle" stroke="#222" stroke-width="0.18" fill="#222" transform="rotate(-90 180.9 625.18)">24</text>
<path d="M182.3 508.5V507H221.74V508.5" fill="none" stroke="#333" stroke-width="0.7"/>
<text x="202.42" y="505.7" font-size="6.9" text-anchor="middle" stroke="#222" stroke-width="0.18" fill="#222" textLength="38.5" lengthAdjust="spacingAndGlyphs">Granulocytes</text>
<path d="M173.9 516.7H172.4V556.15H173.9" fill="none" stroke="#333" stroke-width="0.7"/>
<text x="171.1" y="536.37" font-size="6.9" text-anchor="middle" stroke="#222" stroke-width="0.18" fill="#222" transform="rotate(-90 171.1 536.37)" textLength="38.5" lengthAdjust="spacingAndGlyphs">Granulocytes</text>
<path d="M224.44 508.5V507H253.46V508.5" fill="none" stroke="#333" stroke-width="0.7"/>
<text x="239.75" y="505.7" font-size="6.9" text-anchor="middle" stroke="#222" stroke-width="0.18" fill="#222" textLength="17.8" lengthAdjust="spacingAndGlyphs">B cells</text>
<path d="M173.9 558.95H172.4V587.75H173.9" fill="none" stroke="#333" stroke-width="0.7"/>
<text x="171.1" y="572.7" font-size="6.9" text-anchor="middle" stroke="#222" stroke-width="0.18" fill="#222" transform="rotate(-90 171.1 572.7)" textLength="17.8" lengthAdjust="spacingAndGlyphs">B cells</text>
<path d="M256.96 508.5V507H294.9V508.5" fill="none" stroke="#333" stroke-width="0.7"/>
<text x="275.88" y="505.7" font-size="6.9" text-anchor="middle" stroke="#222" stroke-width="0.18" fill="#222" textLength="17.8" lengthAdjust="spacingAndGlyphs">T cells</text>
<path d="M173.9 591.25H172.4V629.8H173.9" fill="none" stroke="#333" stroke-width="0.7"/>
<text x="171.1" y="610.73" font-size="6.9" text-anchor="middle" stroke="#222" stroke-width="0.18" fill="#222" transform="rotate(-90 171.1 610.73)" textLength="17.8" lengthAdjust="spacingAndGlyphs">T cells</text>
<text x="399" y="490.3" font-size="7.3" text-anchor="middle" font-weight="bold" stroke="#111" stroke-width="0.22" fill="#111" textLength="29" lengthAdjust="spacingAndGlyphs">Mouse 9</text>
<rect x="345.5" y="514" width="115.2" height="115" fill="#fff"/>
<path d="M345.5 514V629M345.5 514H460.7M355.97 514V629M345.5 524.45H460.7M366.45 514V629M345.5 534.91H460.7M376.92 514V629M345.5 545.36H460.7M387.39 514V629M345.5 555.82H460.7M397.86 514V629M345.5 566.27H460.7M408.34 514V629M345.5 576.73H460.7M418.81 514V629M345.5 587.18H460.7M429.28 514V629M345.5 597.64H460.7M439.75 514V629M345.5 608.09H460.7M450.23 514V629M345.5 618.55H460.7M460.7 514V629M345.5 629H460.7" stroke="#e4dfe2" stroke-width="0.6" fill="none"/>
<rect x="345.68" y="514.17" width="10.12" height="10.1" fill="#1e2464"/>
<rect x="356.15" y="514.17" width="10.12" height="10.1" fill="#1e2464"/>
<rect x="366.62" y="514.17" width="10.12" height="10.1" fill="#1e2464"/>
<rect x="377.09" y="514.17" width="10.12" height="10.1" fill="#1e2464"/>
<rect x="389.85" y="516.46" width="5.55" height="5.54" fill="#2a84be"/>
<rect x="398.86" y="514.99" width="8.48" height="8.47" fill="#2446a5"/>
<rect x="409.8" y="515.46" width="7.54" height="7.53" fill="#265eb4"/>
<rect x="419.02" y="514.21" width="10.05" height="10.04" fill="#222e80"/>
<rect x="433" y="517.71" width="3.04" height="3.03" fill="#37a1b3"/>
<rect x="444" y="518.23" width="1.99" height="1.99" fill="#56a49e"/>
<rect x="452.69" y="516.46" width="5.55" height="5.54" fill="#2a84be"/>
<rect x="345.68" y="524.63" width="10.12" height="10.1" fill="#1e2464"/>
<rect x="356.15" y="524.63" width="10.12" height="10.1" fill="#1e2464"/>
<rect x="366.62" y="524.63" width="10.12" height="10.1" fill="#1e2464"/>
<rect x="377.09" y="524.63" width="10.12" height="10.1" fill="#1e2464"/>
<rect x="389.85" y="526.91" width="5.55" height="5.54" fill="#2a84be"/>
<rect x="398.86" y="525.45" width="8.48" height="8.47" fill="#2446a5"/>
<rect x="409.8" y="525.92" width="7.54" height="7.53" fill="#265eb4"/>
<rect x="419.02" y="524.66" width="10.05" height="10.04" fill="#222e80"/>
<rect x="433" y="528.17" width="3.04" height="3.03" fill="#37a1b3"/>
<rect x="444" y="528.69" width="1.99" height="1.99" fill="#56a49e"/>
<rect x="453.32" y="527.54" width="4.29" height="4.29" fill="#2d96be"/>
<rect x="345.68" y="535.08" width="10.12" height="10.1" fill="#1e2464"/>
<rect x="356.15" y="535.08" width="10.12" height="10.1" fill="#1e2464"/>
<rect x="366.62" y="535.08" width="10.12" height="10.1" fill="#1e2464"/>
<rect x="377.09" y="535.08" width="10.12" height="10.1" fill="#1e2464"/>
<rect x="389.85" y="537.37" width="5.55" height="5.54" fill="#2a84be"/>
<rect x="398.86" y="535.9" width="8.48" height="8.47" fill="#2446a5"/>
<rect x="409.8" y="536.37" width="7.54" height="7.53" fill="#265eb4"/>
<rect x="419.02" y="535.12" width="10.05" height="10.04" fill="#222e80"/>
<rect x="433" y="538.62" width="3.04" height="3.03" fill="#37a1b3"/>
<rect x="444" y="539.14" width="1.99" height="1.99" fill="#56a49e"/>
<rect x="453.32" y="537.99" width="4.29" height="4.29" fill="#2d96be"/>
<rect x="345.68" y="545.54" width="10.12" height="10.1" fill="#1e2464"/>
<rect x="356.15" y="545.54" width="10.12" height="10.1" fill="#1e2464"/>
<rect x="366.62" y="545.54" width="10.12" height="10.1" fill="#1e2464"/>
<rect x="377.09" y="545.54" width="10.12" height="10.1" fill="#1e2464"/>
<rect x="389.85" y="547.82" width="5.55" height="5.54" fill="#2a84be"/>
<rect x="398.86" y="546.36" width="8.48" height="8.47" fill="#2446a5"/>
<rect x="409.8" y="546.83" width="7.54" height="7.53" fill="#265eb4"/>
<rect x="419.02" y="545.57" width="10.05" height="10.04" fill="#222e80"/>
<rect x="433" y="549.08" width="3.04" height="3.03" fill="#37a1b3"/>
<rect x="444" y="549.6" width="1.99" height="1.99" fill="#56a49e"/>
<rect x="453.32" y="548.45" width="4.29" height="4.29" fill="#2d96be"/>
<rect x="347.96" y="558.28" width="5.55" height="5.54" fill="#2a84be"/>
<rect x="358.43" y="558.28" width="5.55" height="5.54" fill="#2a84be"/>
<rect x="368.91" y="558.28" width="5.55" height="5.54" fill="#2a84be"/>
<rect x="379.38" y="558.28" width="5.55" height="5.54" fill="#2a84be"/>
<rect x="387.57" y="555.99" width="10.12" height="10.1" fill="#1e2464"/>
<rect x="398.86" y="556.81" width="8.48" height="8.47" fill="#2446a5"/>
<rect x="409.8" y="557.28" width="7.54" height="7.53" fill="#265eb4"/>
<rect x="420.28" y="557.28" width="7.54" height="7.53" fill="#265eb4"/>
<rect x="431.27" y="557.8" width="6.49" height="6.48" fill="#2873bb"/>
<rect x="441.74" y="557.8" width="6.49" height="6.48" fill="#2873bb"/>
<rect x="453.95" y="559.53" width="3.04" height="3.03" fill="#37a1b3"/>
<rect x="346.49" y="567.27" width="8.48" height="8.47" fill="#2446a5"/>
<rect x="356.97" y="567.27" width="8.48" height="8.47" fill="#2446a5"/>
<rect x="367.44" y="567.27" width="8.48" height="8.47" fill="#2446a5"/>
<rect x="377.91" y="567.27" width="8.48" height="8.47" fill="#2446a5"/>
<rect x="388.39" y="567.27" width="8.48" height="8.47" fill="#2446a5"/>
<rect x="398.04" y="566.45" width="10.12" height="10.1" fill="#1e2464"/>
<rect x="409.33" y="567.27" width="8.48" height="8.47" fill="#2446a5"/>
<rect x="419.33" y="566.8" width="9.43" height="9.41" fill="#223084"/>
<rect x="431.74" y="568.73" width="5.55" height="5.54" fill="#2a84be"/>
<rect x="442.84" y="569.36" width="4.29" height="4.29" fill="#2d96be"/>
<rect x="453.95" y="569.98" width="3.04" height="3.03" fill="#37a1b3"/>
<rect x="346.97" y="578.19" width="7.54" height="7.53" fill="#265eb4"/>
<rect x="357.44" y="578.19" width="7.54" height="7.53" fill="#265eb4"/>
<rect x="367.91" y="578.19" width="7.54" height="7.53" fill="#265eb4"/>
<rect x="378.38" y="578.19" width="7.54" height="7.53" fill="#265eb4"/>
<rect x="388.86" y="578.19" width="7.54" height="7.53" fill="#265eb4"/>
<rect x="398.86" y="577.72" width="8.48" height="8.47" fill="#2446a5"/>
<rect x="408.51" y="576.9" width="10.12" height="10.1" fill="#1e2464"/>
<rect x="419.8" y="577.72" width="8.48" height="8.47" fill="#2446a5"/>
<rect x="432.37" y="579.81" width="4.29" height="4.29" fill="#2d96be"/>
<rect x="442.84" y="579.81" width="4.29" height="4.29" fill="#2d96be"/>
<rect x="453.32" y="579.81" width="4.29" height="4.29" fill="#2d96be"/>
<rect x="345.71" y="587.39" width="10.05" height="10.04" fill="#222e80"/>
<rect x="356.18" y="587.39" width="10.05" height="10.04" fill="#222e80"/>
<rect x="366.65" y="587.39" width="10.05" height="10.04" fill="#222e80"/>
<rect x="377.13" y="587.39" width="10.05" height="10.04" fill="#222e80"/>
<rect x="388.86" y="588.65" width="7.54" height="7.53" fill="#265eb4"/>
<rect x="398.39" y="587.7" width="9.43" height="9.41" fill="#223084"/>
<rect x="409.33" y="588.18" width="8.48" height="8.47" fill="#2446a5"/>
<rect x="418.98" y="587.36" width="10.12" height="10.1" fill="#1e2464"/>
<rect x="431.74" y="589.64" width="5.55" height="5.54" fill="#2a84be"/>
<rect x="442.84" y="590.27" width="4.29" height="4.29" fill="#2d96be"/>
<rect x="453.32" y="590.27" width="4.29" height="4.29" fill="#2d96be"/>
<rect x="349.22" y="601.35" width="3.04" height="3.03" fill="#37a1b3"/>
<rect x="359.69" y="601.35" width="3.04" height="3.03" fill="#37a1b3"/>
<rect x="370.16" y="601.35" width="3.04" height="3.03" fill="#37a1b3"/>
<rect x="380.64" y="601.35" width="3.04" height="3.03" fill="#37a1b3"/>
<rect x="389.38" y="599.62" width="6.49" height="6.48" fill="#2873bb"/>
<rect x="400.32" y="600.09" width="5.55" height="5.54" fill="#2a84be"/>
<rect x="411.43" y="600.72" width="4.29" height="4.29" fill="#2d96be"/>
<rect x="421.27" y="600.09" width="5.55" height="5.54" fill="#2a84be"/>
<rect x="429.46" y="597.81" width="10.12" height="10.1" fill="#1e2464"/>
<rect x="439.93" y="597.81" width="10.12" height="10.1" fill="#1e2464"/>
<rect x="451.69" y="599.1" width="7.54" height="7.53" fill="#265eb4"/>
<rect x="349.74" y="612.33" width="1.99" height="1.99" fill="#56a49e"/>
<rect x="360.21" y="612.33" width="1.99" height="1.99" fill="#56a49e"/>
<rect x="370.69" y="612.33" width="1.99" height="1.99" fill="#56a49e"/>
<rect x="381.16" y="612.33" width="1.99" height="1.99" fill="#56a49e"/>
<rect x="389.38" y="610.08" width="6.49" height="6.48" fill="#2873bb"/>
<rect x="400.95" y="611.18" width="4.29" height="4.29" fill="#2d96be"/>
<rect x="411.43" y="611.18" width="4.29" height="4.29" fill="#2d96be"/>
<rect x="421.9" y="611.18" width="4.29" height="4.29" fill="#2d96be"/>
<rect x="429.46" y="608.27" width="10.12" height="10.1" fill="#1e2464"/>
<rect x="439.93" y="608.27" width="10.12" height="10.1" fill="#1e2464"/>
<rect x="451.69" y="609.55" width="7.54" height="7.53" fill="#265eb4"/>
<rect x="347.96" y="621" width="5.55" height="5.54" fill="#2a84be"/>
<rect x="359.06" y="621.63" width="4.29" height="4.29" fill="#2d96be"/>
<rect x="369.53" y="621.63" width="4.29" height="4.29" fill="#2d96be"/>
<rect x="380.01" y="621.63" width="4.29" height="4.29" fill="#2d96be"/>
<rect x="391.11" y="622.26" width="3.04" height="3.03" fill="#37a1b3"/>
<rect x="401.58" y="622.26" width="3.04" height="3.03" fill="#37a1b3"/>
<rect x="411.43" y="621.63" width="4.29" height="4.29" fill="#2d96be"/>
<rect x="421.9" y="621.63" width="4.29" height="4.29" fill="#2d96be"/>
<rect x="430.75" y="620.01" width="7.54" height="7.53" fill="#265eb4"/>
<rect x="441.22" y="620.01" width="7.54" height="7.53" fill="#265eb4"/>
<rect x="450.4" y="618.72" width="10.12" height="10.1" fill="#1e2464"/>
<text x="350.74" y="512.15" font-size="5.8" text-anchor="middle" stroke="#222" stroke-width="0.18" fill="#222">6</text>
<text x="344.2" y="518.63" font-size="5.8" text-anchor="middle" stroke="#222" stroke-width="0.18" fill="#222" transform="rotate(-90 344.2 518.63)">6</text>
<text x="361.21" y="512.15" font-size="5.8" text-anchor="middle" stroke="#222" stroke-width="0.18" fill="#222">12</text>
<text x="344.2" y="529.08" font-size="5.8" text-anchor="middle" stroke="#222" stroke-width="0.18" fill="#222" transform="rotate(-90 344.2 529.08)">12</text>
<text x="371.68" y="512.15" font-size="5.8" text-anchor="middle" stroke="#222" stroke-width="0.18" fill="#222">18</text>
<text x="344.2" y="539.54" font-size="5.8" text-anchor="middle" stroke="#222" stroke-width="0.18" fill="#222" transform="rotate(-90 344.2 539.54)">18</text>
<text x="382.15" y="512.15" font-size="5.8" text-anchor="middle" stroke="#222" stroke-width="0.18" fill="#222">24</text>
<text x="344.2" y="549.99" font-size="5.8" text-anchor="middle" stroke="#222" stroke-width="0.18" fill="#222" transform="rotate(-90 344.2 549.99)">24</text>
<text x="392.63" y="512.15" font-size="5.8" text-anchor="middle" stroke="#222" stroke-width="0.18" fill="#222">6</text>
<text x="344.2" y="560.45" font-size="5.8" text-anchor="middle" stroke="#222" stroke-width="0.18" fill="#222" transform="rotate(-90 344.2 560.45)">6</text>
<text x="403.1" y="512.15" font-size="5.8" text-anchor="middle" stroke="#222" stroke-width="0.18" fill="#222">12</text>
<text x="344.2" y="570.9" font-size="5.8" text-anchor="middle" stroke="#222" stroke-width="0.18" fill="#222" transform="rotate(-90 344.2 570.9)">12</text>
<text x="413.57" y="512.15" font-size="5.8" text-anchor="middle" stroke="#222" stroke-width="0.18" fill="#222">18</text>
<text x="344.2" y="581.35" font-size="5.8" text-anchor="middle" stroke="#222" stroke-width="0.18" fill="#222" transform="rotate(-90 344.2 581.35)">18</text>
<text x="424.05" y="512.15" font-size="5.8" text-anchor="middle" stroke="#222" stroke-width="0.18" fill="#222">24</text>
<text x="344.2" y="591.81" font-size="5.8" text-anchor="middle" stroke="#222" stroke-width="0.18" fill="#222" transform="rotate(-90 344.2 591.81)">24</text>
<text x="434.52" y="512.15" font-size="5.8" text-anchor="middle" stroke="#222" stroke-width="0.18" fill="#222">12</text>
<text x="344.2" y="602.26" font-size="5.8" text-anchor="middle" stroke="#222" stroke-width="0.18" fill="#222" transform="rotate(-90 344.2 602.26)">12</text>
<text x="444.99" y="512.15" font-size="5.8" text-anchor="middle" stroke="#222" stroke-width="0.18" fill="#222">18</text>
<text x="344.2" y="612.72" font-size="5.8" text-anchor="middle" stroke="#222" stroke-width="0.18" fill="#222" transform="rotate(-90 344.2 612.72)">18</text>
<text x="455.46" y="512.15" font-size="5.8" text-anchor="middle" stroke="#222" stroke-width="0.18" fill="#222">24</text>
<text x="344.2" y="623.17" font-size="5.8" text-anchor="middle" stroke="#222" stroke-width="0.18" fill="#222" transform="rotate(-90 344.2 623.17)">24</text>
<path d="M345.6 505.7V504.2H385.29V505.7" fill="none" stroke="#333" stroke-width="0.7"/>
<text x="365.85" y="502.9" font-size="6.9" text-anchor="middle" stroke="#222" stroke-width="0.18" fill="#222" textLength="38.5" lengthAdjust="spacingAndGlyphs">Granulocytes</text>
<path d="M337.2 514.5H335.7V554.02H337.2" fill="none" stroke="#333" stroke-width="0.7"/>
<text x="334.4" y="534.21" font-size="6.9" text-anchor="middle" stroke="#222" stroke-width="0.18" fill="#222" transform="rotate(-90 334.4 534.21)" textLength="38.5" lengthAdjust="spacingAndGlyphs">Granulocytes</text>
<path d="M387.99 505.7V504.2H427.68V505.7" fill="none" stroke="#333" stroke-width="0.7"/>
<text x="408.64" y="502.9" font-size="6.9" text-anchor="middle" stroke="#222" stroke-width="0.18" fill="#222" textLength="17.8" lengthAdjust="spacingAndGlyphs">B cells</text>
<path d="M337.2 556.82H335.7V596.14H337.2" fill="none" stroke="#333" stroke-width="0.7"/>
<text x="334.4" y="575.83" font-size="6.9" text-anchor="middle" stroke="#222" stroke-width="0.18" fill="#222" transform="rotate(-90 334.4 575.83)" textLength="17.8" lengthAdjust="spacingAndGlyphs">B cells</text>
<path d="M431.18 505.7V504.2H458.9V505.7" fill="none" stroke="#333" stroke-width="0.7"/>
<text x="444.99" y="502.9" font-size="6.9" text-anchor="middle" stroke="#222" stroke-width="0.18" fill="#222" textLength="17.8" lengthAdjust="spacingAndGlyphs">T cells</text>
<path d="M337.2 599.64H335.7V627.8H337.2" fill="none" stroke="#333" stroke-width="0.7"/>
<text x="334.4" y="613.92" font-size="6.9" text-anchor="middle" stroke="#222" stroke-width="0.18" fill="#222" transform="rotate(-90 334.4 613.92)" textLength="17.8" lengthAdjust="spacingAndGlyphs">T cells</text>
<defs><linearGradient id="cb" x1="0" y1="0" x2="0" y2="1">
<stop offset="0%" stop-color="#1e2464"/>
<stop offset="9.6%" stop-color="#222e80"/>
<stop offset="20%" stop-color="#243a9a"/>
<stop offset="30.4%" stop-color="#244caa"/>
<stop offset="40%" stop-color="#2662b6"/>
<stop offset="49.6%" stop-color="#2876bc"/>
<stop offset="60%" stop-color="#2a88be"/>
<stop offset="70.4%" stop-color="#2e98be"/>
<stop offset="80%" stop-color="#3ca6ae"/>
<stop offset="89.6%" stop-color="#5abab0"/>
<stop offset="100%" stop-color="#80ccb4"/>
</linearGradient></defs>
<rect x="482.6" y="213" width="9" height="230.2" fill="url(#cb)" stroke="#1c2430" stroke-width="0.6"/>
<path d="M490.4 213H493" stroke="#222" stroke-width="0.6"/>
<text x="501.5" y="215.8" font-size="7.6" text-anchor="middle" stroke="#222" stroke-width="0.18" fill="#222">1</text>
<path d="M490.4 236.02H493" stroke="#222" stroke-width="0.6"/>
<text x="494.2" y="238.82" font-size="7.6" text-anchor="start" stroke="#222" stroke-width="0.18" fill="#222">0.88</text>
<path d="M490.4 259.04H493" stroke="#222" stroke-width="0.6"/>
<text x="494.2" y="261.84" font-size="7.6" text-anchor="start" stroke="#222" stroke-width="0.18" fill="#222">0.75</text>
<path d="M490.4 282.06H493" stroke="#222" stroke-width="0.6"/>
<text x="494.2" y="284.86" font-size="7.6" text-anchor="start" stroke="#222" stroke-width="0.18" fill="#222">0.62</text>
<path d="M490.4 305.08H493" stroke="#222" stroke-width="0.6"/>
<text x="502" y="307.88" font-size="7.6" text-anchor="middle" stroke="#222" stroke-width="0.18" fill="#222">0.5</text>
<path d="M490.4 328.1H493" stroke="#222" stroke-width="0.6"/>
<text x="494.2" y="330.9" font-size="7.6" text-anchor="start" stroke="#222" stroke-width="0.18" fill="#222">0.38</text>
<path d="M490.4 351.12H493" stroke="#222" stroke-width="0.6"/>
<text x="494.2" y="353.92" font-size="7.6" text-anchor="start" stroke="#222" stroke-width="0.18" fill="#222">0.25</text>
<path d="M490.4 374.14H493" stroke="#222" stroke-width="0.6"/>
<text x="494.2" y="376.94" font-size="7.6" text-anchor="start" stroke="#222" stroke-width="0.18" fill="#222">0.12</text>
<path d="M490.4 397.16H493" stroke="#222" stroke-width="0.6"/>
<text x="501.5" y="399.96" font-size="7.6" text-anchor="middle" stroke="#222" stroke-width="0.18" fill="#222">0</text>
<path d="M490.4 420.18H493" stroke="#222" stroke-width="0.6"/>
<text x="492.4" y="422.98" font-size="7.6" text-anchor="start" stroke="#222" stroke-width="0.18" fill="#222">-0.12</text>
<path d="M490.4 443.2H493" stroke="#222" stroke-width="0.6"/>
<text x="492.4" y="446" font-size="7.6" text-anchor="start" stroke="#222" stroke-width="0.18" fill="#222">-0.25</text>
<text x="515.8" y="324.5" font-size="7" text-anchor="middle" stroke="#222" stroke-width="0.18" fill="#222" transform="rotate(90 515.8 324.5)" textLength="65" lengthAdjust="spacingAndGlyphs" dominant-baseline="central">Pearson correlation</text>
<text x="0.4" y="176.8" font-size="10.2" text-anchor="start" font-weight="bold" stroke="#111" stroke-width="0.22" fill="#111">B</text>
<text x="0.5" y="493.7" font-size="10.2" text-anchor="start" font-weight="bold" stroke="#111" stroke-width="0.22" fill="#111">C</text>
</svg>
</body>
</html>
